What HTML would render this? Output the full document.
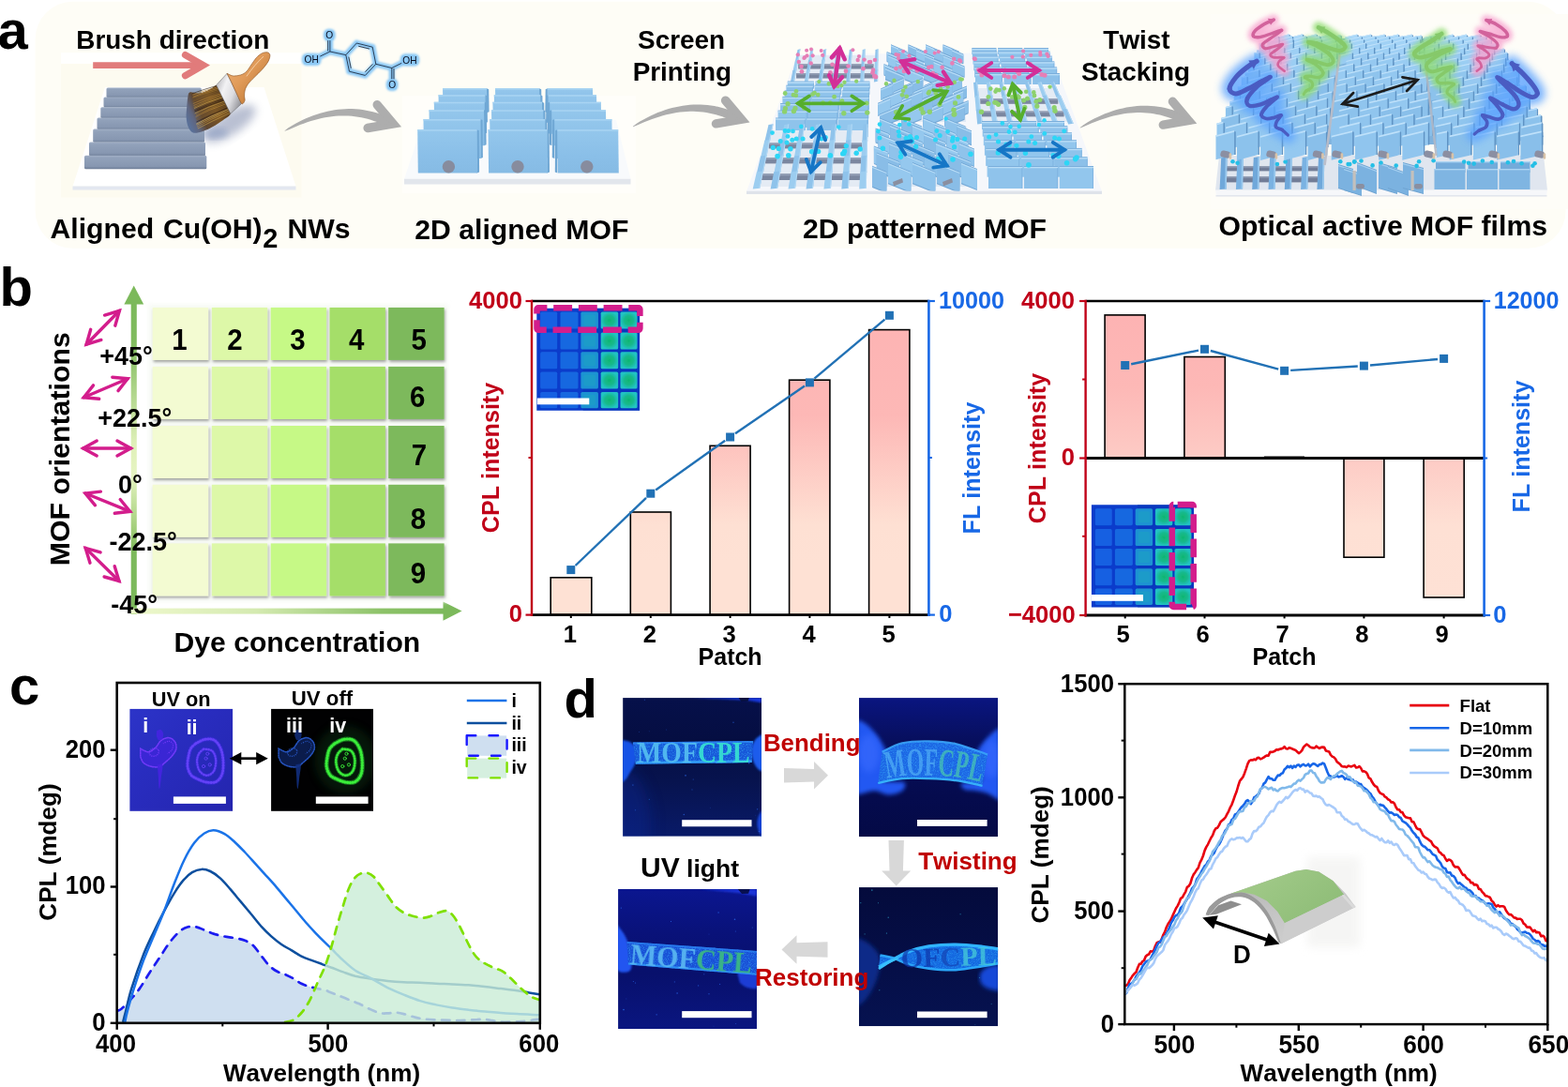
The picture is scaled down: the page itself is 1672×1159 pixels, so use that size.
<!DOCTYPE html>
<html lang="en">
<head>
<meta charset="utf-8">
<title>Figure: aligned MOF films with circularly polarized luminescence</title>
<style>
html,body{margin:0;padding:0;background:#fff;}
body{width:1672px;height:1159px;overflow:hidden;}
svg{display:block;}
text{font-family:"Liberation Sans",Arial,Helvetica,sans-serif;font-weight:bold;font-kerning:none;}
.r{fill:#c00018;}
.bl{fill:#1868e6;}
.w{fill:#fff;}
.serif{font-family:"Liberation Serif","Times New Roman",serif;}
.reg{font-weight:normal;}
</style>
</head>
<body>
<svg width="1672" height="1159" viewBox="0 0 1672 1159">
<!-- defs -->
<defs>
<linearGradient id="barG1" gradientUnits="userSpaceOnUse" x1="0" y1="330" x2="0" y2="600">
<stop offset="0" stop-color="#fdb3b3"/><stop offset="0.42" stop-color="#fdb8b6"/><stop offset="0.85" stop-color="#fee0d3"/><stop offset="1" stop-color="#fee1d4"/>
</linearGradient>
<linearGradient id="barG2" gradientUnits="userSpaceOnUse" x1="0" y1="336" x2="0" y2="640">
<stop offset="0" stop-color="#fdb3b3"/><stop offset="0.25" stop-color="#fdb8b6"/><stop offset="0.5" stop-color="#fdcbc5"/><stop offset="0.74" stop-color="#fee0d4"/><stop offset="1" stop-color="#fee1d5"/>
</linearGradient>
<linearGradient id="gV" gradientUnits="userSpaceOnUse" x1="0" y1="324" x2="0" y2="655">
<stop offset="0" stop-color="#7cb95b"/><stop offset="0.12" stop-color="#80bb5e"/><stop offset="0.45" stop-color="#dff0b8"/><stop offset="0.55" stop-color="#e6f4c2"/><stop offset="0.72" stop-color="#a4cf7c"/><stop offset="0.8" stop-color="#7cb95b"/><stop offset="1" stop-color="#7cb95b"/>
</linearGradient>
<linearGradient id="gH" gradientUnits="userSpaceOnUse" x1="140" y1="0" x2="475" y2="0">
<stop offset="0" stop-color="#eef8cc"/><stop offset="0.4" stop-color="#d4eab0"/><stop offset="0.8" stop-color="#8cc268"/><stop offset="1" stop-color="#7cb95b"/>
</linearGradient>
<filter id="cellSh" x="-10%" y="-10%" width="125%" height="125%">
<feGaussianBlur in="SourceAlpha" stdDeviation="1.6"/><feOffset dx="1" dy="1.5"/><feComponentTransfer><feFuncA type="linear" slope="0.36"/></feComponentTransfer>
<feMerge><feMergeNode/><feMergeNode in="SourceGraphic"/></feMerge>
</filter>
<filter id="blur1"><feGaussianBlur stdDeviation="1"/></filter>
<filter id="blur2"><feGaussianBlur stdDeviation="2"/></filter>
<filter id="blur3"><feGaussianBlur stdDeviation="3.2"/></filter>
<filter id="blur5" x="-30%" y="-30%" width="160%" height="160%"><feGaussianBlur stdDeviation="5"/></filter>
<filter id="blur8" x="-40%" y="-40%" width="180%" height="180%"><feGaussianBlur stdDeviation="8"/></filter>
<filter id="glowA" filterUnits="userSpaceOnUse" x="1280" y="0" width="392" height="240"><feGaussianBlur stdDeviation="2.6"/></filter>
<filter id="glowB" filterUnits="userSpaceOnUse" x="1280" y="0" width="392" height="240"><feGaussianBlur stdDeviation="4.2"/></filter>
<filter id="tsoft" x="-5%" y="-20%" width="110%" height="140%"><feGaussianBlur stdDeviation="0.55"/></filter>
<filter id="soft" x="-5%" y="-5%" width="110%" height="110%"><feGaussianBlur stdDeviation="0.75"/></filter>
</defs>

<!-- panel_a -->
<g id="panel-a">
<rect x="37.6" y="1.8" width="1632" height="263" rx="40" ry="40" fill="#fefdf6"/>
<rect x="65" y="56.2" width="256.5" height="12.5" fill="#ffffff" opacity="0.9"/>
<rect x="65" y="68" width="256.5" height="142.5" fill="#fdfbf0" />
<polygon points="112,93 281.5,93 315.5,198.8 77.5,198.8" fill="#ffffff" />
<polygon points="77.5,198.6 315.5,198.6 315.5,202.6 77.5,202.6" fill="#e3e7f0" />
<ellipse cx="245" cy="132" rx="32" ry="12" fill="#4a5a8a" opacity="0.38" filter="url(#blur5)" transform="rotate(-33 245 132)"/>
<ellipse cx="228" cy="142" rx="15" ry="6" fill="#6f88b8" opacity="0.35" filter="url(#blur3)"/>
<linearGradient id="nwG" x1="0" y1="0" x2="0" y2="1"><stop offset="0" stop-color="#a2b0c6"/><stop offset="0.18" stop-color="#91a1ba"/><stop offset="0.8" stop-color="#8797b1"/><stop offset="0.93" stop-color="#7888a2"/><stop offset="1" stop-color="#66768f"/></linearGradient>
<rect x="113.5" y="93.5" width="101.3" height="10.4" rx="1.5" fill="url(#nwG)"/>
<rect x="110.5" y="103.4" width="105.5" height="11.2" rx="1.5" fill="url(#nwG)"/>
<rect x="107.3" y="114.2" width="109.2" height="11.8" rx="1.5" fill="url(#nwG)"/>
<rect x="103.5" y="125.5" width="113.8" height="12.6" rx="1.5" fill="url(#nwG)"/>
<rect x="99.2" y="137.6" width="118.8" height="14.2" rx="1.5" fill="url(#nwG)"/>
<rect x="95" y="151.4" width="124" height="14.8" rx="1.5" fill="url(#nwG)"/>
<rect x="90" y="165.8" width="130.3" height="14.4" rx="1.5" fill="url(#nwG)"/>
<linearGradient id="brG" x1="0" y1="0.7" x2="1" y2="0.2"><stop offset="0" stop-color="#5a7098"/><stop offset="0.14" stop-color="#5f6680"/><stop offset="0.3" stop-color="#5e4630"/><stop offset="0.6" stop-color="#7a5424"/><stop offset="1" stop-color="#3a2412"/></linearGradient>
<path d="M230.7,90.7C229.2,91.7 224.7,95 221.4,96.4C218.1,97.9 214.3,99.2 211.1,99.5C207.9,99.9 204.1,97.7 202.3,98.5C200.5,99.3 200.7,101.5 200.2,104.2C199.7,106.9 199.4,111.1 199.2,114.6C198.9,118 198.4,121.5 198.6,124.9C198.9,128.4 199.5,132.5 200.7,135.3C201.9,138 203.3,140.7 205.9,141.5C208.5,142.3 212.8,141 216.2,139.9C219.7,138.9 223,137.3 226.6,135.3C230.2,133.3 234.8,130.4 238,128C241.2,125.7 245.1,123.9 245.8,121.3C246.5,118.7 243.8,116 242.1,112.5C240.5,109 237,102.1 235.9,100.1 Z" fill="url(#brG)"/>
<path d="M231.1,91.4 Q216.7,95.5 205.1,99.7" stroke="#3a2a1a" stroke-width="0.8" fill="none" opacity="0.8"/>
<path d="M231.8,92.8 Q217.2,96.9 205.4,101.2" stroke="#b98a3a" stroke-width="0.8" fill="none" opacity="0.8"/>
<path d="M232.5,94.2 Q216.7,98.4 205.7,103.4" stroke="#b98a3a" stroke-width="0.8" fill="none" opacity="0.8"/>
<path d="M233.1,95.6 Q217.1,99.8 205.5,104.4" stroke="#9a7430" stroke-width="0.8" fill="none" opacity="0.8"/>
<path d="M233.8,97 Q218.1,101.3 205.7,107.1" stroke="#7a5a2a" stroke-width="0.8" fill="none" opacity="0.8"/>
<path d="M234.5,98.4 Q218,102.7 205.6,108.5" stroke="#7a5a2a" stroke-width="0.8" fill="none" opacity="0.8"/>
<path d="M235.2,99.8 Q219.1,104.5 205.8,110.5" stroke="#b98a3a" stroke-width="0.8" fill="none" opacity="0.8"/>
<path d="M235.9,101.2 Q219.2,106.8 206.5,112.5" stroke="#b98a3a" stroke-width="0.8" fill="none" opacity="0.8"/>
<path d="M236.5,102.5 Q219.1,108.7 206.6,114.3" stroke="#9a7430" stroke-width="0.8" fill="none" opacity="0.8"/>
<path d="M237.2,103.9 Q219.7,109.1 207,115.5" stroke="#c8a048" stroke-width="0.8" fill="none" opacity="0.8"/>
<path d="M237.9,105.3 Q220.7,111.5 207.3,117.8" stroke="#3a2a1a" stroke-width="0.8" fill="none" opacity="0.8"/>
<path d="M238.6,106.7 Q221.4,112.6 207.6,119" stroke="#2d1d10" stroke-width="0.8" fill="none" opacity="0.8"/>
<path d="M239.3,108.1 Q220.9,114.1 207.7,121" stroke="#c8a048" stroke-width="0.8" fill="none" opacity="0.8"/>
<path d="M240,109.5 Q222.3,116 209,122.7" stroke="#9a7430" stroke-width="0.8" fill="none" opacity="0.8"/>
<path d="M240.6,110.9 Q221.8,117.2 208.5,124.7" stroke="#b98a3a" stroke-width="0.8" fill="none" opacity="0.8"/>
<path d="M241.3,112.3 Q222.5,119.3 209.1,126.9" stroke="#7a5a2a" stroke-width="0.8" fill="none" opacity="0.8"/>
<path d="M242,113.7 Q223.6,120.8 209.8,128.1" stroke="#7a5a2a" stroke-width="0.8" fill="none" opacity="0.8"/>
<path d="M242.7,115 Q224.1,122.5 209.4,130.1" stroke="#2d1d10" stroke-width="0.8" fill="none" opacity="0.8"/>
<path d="M243.4,116.4 Q223.4,124.3 209.1,132.3" stroke="#d6b45e" stroke-width="0.8" fill="none" opacity="0.8"/>
<path d="M244.1,117.8 Q224.3,125.8 209.8,133.3" stroke="#c8a048" stroke-width="0.8" fill="none" opacity="0.8"/>
<path d="M244.7,119.2 Q224.6,126.9 210,135.3" stroke="#b98a3a" stroke-width="0.8" fill="none" opacity="0.8"/>
<path d="M245.4,120.6 Q225.8,129.1 210.9,137" stroke="#c8a048" stroke-width="0.8" fill="none" opacity="0.8"/>
<linearGradient id="feG" x1="0" y1="0.2" x2="1" y2="0.8"><stop offset="0" stop-color="#b9b9be"/><stop offset="0.3" stop-color="#f2f2f4"/><stop offset="0.62" stop-color="#dcdce0"/><stop offset="1" stop-color="#8a8a90"/></linearGradient>
<polygon points="230.7,90.7 242.1,78.3 257.7,110.4 245.8,121.3" fill="url(#feG)" stroke="#5e5e64" stroke-width="0.5"/>
<linearGradient id="hdG" x1="0" y1="0" x2="1" y2="1"><stop offset="0" stop-color="#f0b478"/><stop offset="0.45" stop-color="#e09a58"/><stop offset="0.8" stop-color="#c07a38"/><stop offset="1" stop-color="#9a5a24"/></linearGradient>
<path d="M242.1,78.3C243.2,78.7 245.9,80.6 248.4,80.9C250.8,81.2 254.2,80.6 256.6,79.9C259.1,79.1 261,78.1 262.9,76.2C264.7,74.4 266.3,71.4 268,69C269.8,66.6 271.3,63.8 273.2,61.7C275.1,59.7 277.4,57.8 279.4,56.8C281.4,55.8 283.7,55.5 285.1,55.8C286.5,56.2 287.8,57.2 287.9,58.8C288,60.5 287.3,63.3 285.8,65.9C284.4,68.4 281.9,71.4 279.4,74.2C277,76.9 273.6,79.9 271.1,82.5C268.6,85 266,87.5 264.4,89.7C262.8,92 261.9,93.9 261.3,95.9C260.7,98 260.6,100.2 260.6,102.1C260.5,104 261.5,105.9 261,107.3C260.5,108.7 259.1,111.6 257.7,110.4C256.3,109.2 254.4,104 252.5,100.1C250.6,96.1 247.3,88.8 246.3,86.6 Z" fill="url(#hdG)" stroke="#8a5020" stroke-width="0.6"/>
<path d="M262.9,81.4C263.9,80 267,75.7 269.1,73.1C271.1,70.6 273.3,68 275.3,65.9C277.3,63.7 280,61.1 281,60.2" fill="none" stroke="#fbe0c0" stroke-width="0.9" opacity="0.8"/>
<line x1="99.2" y1="69.6" x2="212" y2="69.6" stroke="#e17b7b" stroke-width="6.6" />
<path d="M197.6,58.6 L216.6,69.6 L197.6,80.6" fill="none" stroke="#e17b7b" stroke-width="7.4" stroke-linecap="round" stroke-linejoin="miter"/>
<g filter="url(#blur1)"><path d="M368.8,58.6 L380.3,46 M380.3,46 L397.2,50.2 M397.2,50.2 L400.8,68.3 M400.8,68.3 L389.4,80.4 M389.4,80.4 L372.5,76.2 M372.5,76.2 L368.8,58.6 M368.8,58.6 L351.9,55 M351.9,55 L351.9,43.2 M351.9,55 L341.3,60.1 M400.8,68.3 L417.8,72.5 M417.8,72.5 L417.8,84.3 M417.8,72.5 L428.3,67.3" stroke="#8cc9f6" stroke-width="6.4" fill="none" stroke-linecap="round" stroke-linejoin="round"/><rect x="344.9" y="30.7" width="12.8" height="13.4" rx="5.5" fill="#8cc9f6"/><rect x="321.9" y="56.7" width="20.6" height="13.4" rx="5.5" fill="#8cc9f6"/><rect x="426.7" y="57.2" width="20.6" height="13.4" rx="5.5" fill="#8cc9f6"/><rect x="411.7" y="83.6" width="12.8" height="13.4" rx="5.5" fill="#8cc9f6"/></g><path d="M368.8,58.6 L380.3,46 M380.3,46 L397.2,50.2 M397.2,50.2 L400.8,68.3 M400.8,68.3 L389.4,80.4 M389.4,80.4 L372.5,76.2 M372.5,76.2 L368.8,58.6 M368.8,58.6 L351.9,55 M351.9,55 L351.9,43.2 M351.9,55 L341.3,60.1 M400.8,68.3 L417.8,72.5 M417.8,72.5 L417.8,84.3 M417.8,72.5 L428.3,67.3 M382.2,49.2 L394,52.1 M397.4,68.3 L389.4,76.7 M374.3,72.8 L371.8,60.6 M349.7,54.4 L349.7,43.2 M420,73.1 L420,84.3" stroke="#0b1020" stroke-width="0.75" fill="none"/><rect x="346.9" y="32.9" width="8.8" height="9.4" fill="#8cc9f6"/><text transform="translate(351.3 41.3) scale(1 1)" font-size="10.2" class="reg" text-anchor="middle" fill="#0b1020">O</text><rect x="324" y="58.9" width="16.4" height="9.4" fill="#8cc9f6"/><text transform="translate(332.2 67.3) scale(1 1)" font-size="10.2" class="reg" text-anchor="middle" fill="#0b1020">OH</text><rect x="428.8" y="59.4" width="16.4" height="9.4" fill="#8cc9f6"/><text transform="translate(437 67.8) scale(1 1)" font-size="10.2" class="reg" text-anchor="middle" fill="#0b1020">OH</text><rect x="413.7" y="85.8" width="8.8" height="9.4" fill="#8cc9f6"/><text transform="translate(418.1 94.2) scale(1 1)" font-size="10.2" class="reg" text-anchor="middle" fill="#0b1020">O</text>
<rect x="429" y="102" width="249" height="104" fill="#fffefa" />
<polygon points="452,128 657,128 672.5,191 431,191" fill="#f8fafc" />
<polygon points="431,190.8 672.5,190.8 672.5,196.6 431,196.6" fill="#e2e6ec" />
<linearGradient id="plG" x1="0" y1="0" x2="0" y2="1"><stop offset="0" stop-color="#94c7ec"/><stop offset="0.6" stop-color="#8abfe8"/><stop offset="1" stop-color="#86bbe4"/></linearGradient>
<polygon points="519,94.2 521.2,95.2 521.6,119.2 519,120.2" fill="#6fa7d4" />
<polygon points="472,94.2 519,94.2 519.6,120.2 472.6,120.2" fill="url(#plG)" />
<rect x="472" y="94.2" width="47" height="1.5" fill="#a9d4f3" />
<polygon points="575,94.2 577.2,95.2 577.6,119.2 575,120.2" fill="#6fa7d4" />
<polygon points="528,94.2 575,94.2 575.6,120.2 528.6,120.2" fill="url(#plG)" />
<rect x="528" y="94.2" width="47" height="1.5" fill="#a9d4f3" />
<polygon points="583.9,94.2 581.7,95.2 581.3,119.2 583.9,120.2" fill="#6fa7d4" />
<polygon points="583.9,94.2 632,94.2 632.6,120.2 584.5,120.2" fill="url(#plG)" />
<rect x="583.9" y="94.2" width="48.1" height="1.5" fill="#a9d4f3" />
<polygon points="517.3,101.2 519.5,102.2 519.9,130.2 517.3,131.2" fill="#6fa7d4" />
<polygon points="467.5,101.2 517.3,101.2 517.9,131.2 468.1,131.2" fill="url(#plG)" />
<rect x="467.5" y="101.2" width="49.8" height="1.5" fill="#a9d4f3" />
<polygon points="576.2,101.2 578.4,102.2 578.8,130.2 576.2,131.2" fill="#6fa7d4" />
<polygon points="526.8,101.2 576.2,101.2 576.8,131.2 527.4,131.2" fill="url(#plG)" />
<rect x="526.8" y="101.2" width="49.4" height="1.5" fill="#a9d4f3" />
<polygon points="584.7,101.2 582.5,102.2 582.1,130.2 584.7,131.2" fill="#6fa7d4" />
<polygon points="584.7,101.2 636,101.2 636.6,131.2 585.3,131.2" fill="url(#plG)" />
<rect x="584.7" y="101.2" width="51.3" height="1.5" fill="#a9d4f3" />
<polygon points="516.5,108.8 518.7,109.8 519.1,141.8 516.5,142.8" fill="#6fa7d4" />
<polygon points="462.8,108.8 516.5,108.8 517.1,142.8 463.4,142.8" fill="url(#plG)" />
<rect x="462.8" y="108.8" width="53.7" height="1.5" fill="#a9d4f3" />
<polygon points="578,108.8 580.2,109.8 580.6,141.8 578,142.8" fill="#6fa7d4" />
<polygon points="525.4,108.8 578,108.8 578.6,142.8 526,142.8" fill="url(#plG)" />
<rect x="525.4" y="108.8" width="52.6" height="1.5" fill="#a9d4f3" />
<polygon points="586.4,108.8 584.2,109.8 583.8,141.8 586.4,142.8" fill="#6fa7d4" />
<polygon points="586.4,108.8 640.8,108.8 641.4,142.8 587,142.8" fill="url(#plG)" />
<rect x="586.4" y="108.8" width="54.4" height="1.5" fill="#a9d4f3" />
<polygon points="516,117.3 518.2,118.3 518.6,154.3 516,155.3" fill="#6fa7d4" />
<polygon points="457.5,117.3 516,117.3 516.6,155.3 458.1,155.3" fill="url(#plG)" />
<rect x="457.5" y="117.3" width="58.5" height="1.5" fill="#a9d4f3" />
<polygon points="579.3,117.3 581.5,118.3 581.9,154.3 579.3,155.3" fill="#6fa7d4" />
<polygon points="524,117.3 579.3,117.3 579.9,155.3 524.6,155.3" fill="url(#plG)" />
<rect x="524" y="117.3" width="55.3" height="1.5" fill="#a9d4f3" />
<polygon points="588.4,117.3 586.2,118.3 585.8,154.3 588.4,155.3" fill="#6fa7d4" />
<polygon points="588.4,117.3 646,117.3 646.6,155.3 589,155.3" fill="url(#plG)" />
<rect x="588.4" y="117.3" width="57.6" height="1.5" fill="#a9d4f3" />
<polygon points="512.3,127.1 514.5,128.1 514.9,168.1 512.3,169.1" fill="#6fa7d4" />
<polygon points="451.5,127.1 512.3,127.1 512.9,169.1 452.1,169.1" fill="url(#plG)" />
<rect x="451.5" y="127.1" width="60.8" height="1.5" fill="#a9d4f3" />
<polygon points="581.2,127.1 583.4,128.1 583.8,168.1 581.2,169.1" fill="#6fa7d4" />
<polygon points="522.2,127.1 581.2,127.1 581.8,169.1 522.8,169.1" fill="url(#plG)" />
<rect x="522.2" y="127.1" width="59" height="1.5" fill="#a9d4f3" />
<polygon points="591.4,127.1 589.2,128.1 588.8,168.1 591.4,169.1" fill="#6fa7d4" />
<polygon points="591.4,127.1 652.4,127.1 653,169.1 592,169.1" fill="url(#plG)" />
<rect x="591.4" y="127.1" width="61" height="1.5" fill="#a9d4f3" />
<polygon points="508.5,138.2 510.7,139.2 511.1,183.6 508.5,184.6" fill="#6fa7d4" />
<polygon points="445.2,138.2 508.5,138.2 509.1,184.6 445.8,184.6" fill="url(#plG)" />
<rect x="445.2" y="138.2" width="63.3" height="1.5" fill="#a9d4f3" />
<polygon points="583.4,138.2 585.6,139.2 586,183.6 583.4,184.6" fill="#6fa7d4" />
<polygon points="520.5,138.2 583.4,138.2 584,184.6 521.1,184.6" fill="url(#plG)" />
<rect x="520.5" y="138.2" width="62.9" height="1.5" fill="#a9d4f3" />
<polygon points="594.4,138.2 592.2,139.2 591.8,183.6 594.4,184.6" fill="#6fa7d4" />
<polygon points="594.4,138.2 659.2,138.2 659.8,184.6 595,184.6" fill="url(#plG)" />
<rect x="594.4" y="138.2" width="64.8" height="1.5" fill="#a9d4f3" />
<circle cx="478.4" cy="177.8" r="6.7" fill="#878c9e"/>
<circle cx="552" cy="177.8" r="6.7" fill="#878c9e"/>
<circle cx="625.8" cy="177.8" r="6.7" fill="#878c9e"/>
<rect x="790" y="40" width="390" height="172" fill="#fefdf8" opacity="0.6"/>
<polygon points="850,58 1121,56 1175,204.2 796,204.2" fill="#f5f7fb" />
<polygon points="796,203.8 1175,203.8 1175,207 796,207" fill="#dfe3ea" />
<polygon points="852,59 935,59 934,85 845,85" fill="#e4ebf4" /><rect x="851.2" y="68.4" width="80.3" height="5.1" fill="#7a869f" /><rect x="851.2" y="68.4" width="80.3" height="1.5" fill="#939eb5" /><rect x="849.1" y="78.1" width="82.1" height="5.4" fill="#7a869f" /><rect x="849.1" y="78.1" width="82.1" height="1.6" fill="#939eb5" /><polygon points="850.5,53 853.5,52.2 851.4,64.7 848,65.5" fill="#8fc3eb" /><polygon points="852.6,52.4 853.5,52.2 851.4,64.7 850.3,64.9" fill="#b5daf5" /><polygon points="848,64 851.4,63.2 849.2,75.7 845.4,76.5" fill="#9ccdf0" /><polygon points="850.5,63.4 851.4,63.2 849.2,75.7 848.1,75.9" fill="#b5daf5" /><polygon points="845.4,75 849.2,74.2 847.1,86.7 842.9,87.5" fill="#8fc3eb" /><polygon points="848.3,74.4 849.2,74.2 847.1,86.7 846,86.9" fill="#b5daf5" /><polygon points="864.3,53 867.3,52.2 865.5,64.7 862.1,65.5" fill="#9ccdf0" /><polygon points="866.4,52.4 867.3,52.2 865.5,64.7 864.4,64.9" fill="#b5daf5" /><polygon points="862.1,64 865.5,63.2 863.7,75.7 859.9,76.5" fill="#8fc3eb" /><polygon points="864.6,63.4 865.5,63.2 863.7,75.7 862.6,75.9" fill="#b5daf5" /><polygon points="859.9,75 863.7,74.2 861.9,86.7 857.7,87.5" fill="#9ccdf0" /><polygon points="862.8,74.4 863.7,74.2 861.9,86.7 860.8,86.9" fill="#b5daf5" /><polygon points="878.2,53 881.2,52.2 879.7,64.7 876.3,65.5" fill="#8fc3eb" /><polygon points="880.3,52.4 881.2,52.2 879.7,64.7 878.6,64.9" fill="#b5daf5" /><polygon points="876.3,64 879.7,63.2 878.2,75.7 874.4,76.5" fill="#9ccdf0" /><polygon points="878.8,63.4 879.7,63.2 878.2,75.7 877.1,75.9" fill="#b5daf5" /><polygon points="874.4,75 878.2,74.2 876.8,86.7 872.6,87.5" fill="#8fc3eb" /><polygon points="877.3,74.4 878.2,74.2 876.8,86.7 875.7,86.9" fill="#b5daf5" /><polygon points="892,53 895,52.2 893.9,64.7 890.5,65.5" fill="#9ccdf0" /><polygon points="894.1,52.4 895,52.2 893.9,64.7 892.8,64.9" fill="#b5daf5" /><polygon points="890.5,64 893.9,63.2 892.7,75.7 888.9,76.5" fill="#8fc3eb" /><polygon points="893,63.4 893.9,63.2 892.7,75.7 891.6,75.9" fill="#b5daf5" /><polygon points="888.9,75 892.7,74.2 891.6,86.7 887.4,87.5" fill="#9ccdf0" /><polygon points="891.8,74.4 892.7,74.2 891.6,86.7 890.5,86.9" fill="#b5daf5" /><polygon points="905.8,53 908.8,52.2 908,64.7 904.6,65.5" fill="#8fc3eb" /><polygon points="907.9,52.4 908.8,52.2 908,64.7 906.9,64.9" fill="#b5daf5" /><polygon points="904.6,64 908,63.2 907.2,75.7 903.4,76.5" fill="#9ccdf0" /><polygon points="907.1,63.4 908,63.2 907.2,75.7 906.1,75.9" fill="#b5daf5" /><polygon points="903.4,75 907.2,74.2 906.4,86.7 902.2,87.5" fill="#8fc3eb" /><polygon points="906.3,74.4 907.2,74.2 906.4,86.7 905.3,86.9" fill="#b5daf5" /><polygon points="919.7,53 922.7,52.2 922.2,64.7 918.8,65.5" fill="#9ccdf0" /><polygon points="921.8,52.4 922.7,52.2 922.2,64.7 921.1,64.9" fill="#b5daf5" /><polygon points="918.8,64 922.2,63.2 921.7,75.7 917.9,76.5" fill="#8fc3eb" /><polygon points="921.3,63.4 922.2,63.2 921.7,75.7 920.6,75.9" fill="#b5daf5" /><polygon points="917.9,75 921.7,74.2 921.3,86.7 917.1,87.5" fill="#9ccdf0" /><polygon points="920.8,74.4 921.7,74.2 921.3,86.7 920.2,86.9" fill="#b5daf5" /><polygon points="933.5,53 936.5,52.2 936.4,64.7 933,65.5" fill="#8fc3eb" /><polygon points="935.6,52.4 936.5,52.2 936.4,64.7 935.3,64.9" fill="#b5daf5" /><polygon points="933,64 936.4,63.2 936.2,75.7 932.4,76.5" fill="#9ccdf0" /><polygon points="935.5,63.4 936.4,63.2 936.2,75.7 935.1,75.9" fill="#b5daf5" /><polygon points="932.4,75 936.2,74.2 936.1,86.7 931.9,87.5" fill="#8fc3eb" /><polygon points="935.3,74.4 936.2,74.2 936.1,86.7 935,86.9" fill="#b5daf5" />
<rect x="839.8" y="86.5" width="28.1" height="1.2" fill="#7aaedb" /><rect x="839.8" y="87.5" width="28.1" height="7" fill="#8fc3eb" /><rect x="839.8" y="87.5" width="28.1" height="1.3" fill="#b9ddf7" /><rect x="867" y="88.7" width="0.9" height="5.8" fill="#7fb4e0" /><rect x="869.5" y="86.5" width="28.1" height="1.2" fill="#7aaedb" /><rect x="869.5" y="87.5" width="28.1" height="7" fill="#8cc0e9" /><rect x="869.5" y="87.5" width="28.1" height="1.3" fill="#b9ddf7" /><rect x="896.8" y="88.7" width="0.9" height="5.8" fill="#7fb4e0" /><rect x="899.3" y="86.5" width="28.1" height="1.2" fill="#7aaedb" /><rect x="899.3" y="87.5" width="28.1" height="7" fill="#92c6ed" /><rect x="899.3" y="87.5" width="28.1" height="1.3" fill="#b9ddf7" /><rect x="926.5" y="88.7" width="0.9" height="5.8" fill="#7fb4e0" /><rect x="838.4" y="90.7" width="28.5" height="1.2" fill="#7aaedb" /><rect x="838.4" y="91.7" width="28.5" height="9.1" fill="#8cc0e9" /><rect x="838.4" y="91.7" width="28.5" height="1.3" fill="#b9ddf7" /><rect x="866.1" y="92.9" width="0.9" height="7.9" fill="#7fb4e0" /><rect x="868.6" y="90.7" width="28.5" height="1.2" fill="#7aaedb" /><rect x="868.6" y="91.7" width="28.5" height="9.1" fill="#92c6ed" /><rect x="868.6" y="91.7" width="28.5" height="1.3" fill="#b9ddf7" /><rect x="896.2" y="92.9" width="0.9" height="7.9" fill="#7fb4e0" /><rect x="898.7" y="90.7" width="28.5" height="1.2" fill="#7aaedb" /><rect x="898.7" y="91.7" width="28.5" height="9.1" fill="#8fc3eb" /><rect x="898.7" y="91.7" width="28.5" height="1.3" fill="#b9ddf7" /><rect x="926.3" y="92.9" width="0.9" height="7.9" fill="#7fb4e0" /><rect x="836.6" y="96.4" width="29" height="1.2" fill="#7aaedb" /><rect x="836.6" y="97.4" width="29" height="11.2" fill="#92c6ed" /><rect x="836.6" y="97.4" width="29" height="1.3" fill="#b9ddf7" /><rect x="864.7" y="98.6" width="0.9" height="10" fill="#7fb4e0" /><rect x="867.2" y="96.4" width="29" height="1.2" fill="#7aaedb" /><rect x="867.2" y="97.4" width="29" height="11.2" fill="#8fc3eb" /><rect x="867.2" y="97.4" width="29" height="1.3" fill="#b9ddf7" /><rect x="895.3" y="98.6" width="0.9" height="10" fill="#7fb4e0" /><rect x="897.8" y="96.4" width="29" height="1.2" fill="#7aaedb" /><rect x="897.8" y="97.4" width="29" height="11.2" fill="#8cc0e9" /><rect x="897.8" y="97.4" width="29" height="1.3" fill="#b9ddf7" /><rect x="926" y="98.6" width="0.9" height="10" fill="#7fb4e0" /><rect x="834.4" y="102.9" width="29.6" height="1.2" fill="#7aaedb" /><rect x="834.4" y="103.9" width="29.6" height="13.2" fill="#8fc3eb" /><rect x="834.4" y="103.9" width="29.6" height="1.3" fill="#b9ddf7" /><rect x="863.2" y="105.1" width="0.9" height="12.1" fill="#7fb4e0" /><rect x="865.7" y="102.9" width="29.6" height="1.2" fill="#7aaedb" /><rect x="865.7" y="103.9" width="29.6" height="13.2" fill="#8cc0e9" /><rect x="865.7" y="103.9" width="29.6" height="1.3" fill="#b9ddf7" /><rect x="894.4" y="105.1" width="0.9" height="12.1" fill="#7fb4e0" /><rect x="896.9" y="102.9" width="29.6" height="1.2" fill="#7aaedb" /><rect x="896.9" y="103.9" width="29.6" height="13.2" fill="#92c6ed" /><rect x="896.9" y="103.9" width="29.6" height="1.3" fill="#b9ddf7" /><rect x="925.7" y="105.1" width="0.9" height="12.1" fill="#7fb4e0" /><rect x="832.1" y="110" width="30.3" height="1.2" fill="#7aaedb" /><rect x="832.1" y="111" width="30.3" height="15.3" fill="#8cc0e9" /><rect x="832.1" y="111" width="30.3" height="1.3" fill="#b9ddf7" /><rect x="861.5" y="112.2" width="0.9" height="14.1" fill="#7fb4e0" /><rect x="864" y="110" width="30.3" height="1.2" fill="#7aaedb" /><rect x="864" y="111" width="30.3" height="15.3" fill="#92c6ed" /><rect x="864" y="111" width="30.3" height="1.3" fill="#b9ddf7" /><rect x="893.4" y="112.2" width="0.9" height="14.1" fill="#7fb4e0" /><rect x="895.9" y="110" width="30.3" height="1.2" fill="#7aaedb" /><rect x="895.9" y="111" width="30.3" height="15.3" fill="#8fc3eb" /><rect x="895.9" y="111" width="30.3" height="1.3" fill="#b9ddf7" /><rect x="925.3" y="112.2" width="0.9" height="14.1" fill="#7fb4e0" /><rect x="829.6" y="117.6" width="31" height="1.2" fill="#7aaedb" /><rect x="829.6" y="118.6" width="31" height="17.4" fill="#92c6ed" /><rect x="829.6" y="118.6" width="31" height="1.3" fill="#b9ddf7" /><rect x="859.7" y="119.8" width="0.9" height="16.2" fill="#7fb4e0" /><rect x="862.2" y="117.6" width="31" height="1.2" fill="#7aaedb" /><rect x="862.2" y="118.6" width="31" height="17.4" fill="#8fc3eb" /><rect x="862.2" y="118.6" width="31" height="1.3" fill="#b9ddf7" /><rect x="892.3" y="119.8" width="0.9" height="16.2" fill="#7fb4e0" /><rect x="894.8" y="117.6" width="31" height="1.2" fill="#7aaedb" /><rect x="894.8" y="118.6" width="31" height="17.4" fill="#8cc0e9" /><rect x="894.8" y="118.6" width="31" height="1.3" fill="#b9ddf7" /><rect x="924.9" y="119.8" width="0.9" height="16.2" fill="#7fb4e0" /><rect x="827" y="125.5" width="31.7" height="1.2" fill="#7aaedb" /><rect x="827" y="126.5" width="31.7" height="19.5" fill="#8fc3eb" /><rect x="827" y="126.5" width="31.7" height="1.3" fill="#b9ddf7" /><rect x="857.8" y="127.7" width="0.9" height="18.3" fill="#7fb4e0" /><rect x="860.3" y="125.5" width="31.7" height="1.2" fill="#7aaedb" /><rect x="860.3" y="126.5" width="31.7" height="19.5" fill="#8cc0e9" /><rect x="860.3" y="126.5" width="31.7" height="1.3" fill="#b9ddf7" /><rect x="891.2" y="127.7" width="0.9" height="18.3" fill="#7fb4e0" /><rect x="893.7" y="125.5" width="31.7" height="1.2" fill="#7aaedb" /><rect x="893.7" y="126.5" width="31.7" height="19.5" fill="#92c6ed" /><rect x="893.7" y="126.5" width="31.7" height="1.3" fill="#b9ddf7" /><rect x="924.5" y="127.7" width="0.9" height="18.3" fill="#7fb4e0" />
<polygon points="822,139 923,139 920,199 806.5,199" fill="#e4ebf4" /><rect x="819.8" y="152.5" width="99.2" height="5.9" fill="#7a869f" /><rect x="819.8" y="152.5" width="99.2" height="1.8" fill="#939eb5" /><rect x="816.1" y="168.1" width="102.1" height="6.3" fill="#7a869f" /><rect x="816.1" y="168.1" width="102.1" height="1.9" fill="#939eb5" /><rect x="812.1" y="185.3" width="105.4" height="6.7" fill="#7a869f" /><rect x="812.1" y="185.3" width="105.4" height="2" fill="#939eb5" /><polygon points="819.5,133 824.5,132.2 821,150.4 815.3,151.2" fill="#8fc3eb" /><polygon points="823.6,132.4 824.5,132.2 821,150.4 819.9,150.7" fill="#b5daf5" /><polygon points="815.3,149.8 821,148.9 817.4,167.2 811.1,168" fill="#9ccdf0" /><polygon points="820.1,149.2 821,148.9 817.4,167.2 816.3,167.4" fill="#b5daf5" /><polygon points="811.1,166.5 817.4,165.7 813.9,183.9 806.9,184.8" fill="#8fc3eb" /><polygon points="816.5,165.9 817.4,165.7 813.9,183.9 812.8,184.2" fill="#b5daf5" /><polygon points="806.9,183.2 813.9,182.4 810.3,200.7 802.7,201.5" fill="#9ccdf0" /><polygon points="813,182.7 813.9,182.4 810.3,200.7 809.2,200.9" fill="#b5daf5" /><polygon points="836.3,133 841.3,132.2 838.3,150.4 832.7,151.2" fill="#9ccdf0" /><polygon points="840.4,132.4 841.3,132.2 838.3,150.4 837.2,150.7" fill="#b5daf5" /><polygon points="832.7,149.8 838.3,148.9 835.3,167.2 829,168" fill="#8fc3eb" /><polygon points="837.4,149.2 838.3,148.9 835.3,167.2 834.2,167.4" fill="#b5daf5" /><polygon points="829,166.5 835.3,165.7 832.2,183.9 825.3,184.8" fill="#9ccdf0" /><polygon points="834.4,165.9 835.3,165.7 832.2,183.9 831.1,184.2" fill="#b5daf5" /><polygon points="825.3,183.2 832.2,182.4 829.2,200.7 821.6,201.5" fill="#8fc3eb" /><polygon points="831.3,182.7 832.2,182.4 829.2,200.7 828.1,200.9" fill="#b5daf5" /><polygon points="853.2,133 858.2,132.2 855.7,150.4 850,151.2" fill="#8fc3eb" /><polygon points="857.3,132.4 858.2,132.2 855.7,150.4 854.6,150.7" fill="#b5daf5" /><polygon points="850,149.8 855.7,148.9 853.1,167.2 846.9,168" fill="#9ccdf0" /><polygon points="854.8,149.2 855.7,148.9 853.1,167.2 852,167.4" fill="#b5daf5" /><polygon points="846.9,166.5 853.1,165.7 850.6,183.9 843.7,184.8" fill="#8fc3eb" /><polygon points="852.2,165.9 853.1,165.7 850.6,183.9 849.5,184.2" fill="#b5daf5" /><polygon points="843.7,183.2 850.6,182.4 848.1,200.7 840.5,201.5" fill="#9ccdf0" /><polygon points="849.7,182.7 850.6,182.4 848.1,200.7 847,200.9" fill="#b5daf5" /><polygon points="870,133 875,132.2 873,150.4 867.4,151.2" fill="#9ccdf0" /><polygon points="874.1,132.4 875,132.2 873,150.4 871.9,150.7" fill="#b5daf5" /><polygon points="867.4,149.8 873,148.9 871,167.2 864.7,168" fill="#8fc3eb" /><polygon points="872.1,149.2 873,148.9 871,167.2 869.9,167.4" fill="#b5daf5" /><polygon points="864.7,166.5 871,165.7 869,183.9 862.1,184.8" fill="#9ccdf0" /><polygon points="870.1,165.9 871,165.7 869,183.9 867.9,184.2" fill="#b5daf5" /><polygon points="862.1,183.2 869,182.4 867,200.7 859.5,201.5" fill="#8fc3eb" /><polygon points="868.1,182.7 869,182.4 867,200.7 865.9,200.9" fill="#b5daf5" /><polygon points="886.8,133 891.8,132.2 890.4,150.4 884.7,151.2" fill="#8fc3eb" /><polygon points="890.9,132.4 891.8,132.2 890.4,150.4 889.3,150.7" fill="#b5daf5" /><polygon points="884.7,149.8 890.4,148.9 888.9,167.2 882.6,168" fill="#9ccdf0" /><polygon points="889.5,149.2 890.4,148.9 888.9,167.2 887.8,167.4" fill="#b5daf5" /><polygon points="882.6,166.5 888.9,165.7 887.4,183.9 880.5,184.8" fill="#8fc3eb" /><polygon points="888,165.9 888.9,165.7 887.4,183.9 886.3,184.2" fill="#b5daf5" /><polygon points="880.5,183.2 887.4,182.4 886,200.7 878.4,201.5" fill="#9ccdf0" /><polygon points="886.5,182.7 887.4,182.4 886,200.7 884.9,200.9" fill="#b5daf5" /><polygon points="903.7,133 908.7,132.2 907.7,150.4 902.1,151.2" fill="#9ccdf0" /><polygon points="907.8,132.4 908.7,132.2 907.7,150.4 906.6,150.7" fill="#b5daf5" /><polygon points="902.1,149.8 907.7,148.9 906.8,167.2 900.5,168" fill="#8fc3eb" /><polygon points="906.8,149.2 907.7,148.9 906.8,167.2 905.7,167.4" fill="#b5daf5" /><polygon points="900.5,166.5 906.8,165.7 905.8,183.9 898.9,184.8" fill="#9ccdf0" /><polygon points="905.9,165.9 906.8,165.7 905.8,183.9 904.7,184.2" fill="#b5daf5" /><polygon points="898.9,183.2 905.8,182.4 904.9,200.7 897.3,201.5" fill="#8fc3eb" /><polygon points="904.9,182.7 905.8,182.4 904.9,200.7 903.8,200.9" fill="#b5daf5" /><polygon points="920.5,133 925.5,132.2 925.1,150.4 919.4,151.2" fill="#8fc3eb" /><polygon points="924.6,132.4 925.5,132.2 925.1,150.4 924,150.7" fill="#b5daf5" /><polygon points="919.4,149.8 925.1,148.9 924.6,167.2 918.4,168" fill="#9ccdf0" /><polygon points="924.2,149.2 925.1,148.9 924.6,167.2 923.5,167.4" fill="#b5daf5" /><polygon points="918.4,166.5 924.6,165.7 924.2,183.9 917.3,184.8" fill="#8fc3eb" /><polygon points="923.8,165.9 924.6,165.7 924.2,183.9 923.1,184.2" fill="#b5daf5" /><polygon points="917.3,183.2 924.2,182.4 923.8,200.7 916.2,201.5" fill="#9ccdf0" /><polygon points="923.3,182.7 924.2,182.4 923.8,200.7 922.7,200.9" fill="#b5daf5" />
<polygon points="950,56 1024,56 1026,87 944,87" fill="#dfe9f4" /><polygon points="950,47.3 967.4,54.7 967.4,64.9 950,57.5" fill="#74a8d6" /><polygon points="950,48.3 967.4,55.7 967.4,63.7 950,56.3" fill="#8fc3eb" /><polygon points="950,48.3 967.4,55.7 967.4,56.9 950,49.5" fill="#b9ddf7" /><polygon points="968.5,47.3 985.9,54.7 985.9,64.9 968.5,57.5" fill="#74a8d6" /><polygon points="968.5,48.3 985.9,55.7 985.9,63.7 968.5,56.3" fill="#89bde7" /><polygon points="968.5,48.3 985.9,55.7 985.9,56.9 968.5,49.5" fill="#b9ddf7" /><polygon points="987,47.3 1004.4,54.7 1004.4,64.9 987,57.5" fill="#74a8d6" /><polygon points="987,48.3 1004.4,55.7 1004.4,63.7 987,56.3" fill="#95c8ee" /><polygon points="987,48.3 1004.4,55.7 1004.4,56.9 987,49.5" fill="#b9ddf7" /><polygon points="1005.5,47.3 1022.9,54.7 1022.9,64.9 1005.5,57.5" fill="#74a8d6" /><polygon points="1005.5,48.3 1022.9,55.7 1022.9,63.7 1005.5,56.3" fill="#8fc3eb" /><polygon points="1005.5,48.3 1022.9,55.7 1022.9,56.9 1005.5,49.5" fill="#b9ddf7" /><polygon points="945.6,55.1 956.9,59.8 956.9,70.8 945.6,66.1" fill="#74a8d6" /><polygon points="945.6,56.1 956.9,60.8 956.9,69.6 945.6,64.9" fill="#8fc3eb" /><polygon points="945.6,56.1 956.9,60.8 956.9,62 945.6,57.3" fill="#b9ddf7" /><polygon points="958,52.3 975.9,59.8 975.9,70.8 958,63.3" fill="#74a8d6" /><polygon points="958,53.3 975.9,60.8 975.9,69.6 958,62.1" fill="#89bde7" /><polygon points="958,53.3 975.9,60.8 975.9,62 958,54.5" fill="#b9ddf7" /><polygon points="977,52.3 994.9,59.8 994.9,70.8 977,63.3" fill="#74a8d6" /><polygon points="977,53.3 994.9,60.8 994.9,69.6 977,62.1" fill="#95c8ee" /><polygon points="977,53.3 994.9,60.8 994.9,62 977,54.5" fill="#b9ddf7" /><polygon points="996,52.3 1013.9,59.8 1013.9,70.8 996,63.3" fill="#74a8d6" /><polygon points="996,53.3 1013.9,60.8 1013.9,69.6 996,62.1" fill="#8fc3eb" /><polygon points="996,53.3 1013.9,60.8 1013.9,62 996,54.5" fill="#b9ddf7" /><polygon points="1015,52.3 1027.3,57.5 1027.3,68.5 1015,63.3" fill="#74a8d6" /><polygon points="1015,53.3 1027.3,58.5 1027.3,67.3 1015,62.1" fill="#89bde7" /><polygon points="1015,53.3 1027.3,58.5 1027.3,59.7 1015,54.5" fill="#b9ddf7" /><polygon points="947,58.4 965.3,66.1 965.3,77.8 947,70.1" fill="#74a8d6" /><polygon points="947,59.4 965.3,67.1 965.3,76.6 947,68.9" fill="#95c8ee" /><polygon points="947,59.4 965.3,67.1 965.3,68.3 947,60.6" fill="#b9ddf7" /><polygon points="966.5,58.4 984.8,66.1 984.8,77.8 966.5,70.1" fill="#74a8d6" /><polygon points="966.5,59.4 984.8,67.1 984.8,76.6 966.5,68.9" fill="#8fc3eb" /><polygon points="966.5,59.4 984.8,67.1 984.8,68.3 966.5,60.6" fill="#b9ddf7" /><polygon points="986,58.4 1004.3,66.1 1004.3,77.8 986,70.1" fill="#74a8d6" /><polygon points="986,59.4 1004.3,67.1 1004.3,76.6 986,68.9" fill="#89bde7" /><polygon points="986,59.4 1004.3,67.1 1004.3,68.3 986,60.6" fill="#b9ddf7" /><polygon points="1005.5,58.4 1023.8,66.1 1023.8,77.8 1005.5,70.1" fill="#74a8d6" /><polygon points="1005.5,59.4 1023.8,67.1 1023.8,76.6 1005.5,68.9" fill="#95c8ee" /><polygon points="1005.5,59.4 1023.8,67.1 1023.8,68.3 1005.5,60.6" fill="#b9ddf7" /><polygon points="942.5,68 954.3,72.9 954.3,85.4 942.5,80.4" fill="#74a8d6" /><polygon points="942.5,69 954.3,73.9 954.3,84.2 942.5,79.2" fill="#95c8ee" /><polygon points="942.5,69 954.3,73.9 954.3,75.1 942.5,70.2" fill="#b9ddf7" /><polygon points="955.5,65 974.3,72.9 974.3,85.4 955.5,77.5" fill="#74a8d6" /><polygon points="955.5,66 974.3,73.9 974.3,84.2 955.5,76.3" fill="#8fc3eb" /><polygon points="955.5,66 974.3,73.9 974.3,75.1 955.5,67.2" fill="#b9ddf7" /><polygon points="975.5,65 994.3,72.9 994.3,85.4 975.5,77.5" fill="#74a8d6" /><polygon points="975.5,66 994.3,73.9 994.3,84.2 975.5,76.3" fill="#89bde7" /><polygon points="975.5,66 994.3,73.9 994.3,75.1 975.5,67.2" fill="#b9ddf7" /><polygon points="995.5,65 1014.3,72.9 1014.3,85.4 995.5,77.5" fill="#74a8d6" /><polygon points="995.5,66 1014.3,73.9 1014.3,84.2 995.5,76.3" fill="#95c8ee" /><polygon points="995.5,66 1014.3,73.9 1014.3,75.1 995.5,67.2" fill="#b9ddf7" /><polygon points="1015.5,65 1028.5,70.5 1028.5,82.9 1015.5,77.5" fill="#74a8d6" /><polygon points="1015.5,66 1028.5,71.5 1028.5,81.7 1015.5,76.3" fill="#8fc3eb" /><polygon points="1015.5,66 1028.5,71.5 1028.5,72.7 1015.5,67.2" fill="#b9ddf7" /><polygon points="944,72 963.3,80 963.3,93.2 944,85.2" fill="#74a8d6" /><polygon points="944,73 963.3,81 963.3,92 944,84" fill="#89bde7" /><polygon points="944,73 963.3,81 963.3,82.2 944,74.2" fill="#b9ddf7" /><polygon points="964.5,72 983.8,80 983.8,93.2 964.5,85.2" fill="#74a8d6" /><polygon points="964.5,73 983.8,81 983.8,92 964.5,84" fill="#95c8ee" /><polygon points="964.5,73 983.8,81 983.8,82.2 964.5,74.2" fill="#b9ddf7" /><polygon points="985,72 1004.3,80 1004.3,93.2 985,85.2" fill="#74a8d6" /><polygon points="985,73 1004.3,81 1004.3,92 985,84" fill="#8fc3eb" /><polygon points="985,73 1004.3,81 1004.3,82.2 985,74.2" fill="#b9ddf7" /><polygon points="1005.5,72 1024.8,80 1024.8,93.2 1005.5,85.2" fill="#74a8d6" /><polygon points="1005.5,73 1024.8,81 1024.8,92 1005.5,84" fill="#89bde7" /><polygon points="1005.5,73 1024.8,81 1024.8,82.2 1005.5,74.2" fill="#b9ddf7" />
<polygon points="944,92 1027,92 1030,130 938,130" fill="#dfe9f4" /><polygon points="944,91.1 963.5,82.9 963.5,95.1 944,103.3" fill="#74a8d6" /><polygon points="944,92.1 963.5,83.9 963.5,93.9 944,102.1" fill="#8fc3eb" /><polygon points="944,92.1 963.5,83.9 963.5,85.1 944,93.3" fill="#b9ddf7" /><polygon points="964.8,91.1 984.3,82.9 984.3,95.1 964.8,103.3" fill="#74a8d6" /><polygon points="964.8,92.1 984.3,83.9 984.3,93.9 964.8,102.1" fill="#89bde7" /><polygon points="964.8,92.1 984.3,83.9 984.3,85.1 964.8,93.3" fill="#b9ddf7" /><polygon points="985.5,91.1 1005,82.9 1005,95.1 985.5,103.3" fill="#74a8d6" /><polygon points="985.5,92.1 1005,83.9 1005,93.9 985.5,102.1" fill="#95c8ee" /><polygon points="985.5,92.1 1005,83.9 1005,85.1 985.5,93.3" fill="#b9ddf7" /><polygon points="1006.2,91.1 1025.8,82.9 1025.8,95.1 1006.2,103.3" fill="#74a8d6" /><polygon points="1006.2,92.1 1025.8,83.9 1025.8,93.9 1006.2,102.1" fill="#8fc3eb" /><polygon points="1006.2,92.1 1025.8,83.9 1025.8,85.1 1006.2,93.3" fill="#b9ddf7" /><polygon points="939.3,94.2 951.9,88.9 951.9,101.8 939.3,107.1" fill="#74a8d6" /><polygon points="939.3,95.2 951.9,89.9 951.9,100.6 939.3,105.9" fill="#8fc3eb" /><polygon points="939.3,95.2 951.9,89.9 951.9,91.1 939.3,96.4" fill="#b9ddf7" /><polygon points="953.2,97.3 973.2,88.9 973.2,101.8 953.2,110.2" fill="#74a8d6" /><polygon points="953.2,98.3 973.2,89.9 973.2,100.6 953.2,109" fill="#89bde7" /><polygon points="953.2,98.3 973.2,89.9 973.2,91.1 953.2,99.5" fill="#b9ddf7" /><polygon points="974.5,97.3 994.5,88.9 994.5,101.8 974.5,110.2" fill="#74a8d6" /><polygon points="974.5,98.3 994.5,89.9 994.5,100.6 974.5,109" fill="#95c8ee" /><polygon points="974.5,98.3 994.5,89.9 994.5,91.1 974.5,99.5" fill="#b9ddf7" /><polygon points="995.8,97.3 1015.8,88.9 1015.8,101.8 995.8,110.2" fill="#74a8d6" /><polygon points="995.8,98.3 1015.8,89.9 1015.8,100.6 995.8,109" fill="#8fc3eb" /><polygon points="995.8,98.3 1015.8,89.9 1015.8,91.1 995.8,99.5" fill="#b9ddf7" /><polygon points="1017.1,97.3 1030.9,91.5 1030.9,104.4 1017.1,110.2" fill="#74a8d6" /><polygon points="1017.1,98.3 1030.9,92.5 1030.9,103.2 1017.1,109" fill="#89bde7" /><polygon points="1017.1,98.3 1030.9,92.5 1030.9,93.7 1017.1,99.5" fill="#b9ddf7" /><polygon points="941,104.8 961.6,96.2 961.6,109.9 941,118.5" fill="#74a8d6" /><polygon points="941,105.8 961.6,97.2 961.6,108.7 941,117.3" fill="#95c8ee" /><polygon points="941,105.8 961.6,97.2 961.6,98.4 941,107" fill="#b9ddf7" /><polygon points="962.9,104.8 983.4,96.2 983.4,109.9 962.9,118.5" fill="#74a8d6" /><polygon points="962.9,105.8 983.4,97.2 983.4,108.7 962.9,117.3" fill="#8fc3eb" /><polygon points="962.9,105.8 983.4,97.2 983.4,98.4 962.9,107" fill="#b9ddf7" /><polygon points="984.8,104.8 1005.3,96.2 1005.3,109.9 984.8,118.5" fill="#74a8d6" /><polygon points="984.8,105.8 1005.3,97.2 1005.3,108.7 984.8,117.3" fill="#89bde7" /><polygon points="984.8,105.8 1005.3,97.2 1005.3,98.4 984.8,107" fill="#b9ddf7" /><polygon points="1006.6,104.8 1027.2,96.2 1027.2,109.9 1006.6,118.5" fill="#74a8d6" /><polygon points="1006.6,105.8 1027.2,97.2 1027.2,108.7 1006.6,117.3" fill="#95c8ee" /><polygon points="1006.6,105.8 1027.2,97.2 1027.2,98.4 1006.6,107" fill="#b9ddf7" /><polygon points="936.1,109.7 949.4,104.1 949.4,118.6 936.1,124.1" fill="#74a8d6" /><polygon points="936.1,110.7 949.4,105.1 949.4,117.4 936.1,122.9" fill="#95c8ee" /><polygon points="936.1,110.7 949.4,105.1 949.4,106.3 936.1,111.9" fill="#b9ddf7" /><polygon points="950.7,113 971.8,104.1 971.8,118.6 950.7,127.4" fill="#74a8d6" /><polygon points="950.7,114 971.8,105.1 971.8,117.4 950.7,126.2" fill="#8fc3eb" /><polygon points="950.7,114 971.8,105.1 971.8,106.3 950.7,115.2" fill="#b9ddf7" /><polygon points="973.2,113 994.2,104.1 994.2,118.6 973.2,127.4" fill="#74a8d6" /><polygon points="973.2,114 994.2,105.1 994.2,117.4 973.2,126.2" fill="#89bde7" /><polygon points="973.2,114 994.2,105.1 994.2,106.3 973.2,115.2" fill="#b9ddf7" /><polygon points="995.6,113 1016.7,104.1 1016.7,118.6 995.6,127.4" fill="#74a8d6" /><polygon points="995.6,114 1016.7,105.1 1016.7,117.4 995.6,126.2" fill="#95c8ee" /><polygon points="995.6,114 1016.7,105.1 1016.7,106.3 995.6,115.2" fill="#b9ddf7" /><polygon points="1018,113 1032.6,106.9 1032.6,121.3 1018,127.4" fill="#74a8d6" /><polygon points="1018,114 1032.6,107.9 1032.6,120.1 1018,126.2" fill="#8fc3eb" /><polygon points="1018,114 1032.6,107.9 1032.6,109.1 1018,115.2" fill="#b9ddf7" /><polygon points="938,121.5 959.6,112.5 959.6,127.7 938,136.7" fill="#74a8d6" /><polygon points="938,122.5 959.6,113.5 959.6,126.5 938,135.5" fill="#89bde7" /><polygon points="938,122.5 959.6,113.5 959.6,114.7 938,123.7" fill="#b9ddf7" /><polygon points="961,121.5 982.6,112.5 982.6,127.7 961,136.7" fill="#74a8d6" /><polygon points="961,122.5 982.6,113.5 982.6,126.5 961,135.5" fill="#95c8ee" /><polygon points="961,122.5 982.6,113.5 982.6,114.7 961,123.7" fill="#b9ddf7" /><polygon points="984,121.5 1005.6,112.5 1005.6,127.7 984,136.7" fill="#74a8d6" /><polygon points="984,122.5 1005.6,113.5 1005.6,126.5 984,135.5" fill="#8fc3eb" /><polygon points="984,122.5 1005.6,113.5 1005.6,114.7 984,123.7" fill="#b9ddf7" /><polygon points="1007,121.5 1028.6,112.5 1028.6,127.7 1007,136.7" fill="#74a8d6" /><polygon points="1007,122.5 1028.6,113.5 1028.6,126.5 1007,135.5" fill="#89bde7" /><polygon points="1007,122.5 1028.6,113.5 1028.6,114.7 1007,123.7" fill="#b9ddf7" />
<clipPath id="clipI3"><rect x="780" y="30" width="410" height="173.6"/></clipPath><g clip-path="url(#clipI3)">
<polygon points="938,135 1031,135 1038,199 934,199" fill="#dfe9f4" /><polygon points="938,125.6 959.9,134.4 959.9,148.6 938,139.8" fill="#74a8d6" /><polygon points="938,126.6 959.9,135.4 959.9,147.4 938,138.6" fill="#8fc3eb" /><polygon points="938,126.6 959.9,135.4 959.9,136.6 938,127.8" fill="#b9ddf7" /><polygon points="961.2,125.6 983.1,134.4 983.1,148.6 961.2,139.8" fill="#74a8d6" /><polygon points="961.2,126.6 983.1,135.4 983.1,147.4 961.2,138.6" fill="#89bde7" /><polygon points="961.2,126.6 983.1,135.4 983.1,136.6 961.2,127.8" fill="#b9ddf7" /><polygon points="984.5,125.6 1006.4,134.4 1006.4,148.6 984.5,139.8" fill="#74a8d6" /><polygon points="984.5,126.6 1006.4,135.4 1006.4,147.4 984.5,138.6" fill="#95c8ee" /><polygon points="984.5,126.6 1006.4,135.4 1006.4,136.6 984.5,127.8" fill="#b9ddf7" /><polygon points="1007.8,125.6 1029.6,134.4 1029.6,148.6 1007.8,139.8" fill="#74a8d6" /><polygon points="1007.8,126.6 1029.6,135.4 1029.6,147.4 1007.8,138.6" fill="#8fc3eb" /><polygon points="1007.8,126.6 1029.6,135.4 1029.6,136.6 1007.8,127.8" fill="#b9ddf7" /><polygon points="933.6,136.4 947.7,142 947.7,158 933.6,152.4" fill="#74a8d6" /><polygon points="933.6,137.4 947.7,143 947.7,156.8 933.6,151.2" fill="#8fc3eb" /><polygon points="933.6,137.4 947.7,143 947.7,144.2 933.6,138.6" fill="#b9ddf7" /><polygon points="949.1,133.1 971.5,142 971.5,158 949.1,149.1" fill="#74a8d6" /><polygon points="949.1,134.1 971.5,143 971.5,156.8 949.1,147.9" fill="#89bde7" /><polygon points="949.1,134.1 971.5,143 971.5,144.2 949.1,135.3" fill="#b9ddf7" /><polygon points="972.9,133.1 995.3,142 995.3,158 972.9,149.1" fill="#74a8d6" /><polygon points="972.9,134.1 995.3,143 995.3,156.8 972.9,147.9" fill="#95c8ee" /><polygon points="972.9,134.1 995.3,143 995.3,144.2 972.9,135.3" fill="#b9ddf7" /><polygon points="996.7,133.1 1019.1,142 1019.1,158 996.7,149.1" fill="#74a8d6" /><polygon points="996.7,134.1 1019.1,143 1019.1,156.8 996.7,147.9" fill="#8fc3eb" /><polygon points="996.7,134.1 1019.1,143 1019.1,144.2 996.7,135.3" fill="#b9ddf7" /><polygon points="1020.5,133.1 1036,139.3 1036,155.3 1020.5,149.1" fill="#74a8d6" /><polygon points="1020.5,134.1 1036,140.3 1036,154.1 1020.5,147.9" fill="#89bde7" /><polygon points="1020.5,134.1 1036,140.3 1036,141.5 1020.5,135.3" fill="#b9ddf7" /><polygon points="936.4,142.2 959.3,151.3 959.3,169.1 936.4,160" fill="#74a8d6" /><polygon points="936.4,143.2 959.3,152.3 959.3,167.9 936.4,158.8" fill="#95c8ee" /><polygon points="936.4,143.2 959.3,152.3 959.3,153.5 936.4,144.4" fill="#b9ddf7" /><polygon points="960.8,142.2 983.6,151.3 983.6,169.1 960.8,160" fill="#74a8d6" /><polygon points="960.8,143.2 983.6,152.3 983.6,167.9 960.8,158.8" fill="#8fc3eb" /><polygon points="960.8,143.2 983.6,152.3 983.6,153.5 960.8,144.4" fill="#b9ddf7" /><polygon points="985.1,142.2 1008,151.3 1008,169.1 985.1,160" fill="#74a8d6" /><polygon points="985.1,143.2 1008,152.3 1008,167.9 985.1,158.8" fill="#89bde7" /><polygon points="985.1,143.2 1008,152.3 1008,153.5 985.1,144.4" fill="#b9ddf7" /><polygon points="1009.4,142.2 1032.3,151.3 1032.3,169.1 1009.4,160" fill="#74a8d6" /><polygon points="1009.4,143.2 1032.3,152.3 1032.3,167.9 1009.4,158.8" fill="#95c8ee" /><polygon points="1009.4,143.2 1032.3,152.3 1032.3,153.5 1009.4,144.4" fill="#b9ddf7" /><polygon points="931.9,155.5 946.6,161.4 946.6,181 931.9,175.1" fill="#74a8d6" /><polygon points="931.9,156.5 946.6,162.4 946.6,179.8 931.9,173.9" fill="#95c8ee" /><polygon points="931.9,156.5 946.6,162.4 946.6,163.6 931.9,157.7" fill="#b9ddf7" /><polygon points="948.1,152 971.5,161.4 971.5,181 948.1,171.6" fill="#74a8d6" /><polygon points="948.1,153 971.5,162.4 971.5,179.8 948.1,170.4" fill="#8fc3eb" /><polygon points="948.1,153 971.5,162.4 971.5,163.6 948.1,154.2" fill="#b9ddf7" /><polygon points="973,152 996.4,161.4 996.4,181 973,171.6" fill="#74a8d6" /><polygon points="973,153 996.4,162.4 996.4,179.8 973,170.4" fill="#89bde7" /><polygon points="973,153 996.4,162.4 996.4,163.6 973,154.2" fill="#b9ddf7" /><polygon points="997.9,152 1021.3,161.4 1021.3,181 997.9,171.6" fill="#74a8d6" /><polygon points="997.9,153 1021.3,162.4 1021.3,179.8 997.9,170.4" fill="#95c8ee" /><polygon points="997.9,153 1021.3,162.4 1021.3,163.6 997.9,154.2" fill="#b9ddf7" /><polygon points="1022.8,152 1038.9,158.5 1038.9,178.1 1022.8,171.6" fill="#74a8d6" /><polygon points="1022.8,153 1038.9,159.5 1038.9,176.9 1022.8,170.4" fill="#8fc3eb" /><polygon points="1022.8,153 1038.9,159.5 1038.9,160.7 1022.8,154.2" fill="#b9ddf7" /><polygon points="934.8,162.4 958.7,171.9 958.7,193.3 934.8,183.8" fill="#74a8d6" /><polygon points="934.8,163.4 958.7,172.9 958.7,192.1 934.8,182.6" fill="#89bde7" /><polygon points="934.8,163.4 958.7,172.9 958.7,174.1 934.8,164.6" fill="#b9ddf7" /><polygon points="960.2,162.4 984.2,171.9 984.2,193.3 960.2,183.8" fill="#74a8d6" /><polygon points="960.2,163.4 984.2,172.9 984.2,192.1 960.2,182.6" fill="#95c8ee" /><polygon points="960.2,163.4 984.2,172.9 984.2,174.1 960.2,164.6" fill="#b9ddf7" /><polygon points="985.7,162.4 1009.6,171.9 1009.6,193.3 985.7,183.8" fill="#74a8d6" /><polygon points="985.7,163.4 1009.6,172.9 1009.6,192.1 985.7,182.6" fill="#8fc3eb" /><polygon points="985.7,163.4 1009.6,172.9 1009.6,174.1 985.7,164.6" fill="#b9ddf7" /><polygon points="1011.1,162.4 1035.1,171.9 1035.1,193.3 1011.1,183.8" fill="#74a8d6" /><polygon points="1011.1,163.4 1035.1,172.9 1035.1,192.1 1011.1,182.6" fill="#89bde7" /><polygon points="1011.1,163.4 1035.1,172.9 1035.1,174.1 1011.1,164.6" fill="#b9ddf7" /><polygon points="930.1,176.8 945.4,182.9 945.4,206.1 930.1,200" fill="#74a8d6" /><polygon points="930.1,177.8 945.4,183.9 945.4,204.9 930.1,198.8" fill="#89bde7" /><polygon points="930.1,177.8 945.4,183.9 945.4,185.1 930.1,179" fill="#b9ddf7" /><polygon points="947,173.1 971.4,182.9 971.4,206.1 947,196.3" fill="#74a8d6" /><polygon points="947,174.1 971.4,183.9 971.4,204.9 947,195.1" fill="#95c8ee" /><polygon points="947,174.1 971.4,183.9 971.4,185.1 947,175.3" fill="#b9ddf7" /><polygon points="973,173.1 997.4,182.9 997.4,206.1 973,196.3" fill="#74a8d6" /><polygon points="973,174.1 997.4,183.9 997.4,204.9 973,195.1" fill="#8fc3eb" /><polygon points="973,174.1 997.4,183.9 997.4,185.1 973,175.3" fill="#b9ddf7" /><polygon points="999,173.1 1023.4,182.9 1023.4,206.1 999,196.3" fill="#74a8d6" /><polygon points="999,174.1 1023.4,183.9 1023.4,204.9 999,195.1" fill="#89bde7" /><polygon points="999,174.1 1023.4,183.9 1023.4,185.1 999,175.3" fill="#b9ddf7" /><polygon points="1025,173.1 1041.9,179.9 1041.9,203.1 1025,196.3" fill="#74a8d6" /><polygon points="1025,174.1 1041.9,180.9 1041.9,201.9 1025,195.1" fill="#95c8ee" /><polygon points="1025,174.1 1041.9,180.9 1041.9,182.1 1025,175.3" fill="#b9ddf7" />
</g>
<polygon points="952,194 962,190 963,194.5 953,198.5" fill="#8a8fa0" />
<polygon points="1005,194 1015,190 1016,194.5 1006,198.5" fill="#8a8fa0" />
<rect x="1036.3" y="51" width="26.2" height="1.2" fill="#7aaedb" /><rect x="1036.3" y="52" width="26.2" height="6" fill="#8fc3eb" /><rect x="1036.3" y="52" width="26.2" height="1.3" fill="#b9ddf7" /><rect x="1061.6" y="53.2" width="0.9" height="4.8" fill="#7fb4e0" /><rect x="1064.1" y="51" width="26.2" height="1.2" fill="#7aaedb" /><rect x="1064.1" y="52" width="26.2" height="6" fill="#8cc0e9" /><rect x="1064.1" y="52" width="26.2" height="1.3" fill="#b9ddf7" /><rect x="1089.3" y="53.2" width="0.9" height="4.8" fill="#7fb4e0" /><rect x="1091.8" y="51" width="26.2" height="1.2" fill="#7aaedb" /><rect x="1091.8" y="52" width="26.2" height="6" fill="#92c6ed" /><rect x="1091.8" y="52" width="26.2" height="1.3" fill="#b9ddf7" /><rect x="1117.1" y="53.2" width="0.9" height="4.8" fill="#7fb4e0" /><rect x="1036.8" y="54.6" width="26.5" height="1.2" fill="#7aaedb" /><rect x="1036.8" y="55.6" width="26.5" height="7" fill="#8cc0e9" /><rect x="1036.8" y="55.6" width="26.5" height="1.3" fill="#b9ddf7" /><rect x="1062.4" y="56.8" width="0.9" height="5.8" fill="#7fb4e0" /><rect x="1064.9" y="54.6" width="26.5" height="1.2" fill="#7aaedb" /><rect x="1064.9" y="55.6" width="26.5" height="7" fill="#92c6ed" /><rect x="1064.9" y="55.6" width="26.5" height="1.3" fill="#b9ddf7" /><rect x="1090.6" y="56.8" width="0.9" height="5.8" fill="#7fb4e0" /><rect x="1093.1" y="54.6" width="26.5" height="1.2" fill="#7aaedb" /><rect x="1093.1" y="55.6" width="26.5" height="7" fill="#8fc3eb" /><rect x="1093.1" y="55.6" width="26.5" height="1.3" fill="#b9ddf7" /><rect x="1118.7" y="56.8" width="0.9" height="5.8" fill="#7fb4e0" /><rect x="1037.5" y="59.6" width="27" height="1.2" fill="#7aaedb" /><rect x="1037.5" y="60.6" width="27" height="8" fill="#92c6ed" /><rect x="1037.5" y="60.6" width="27" height="1.3" fill="#b9ddf7" /><rect x="1063.6" y="61.8" width="0.9" height="6.8" fill="#7fb4e0" /><rect x="1066.1" y="59.6" width="27" height="1.2" fill="#7aaedb" /><rect x="1066.1" y="60.6" width="27" height="8" fill="#8fc3eb" /><rect x="1066.1" y="60.6" width="27" height="1.3" fill="#b9ddf7" /><rect x="1092.3" y="61.8" width="0.9" height="6.8" fill="#7fb4e0" /><rect x="1094.8" y="59.6" width="27" height="1.2" fill="#7aaedb" /><rect x="1094.8" y="60.6" width="27" height="8" fill="#8cc0e9" /><rect x="1094.8" y="60.6" width="27" height="1.3" fill="#b9ddf7" /><rect x="1120.9" y="61.8" width="0.9" height="6.8" fill="#7fb4e0" /><rect x="1038.3" y="65.3" width="27.6" height="1.2" fill="#7aaedb" /><rect x="1038.3" y="66.3" width="27.6" height="9" fill="#8fc3eb" /><rect x="1038.3" y="66.3" width="27.6" height="1.3" fill="#b9ddf7" /><rect x="1065" y="67.5" width="0.9" height="7.8" fill="#7fb4e0" /><rect x="1067.5" y="65.3" width="27.6" height="1.2" fill="#7aaedb" /><rect x="1067.5" y="66.3" width="27.6" height="9" fill="#8cc0e9" /><rect x="1067.5" y="66.3" width="27.6" height="1.3" fill="#b9ddf7" /><rect x="1094.2" y="67.5" width="0.9" height="7.8" fill="#7fb4e0" /><rect x="1096.7" y="65.3" width="27.6" height="1.2" fill="#7aaedb" /><rect x="1096.7" y="66.3" width="27.6" height="9" fill="#92c6ed" /><rect x="1096.7" y="66.3" width="27.6" height="1.3" fill="#b9ddf7" /><rect x="1123.4" y="67.5" width="0.9" height="7.8" fill="#7fb4e0" /><rect x="1039.1" y="71.4" width="28.3" height="1.2" fill="#7aaedb" /><rect x="1039.1" y="72.4" width="28.3" height="10" fill="#8cc0e9" /><rect x="1039.1" y="72.4" width="28.3" height="1.3" fill="#b9ddf7" /><rect x="1066.5" y="73.6" width="0.9" height="8.8" fill="#7fb4e0" /><rect x="1069" y="71.4" width="28.3" height="1.2" fill="#7aaedb" /><rect x="1069" y="72.4" width="28.3" height="10" fill="#92c6ed" /><rect x="1069" y="72.4" width="28.3" height="1.3" fill="#b9ddf7" /><rect x="1096.3" y="73.6" width="0.9" height="8.8" fill="#7fb4e0" /><rect x="1098.8" y="71.4" width="28.3" height="1.2" fill="#7aaedb" /><rect x="1098.8" y="72.4" width="28.3" height="10" fill="#8fc3eb" /><rect x="1098.8" y="72.4" width="28.3" height="1.3" fill="#b9ddf7" /><rect x="1126.2" y="73.6" width="0.9" height="8.8" fill="#7fb4e0" /><rect x="1040" y="78" width="28.9" height="1.2" fill="#7aaedb" /><rect x="1040" y="79" width="28.9" height="11" fill="#92c6ed" /><rect x="1040" y="79" width="28.9" height="1.3" fill="#b9ddf7" /><rect x="1068" y="80.2" width="0.9" height="9.8" fill="#7fb4e0" /><rect x="1070.5" y="78" width="28.9" height="1.2" fill="#7aaedb" /><rect x="1070.5" y="79" width="28.9" height="11" fill="#8fc3eb" /><rect x="1070.5" y="79" width="28.9" height="1.3" fill="#b9ddf7" /><rect x="1098.6" y="80.2" width="0.9" height="9.8" fill="#7fb4e0" /><rect x="1101.1" y="78" width="28.9" height="1.2" fill="#7aaedb" /><rect x="1101.1" y="79" width="28.9" height="11" fill="#8cc0e9" /><rect x="1101.1" y="79" width="28.9" height="1.3" fill="#b9ddf7" /><rect x="1129.1" y="80.2" width="0.9" height="9.8" fill="#7fb4e0" />
<polygon points="1040,94 1122,94 1142,130 1045,130" fill="#e4ebf4" /><rect x="1045.3" y="105.3" width="83" height="5.5" fill="#7a869f" /><rect x="1045.3" y="105.3" width="83" height="1.6" fill="#939eb5" /><rect x="1046.9" y="118.6" width="87.7" height="5.8" fill="#7a869f" /><rect x="1046.9" y="118.6" width="87.7" height="1.7" fill="#939eb5" /><polygon points="1038,88 1042,87.2 1043.9,103 1039.4,103.8" fill="#8fc3eb" /><polygon points="1041.1,87.4 1042,87.2 1043.9,103 1042.8,103.2" fill="#b5daf5" /><polygon points="1039.4,102.3 1043.9,101.5 1045.9,117.4 1040.8,118.2" fill="#9ccdf0" /><polygon points="1043,101.7 1043.9,101.5 1045.9,117.4 1044.8,117.6" fill="#b5daf5" /><polygon points="1040.8,116.7 1045.9,115.9 1047.8,131.7 1042.2,132.5" fill="#8fc3eb" /><polygon points="1045,116.1 1045.9,115.9 1047.8,131.7 1046.7,131.9" fill="#b5daf5" /><polygon points="1051.7,88 1055.7,87.2 1058.4,103 1053.9,103.8" fill="#9ccdf0" /><polygon points="1054.8,87.4 1055.7,87.2 1058.4,103 1057.3,103.2" fill="#b5daf5" /><polygon points="1053.9,102.3 1058.4,101.5 1061.2,117.4 1056.1,118.2" fill="#8fc3eb" /><polygon points="1057.5,101.7 1058.4,101.5 1061.2,117.4 1060.1,117.6" fill="#b5daf5" /><polygon points="1056.1,116.7 1061.2,115.9 1064,131.7 1058.4,132.5" fill="#9ccdf0" /><polygon points="1060.3,116.1 1061.2,115.9 1064,131.7 1062.9,131.9" fill="#b5daf5" /><polygon points="1065.3,88 1069.3,87.2 1072.9,103 1068.4,103.8" fill="#8fc3eb" /><polygon points="1068.4,87.4 1069.3,87.2 1072.9,103 1071.8,103.2" fill="#b5daf5" /><polygon points="1068.4,102.3 1072.9,101.5 1076.5,117.4 1071.5,118.2" fill="#9ccdf0" /><polygon points="1072,101.7 1072.9,101.5 1076.5,117.4 1075.4,117.6" fill="#b5daf5" /><polygon points="1071.5,116.7 1076.5,115.9 1080.1,131.7 1074.5,132.5" fill="#8fc3eb" /><polygon points="1075.6,116.1 1076.5,115.9 1080.1,131.7 1079,131.9" fill="#b5daf5" /><polygon points="1079,88 1083,87.2 1087.4,103 1082.9,103.8" fill="#9ccdf0" /><polygon points="1082.1,87.4 1083,87.2 1087.4,103 1086.3,103.2" fill="#b5daf5" /><polygon points="1082.9,102.3 1087.4,101.5 1091.9,117.4 1086.8,118.2" fill="#8fc3eb" /><polygon points="1086.5,101.7 1087.4,101.5 1091.9,117.4 1090.8,117.6" fill="#b5daf5" /><polygon points="1086.8,116.7 1091.9,115.9 1096.3,131.7 1090.7,132.5" fill="#9ccdf0" /><polygon points="1091,116.1 1091.9,115.9 1096.3,131.7 1095.2,131.9" fill="#b5daf5" /><polygon points="1092.7,88 1096.7,87.2 1101.9,103 1097.4,103.8" fill="#8fc3eb" /><polygon points="1095.8,87.4 1096.7,87.2 1101.9,103 1100.8,103.2" fill="#b5daf5" /><polygon points="1097.4,102.3 1101.9,101.5 1107.2,117.4 1102.1,118.2" fill="#9ccdf0" /><polygon points="1101,101.7 1101.9,101.5 1107.2,117.4 1106.1,117.6" fill="#b5daf5" /><polygon points="1102.1,116.7 1107.2,115.9 1112.5,131.7 1106.9,132.5" fill="#8fc3eb" /><polygon points="1106.3,116.1 1107.2,115.9 1112.5,131.7 1111.4,131.9" fill="#b5daf5" /><polygon points="1106.3,88 1110.3,87.2 1116.4,103 1111.9,103.8" fill="#9ccdf0" /><polygon points="1109.4,87.4 1110.3,87.2 1116.4,103 1115.3,103.2" fill="#b5daf5" /><polygon points="1111.9,102.3 1116.4,101.5 1122.5,117.4 1117.5,118.2" fill="#8fc3eb" /><polygon points="1115.5,101.7 1116.4,101.5 1122.5,117.4 1121.4,117.6" fill="#b5daf5" /><polygon points="1117.5,116.7 1122.5,115.9 1128.6,131.7 1123,132.5" fill="#9ccdf0" /><polygon points="1121.6,116.1 1122.5,115.9 1128.6,131.7 1127.5,131.9" fill="#b5daf5" /><polygon points="1120,88 1124,87.2 1130.9,103 1126.4,103.8" fill="#8fc3eb" /><polygon points="1123.1,87.4 1124,87.2 1130.9,103 1129.8,103.2" fill="#b5daf5" /><polygon points="1126.4,102.3 1130.9,101.5 1137.9,117.4 1132.8,118.2" fill="#9ccdf0" /><polygon points="1130,101.7 1130.9,101.5 1137.9,117.4 1136.8,117.6" fill="#b5daf5" /><polygon points="1132.8,116.7 1137.9,115.9 1144.8,131.7 1139.2,132.5" fill="#8fc3eb" /><polygon points="1137,116.1 1137.9,115.9 1144.8,131.7 1143.7,131.9" fill="#b5daf5" />
<rect x="1047" y="129" width="28.3" height="1.2" fill="#7aaedb" /><rect x="1047" y="130" width="28.3" height="8" fill="#8fc3eb" /><rect x="1047" y="130" width="28.3" height="1.3" fill="#b9ddf7" /><rect x="1074.4" y="131.2" width="0.9" height="6.8" fill="#7fb4e0" /><rect x="1076.9" y="129" width="28.3" height="1.2" fill="#7aaedb" /><rect x="1076.9" y="130" width="28.3" height="8" fill="#8cc0e9" /><rect x="1076.9" y="130" width="28.3" height="1.3" fill="#b9ddf7" /><rect x="1104.2" y="131.2" width="0.9" height="6.8" fill="#7fb4e0" /><rect x="1106.7" y="129" width="28.3" height="1.2" fill="#7aaedb" /><rect x="1106.7" y="130" width="28.3" height="8" fill="#92c6ed" /><rect x="1106.7" y="130" width="28.3" height="1.3" fill="#b9ddf7" /><rect x="1134.1" y="131.2" width="0.9" height="6.8" fill="#7fb4e0" /><rect x="1047.7" y="134.1" width="29.1" height="1.2" fill="#7aaedb" /><rect x="1047.7" y="135.1" width="29.1" height="10.5" fill="#8cc0e9" /><rect x="1047.7" y="135.1" width="29.1" height="1.3" fill="#b9ddf7" /><rect x="1076" y="136.3" width="0.9" height="9.3" fill="#7fb4e0" /><rect x="1078.5" y="134.1" width="29.1" height="1.2" fill="#7aaedb" /><rect x="1078.5" y="135.1" width="29.1" height="10.5" fill="#92c6ed" /><rect x="1078.5" y="135.1" width="29.1" height="1.3" fill="#b9ddf7" /><rect x="1106.7" y="136.3" width="0.9" height="9.3" fill="#7fb4e0" /><rect x="1109.2" y="134.1" width="29.1" height="1.2" fill="#7aaedb" /><rect x="1109.2" y="135.1" width="29.1" height="10.5" fill="#8fc3eb" /><rect x="1109.2" y="135.1" width="29.1" height="1.3" fill="#b9ddf7" /><rect x="1137.4" y="136.3" width="0.9" height="9.3" fill="#7fb4e0" /><rect x="1048.8" y="141.2" width="30.3" height="1.2" fill="#7aaedb" /><rect x="1048.8" y="142.2" width="30.3" height="13" fill="#92c6ed" /><rect x="1048.8" y="142.2" width="30.3" height="1.3" fill="#b9ddf7" /><rect x="1078.2" y="143.4" width="0.9" height="11.8" fill="#7fb4e0" /><rect x="1080.7" y="141.2" width="30.3" height="1.2" fill="#7aaedb" /><rect x="1080.7" y="142.2" width="30.3" height="13" fill="#8fc3eb" /><rect x="1080.7" y="142.2" width="30.3" height="1.3" fill="#b9ddf7" /><rect x="1110.1" y="143.4" width="0.9" height="11.8" fill="#7fb4e0" /><rect x="1112.6" y="141.2" width="30.3" height="1.2" fill="#7aaedb" /><rect x="1112.6" y="142.2" width="30.3" height="13" fill="#8cc0e9" /><rect x="1112.6" y="142.2" width="30.3" height="1.3" fill="#b9ddf7" /><rect x="1142" y="143.4" width="0.9" height="11.8" fill="#7fb4e0" /><rect x="1049.9" y="149.2" width="31.6" height="1.2" fill="#7aaedb" /><rect x="1049.9" y="150.2" width="31.6" height="15.5" fill="#8fc3eb" /><rect x="1049.9" y="150.2" width="31.6" height="1.3" fill="#b9ddf7" /><rect x="1080.7" y="151.4" width="0.9" height="14.3" fill="#7fb4e0" /><rect x="1083.2" y="149.2" width="31.6" height="1.2" fill="#7aaedb" /><rect x="1083.2" y="150.2" width="31.6" height="15.5" fill="#8cc0e9" /><rect x="1083.2" y="150.2" width="31.6" height="1.3" fill="#b9ddf7" /><rect x="1113.9" y="151.4" width="0.9" height="14.3" fill="#7fb4e0" /><rect x="1116.4" y="149.2" width="31.6" height="1.2" fill="#7aaedb" /><rect x="1116.4" y="150.2" width="31.6" height="15.5" fill="#92c6ed" /><rect x="1116.4" y="150.2" width="31.6" height="1.3" fill="#b9ddf7" /><rect x="1147.1" y="151.4" width="0.9" height="14.3" fill="#7fb4e0" /><rect x="1051.2" y="157.9" width="33.1" height="1.2" fill="#7aaedb" /><rect x="1051.2" y="158.9" width="33.1" height="18" fill="#8cc0e9" /><rect x="1051.2" y="158.9" width="33.1" height="1.3" fill="#b9ddf7" /><rect x="1083.4" y="160.1" width="0.9" height="16.8" fill="#7fb4e0" /><rect x="1085.9" y="157.9" width="33.1" height="1.2" fill="#7aaedb" /><rect x="1085.9" y="158.9" width="33.1" height="18" fill="#92c6ed" /><rect x="1085.9" y="158.9" width="33.1" height="1.3" fill="#b9ddf7" /><rect x="1118.1" y="160.1" width="0.9" height="16.8" fill="#7fb4e0" /><rect x="1120.6" y="157.9" width="33.1" height="1.2" fill="#7aaedb" /><rect x="1120.6" y="158.9" width="33.1" height="18" fill="#8fc3eb" /><rect x="1120.6" y="158.9" width="33.1" height="1.3" fill="#b9ddf7" /><rect x="1152.8" y="160.1" width="0.9" height="16.8" fill="#7fb4e0" /><rect x="1052.6" y="167.2" width="34.6" height="1.2" fill="#7aaedb" /><rect x="1052.6" y="168.2" width="34.6" height="20.5" fill="#92c6ed" /><rect x="1052.6" y="168.2" width="34.6" height="1.3" fill="#b9ddf7" /><rect x="1086.3" y="169.4" width="0.9" height="19.3" fill="#7fb4e0" /><rect x="1088.8" y="167.2" width="34.6" height="1.2" fill="#7aaedb" /><rect x="1088.8" y="168.2" width="34.6" height="20.5" fill="#8fc3eb" /><rect x="1088.8" y="168.2" width="34.6" height="1.3" fill="#b9ddf7" /><rect x="1122.5" y="169.4" width="0.9" height="19.3" fill="#7fb4e0" /><rect x="1125" y="167.2" width="34.6" height="1.2" fill="#7aaedb" /><rect x="1125" y="168.2" width="34.6" height="20.5" fill="#8cc0e9" /><rect x="1125" y="168.2" width="34.6" height="1.3" fill="#b9ddf7" /><rect x="1158.8" y="169.4" width="0.9" height="19.3" fill="#7fb4e0" /><rect x="1054" y="177" width="36.3" height="1.2" fill="#7aaedb" /><rect x="1054" y="178" width="36.3" height="23" fill="#8fc3eb" /><rect x="1054" y="178" width="36.3" height="1.3" fill="#b9ddf7" /><rect x="1089.4" y="179.2" width="0.9" height="21.8" fill="#7fb4e0" /><rect x="1091.9" y="177" width="36.3" height="1.2" fill="#7aaedb" /><rect x="1091.9" y="178" width="36.3" height="23" fill="#8cc0e9" /><rect x="1091.9" y="178" width="36.3" height="1.3" fill="#b9ddf7" /><rect x="1127.2" y="179.2" width="0.9" height="21.8" fill="#7fb4e0" /><rect x="1129.7" y="177" width="36.3" height="1.2" fill="#7aaedb" /><rect x="1129.7" y="178" width="36.3" height="23" fill="#92c6ed" /><rect x="1129.7" y="178" width="36.3" height="1.3" fill="#b9ddf7" /><rect x="1165.1" y="179.2" width="0.9" height="21.8" fill="#7fb4e0" />
<circle cx="887.5" cy="68.8" r="2.3" fill="#e67fb6"/><circle cx="928.1" cy="66" r="2.2" fill="#e67fb6"/><circle cx="892.1" cy="69.6" r="2.3" fill="#e67fb6"/><circle cx="864.7" cy="67.4" r="2.2" fill="#e67fb6"/><circle cx="902" cy="75.8" r="2.4" fill="#e67fb6"/><circle cx="858.1" cy="61.1" r="2.1" fill="#e67fb6"/><circle cx="855" cy="76.3" r="2.4" fill="#e67fb6"/><circle cx="909.4" cy="53.3" r="2" fill="#e67fb6"/><circle cx="932.5" cy="80.9" r="2.5" fill="#e67fb6"/><circle cx="904.6" cy="70.5" r="2.3" fill="#e67fb6"/><circle cx="865" cy="52.5" r="2" fill="#e67fb6"/><circle cx="895.7" cy="53.8" r="2" fill="#e67fb6"/><circle cx="866.6" cy="59.3" r="2.1" fill="#e67fb6"/><circle cx="851.8" cy="65.9" r="2.2" fill="#e67fb6"/><circle cx="885.4" cy="77.3" r="2.4" fill="#e67fb6"/><circle cx="892.9" cy="71.2" r="2.3" fill="#e67fb6"/><circle cx="891.2" cy="71.9" r="2.3" fill="#e67fb6"/><circle cx="888.9" cy="60.3" r="2.1" fill="#e67fb6"/><circle cx="933.8" cy="81.9" r="2.5" fill="#e67fb6"/><circle cx="920.5" cy="73.2" r="2.4" fill="#e67fb6"/><circle cx="877.2" cy="58.9" r="2.1" fill="#e67fb6"/><circle cx="875.7" cy="54.1" r="2" fill="#e67fb6"/><circle cx="914.7" cy="64" r="2.2" fill="#e67fb6"/><circle cx="921.6" cy="63.6" r="2.2" fill="#e67fb6"/><circle cx="930.5" cy="77.4" r="2.4" fill="#e67fb6"/><circle cx="850.8" cy="58.3" r="2.1" fill="#e67fb6"/><circle cx="926.9" cy="66.1" r="2.2" fill="#e67fb6"/><circle cx="932.9" cy="63.9" r="2.2" fill="#e67fb6"/><circle cx="854.5" cy="70.9" r="2.3" fill="#e67fb6"/><circle cx="916" cy="60.1" r="2.1" fill="#e67fb6"/><circle cx="857.4" cy="62" r="2.1" fill="#e67fb6"/><circle cx="931.1" cy="74.7" r="2.4" fill="#e67fb6"/><circle cx="860.5" cy="59.4" r="2.1" fill="#e67fb6"/><circle cx="860.1" cy="53.8" r="2" fill="#e67fb6"/>
<circle cx="877.5" cy="109.7" r="2.5" fill="#8dd16d"/><circle cx="897.4" cy="91.1" r="2.2" fill="#8dd16d"/><circle cx="837.2" cy="99.5" r="2.4" fill="#8dd16d"/><circle cx="857.7" cy="115.2" r="2.6" fill="#8dd16d"/><circle cx="897.8" cy="107.7" r="2.5" fill="#8dd16d"/><circle cx="885.3" cy="109.8" r="2.5" fill="#8dd16d"/><circle cx="848.8" cy="101.8" r="2.4" fill="#8dd16d"/><circle cx="846.4" cy="118.6" r="2.7" fill="#8dd16d"/><circle cx="837.4" cy="115.5" r="2.6" fill="#8dd16d"/><circle cx="840.1" cy="110.7" r="2.6" fill="#8dd16d"/><circle cx="866.5" cy="100.6" r="2.4" fill="#8dd16d"/><circle cx="913.2" cy="86.7" r="2.1" fill="#8dd16d"/><circle cx="836.6" cy="118.9" r="2.7" fill="#8dd16d"/><circle cx="883.8" cy="89.3" r="2.2" fill="#8dd16d"/><circle cx="924.8" cy="120.1" r="2.7" fill="#8dd16d"/><circle cx="846" cy="101.2" r="2.4" fill="#8dd16d"/><circle cx="849" cy="97.3" r="2.3" fill="#8dd16d"/><circle cx="893.3" cy="91.9" r="2.2" fill="#8dd16d"/><circle cx="900.4" cy="87.8" r="2.2" fill="#8dd16d"/><circle cx="848" cy="115.4" r="2.6" fill="#8dd16d"/><circle cx="872.2" cy="101.1" r="2.4" fill="#8dd16d"/><circle cx="889.6" cy="103.2" r="2.4" fill="#8dd16d"/><circle cx="873.3" cy="87.1" r="2.1" fill="#8dd16d"/><circle cx="899.8" cy="120.8" r="2.7" fill="#8dd16d"/><circle cx="924.1" cy="109.9" r="2.5" fill="#8dd16d"/><circle cx="868.5" cy="99.1" r="2.4" fill="#8dd16d"/>
<circle cx="842.9" cy="158.8" r="2.7" fill="#2dd6f6"/><circle cx="885.4" cy="165.7" r="2.8" fill="#2dd6f6"/><circle cx="840.7" cy="139.7" r="2.4" fill="#2dd6f6"/><circle cx="837.1" cy="139.5" r="2.4" fill="#2dd6f6"/><circle cx="894.3" cy="135.5" r="2.3" fill="#2dd6f6"/><circle cx="874.3" cy="139" r="2.3" fill="#2dd6f6"/><circle cx="849.2" cy="148.1" r="2.5" fill="#2dd6f6"/><circle cx="902.3" cy="155.6" r="2.6" fill="#2dd6f6"/><circle cx="823.5" cy="141.6" r="2.4" fill="#2dd6f6"/><circle cx="829.1" cy="166.6" r="2.8" fill="#2dd6f6"/><circle cx="898.7" cy="163.9" r="2.7" fill="#2dd6f6"/><circle cx="900.6" cy="161.3" r="2.7" fill="#2dd6f6"/><circle cx="913.2" cy="163.3" r="2.7" fill="#2dd6f6"/><circle cx="840.8" cy="165.7" r="2.8" fill="#2dd6f6"/><circle cx="865.6" cy="161.7" r="2.7" fill="#2dd6f6"/><circle cx="875.9" cy="148" r="2.5" fill="#2dd6f6"/><circle cx="856.1" cy="148.1" r="2.5" fill="#2dd6f6"/><circle cx="854.3" cy="134.9" r="2.3" fill="#2dd6f6"/><circle cx="899.7" cy="163.5" r="2.7" fill="#2dd6f6"/><circle cx="917.2" cy="159" r="2.7" fill="#2dd6f6"/><circle cx="872.6" cy="161.4" r="2.7" fill="#2dd6f6"/><circle cx="830.3" cy="158.4" r="2.6" fill="#2dd6f6"/><circle cx="866.1" cy="137.4" r="2.3" fill="#2dd6f6"/><circle cx="839" cy="152" r="2.5" fill="#2dd6f6"/><circle cx="844.8" cy="149.3" r="2.5" fill="#2dd6f6"/><circle cx="880.3" cy="146.6" r="2.5" fill="#2dd6f6"/><circle cx="832.2" cy="150.6" r="2.5" fill="#2dd6f6"/><circle cx="845.5" cy="139.9" r="2.4" fill="#2dd6f6"/><circle cx="840" cy="145.4" r="2.4" fill="#2dd6f6"/><circle cx="824.3" cy="157.4" r="2.6" fill="#2dd6f6"/>
<circle cx="955.5" cy="73.1" r="2.4" fill="#e67fb6"/><circle cx="998.2" cy="80.2" r="2.5" fill="#e67fb6"/><circle cx="969.5" cy="59.7" r="2.1" fill="#e67fb6"/><circle cx="1004.6" cy="71.8" r="2.3" fill="#e67fb6"/><circle cx="970.9" cy="72.5" r="2.3" fill="#e67fb6"/><circle cx="978.1" cy="75.3" r="2.4" fill="#e67fb6"/><circle cx="958" cy="58.7" r="2.1" fill="#e67fb6"/><circle cx="1017.2" cy="62.7" r="2.2" fill="#e67fb6"/><circle cx="967.3" cy="76.1" r="2.4" fill="#e67fb6"/><circle cx="996.7" cy="56.5" r="2" fill="#e67fb6"/><circle cx="990.3" cy="71.9" r="2.3" fill="#e67fb6"/><circle cx="960.2" cy="71.6" r="2.3" fill="#e67fb6"/><circle cx="958" cy="62.1" r="2.1" fill="#e67fb6"/><circle cx="955.4" cy="58.1" r="2.1" fill="#e67fb6"/><circle cx="1023.1" cy="64.1" r="2.2" fill="#e67fb6"/><circle cx="1024.1" cy="65.2" r="2.2" fill="#e67fb6"/><circle cx="994.6" cy="78.2" r="2.5" fill="#e67fb6"/><circle cx="1000.8" cy="55.3" r="2" fill="#e67fb6"/><circle cx="993.3" cy="71" r="2.3" fill="#e67fb6"/><circle cx="963.1" cy="54.8" r="2" fill="#e67fb6"/><circle cx="1015.4" cy="67.4" r="2.3" fill="#e67fb6"/><circle cx="963.1" cy="65.6" r="2.2" fill="#e67fb6"/><circle cx="964" cy="75.9" r="2.4" fill="#e67fb6"/><circle cx="986.9" cy="55.1" r="2" fill="#e67fb6"/>
<circle cx="1024.1" cy="84.4" r="2.1" fill="#8dd16d"/><circle cx="1005.3" cy="90" r="2.2" fill="#8dd16d"/><circle cx="1025.9" cy="84.6" r="2.1" fill="#8dd16d"/><circle cx="1018.5" cy="109.9" r="2.6" fill="#8dd16d"/><circle cx="1017.2" cy="122" r="2.7" fill="#8dd16d"/><circle cx="963.1" cy="96.8" r="2.3" fill="#8dd16d"/><circle cx="1003" cy="94.7" r="2.3" fill="#8dd16d"/><circle cx="965.4" cy="92.7" r="2.3" fill="#8dd16d"/><circle cx="1017" cy="117.2" r="2.7" fill="#8dd16d"/><circle cx="1010.6" cy="92.5" r="2.3" fill="#8dd16d"/><circle cx="1022" cy="103.4" r="2.4" fill="#8dd16d"/><circle cx="962.1" cy="101.3" r="2.4" fill="#8dd16d"/><circle cx="978.8" cy="87" r="2.2" fill="#8dd16d"/><circle cx="990.9" cy="97.7" r="2.3" fill="#8dd16d"/><circle cx="991.3" cy="119.3" r="2.7" fill="#8dd16d"/><circle cx="997.8" cy="99.4" r="2.4" fill="#8dd16d"/><circle cx="1017.7" cy="121.8" r="2.7" fill="#8dd16d"/><circle cx="984.2" cy="119.9" r="2.7" fill="#8dd16d"/><circle cx="945" cy="89.3" r="2.2" fill="#8dd16d"/><circle cx="955.7" cy="119.6" r="2.7" fill="#8dd16d"/><circle cx="1001.9" cy="111.3" r="2.6" fill="#8dd16d"/><circle cx="966.8" cy="102.8" r="2.4" fill="#8dd16d"/><circle cx="1017.8" cy="87.8" r="2.2" fill="#8dd16d"/><circle cx="953.5" cy="85.8" r="2.2" fill="#8dd16d"/><circle cx="982.3" cy="115.9" r="2.7" fill="#8dd16d"/><circle cx="990" cy="99.3" r="2.4" fill="#8dd16d"/>
<circle cx="971.9" cy="148.1" r="2.5" fill="#2dd6f6"/><circle cx="977.5" cy="146.6" r="2.5" fill="#2dd6f6"/><circle cx="976.7" cy="156.3" r="2.6" fill="#2dd6f6"/><circle cx="961.3" cy="155.2" r="2.6" fill="#2dd6f6"/><circle cx="936.4" cy="139.9" r="2.4" fill="#2dd6f6"/><circle cx="969.4" cy="132.5" r="2.3" fill="#2dd6f6"/><circle cx="1010.6" cy="140.3" r="2.4" fill="#2dd6f6"/><circle cx="1016" cy="170" r="2.8" fill="#2dd6f6"/><circle cx="960.5" cy="167.1" r="2.8" fill="#2dd6f6"/><circle cx="1017.6" cy="156.7" r="2.6" fill="#2dd6f6"/><circle cx="937.9" cy="147" r="2.5" fill="#2dd6f6"/><circle cx="998.8" cy="139.6" r="2.4" fill="#2dd6f6"/><circle cx="958.1" cy="140.3" r="2.4" fill="#2dd6f6"/><circle cx="961.1" cy="162.2" r="2.7" fill="#2dd6f6"/><circle cx="970.5" cy="145.5" r="2.5" fill="#2dd6f6"/><circle cx="1000.8" cy="169.6" r="2.8" fill="#2dd6f6"/><circle cx="965.3" cy="128" r="2.2" fill="#2dd6f6"/><circle cx="1035" cy="164.3" r="2.8" fill="#2dd6f6"/><circle cx="1015.6" cy="150.1" r="2.6" fill="#2dd6f6"/><circle cx="959.3" cy="133.1" r="2.3" fill="#2dd6f6"/><circle cx="966.1" cy="147.2" r="2.5" fill="#2dd6f6"/><circle cx="941.4" cy="158.2" r="2.7" fill="#2dd6f6"/><circle cx="1008.8" cy="126.6" r="2.2" fill="#2dd6f6"/><circle cx="1020.9" cy="148.6" r="2.5" fill="#2dd6f6"/><circle cx="1028.7" cy="147.9" r="2.5" fill="#2dd6f6"/><circle cx="1016.1" cy="146.9" r="2.5" fill="#2dd6f6"/><circle cx="997.5" cy="149" r="2.5" fill="#2dd6f6"/><circle cx="938" cy="132.6" r="2.3" fill="#2dd6f6"/><circle cx="958.8" cy="144.7" r="2.5" fill="#2dd6f6"/><circle cx="972.6" cy="150.8" r="2.6" fill="#2dd6f6"/><circle cx="1002.2" cy="144.4" r="2.5" fill="#2dd6f6"/><circle cx="967.6" cy="149.5" r="2.5" fill="#2dd6f6"/>
<circle cx="1084.6" cy="76" r="2.4" fill="#e67fb6"/><circle cx="1117.6" cy="60" r="2.1" fill="#e67fb6"/><circle cx="1104.9" cy="72.8" r="2.4" fill="#e67fb6"/><circle cx="1091.1" cy="54.4" r="2" fill="#e67fb6"/><circle cx="1039.8" cy="62.9" r="2.2" fill="#e67fb6"/><circle cx="1099.3" cy="58.8" r="2.1" fill="#e67fb6"/><circle cx="1079.4" cy="60.8" r="2.1" fill="#e67fb6"/><circle cx="1114" cy="80.3" r="2.5" fill="#e67fb6"/><circle cx="1075.3" cy="82" r="2.5" fill="#e67fb6"/><circle cx="1044.7" cy="76.2" r="2.4" fill="#e67fb6"/><circle cx="1109.2" cy="55.7" r="2" fill="#e67fb6"/><circle cx="1098.5" cy="68.3" r="2.3" fill="#e67fb6"/><circle cx="1116.4" cy="57.5" r="2.1" fill="#e67fb6"/><circle cx="1086.7" cy="78.4" r="2.5" fill="#e67fb6"/><circle cx="1090.8" cy="60.6" r="2.1" fill="#e67fb6"/><circle cx="1046.9" cy="80.1" r="2.5" fill="#e67fb6"/><circle cx="1081.7" cy="81.9" r="2.5" fill="#e67fb6"/><circle cx="1051.6" cy="76.2" r="2.4" fill="#e67fb6"/><circle cx="1110.9" cy="79.5" r="2.5" fill="#e67fb6"/><circle cx="1039" cy="62.5" r="2.2" fill="#e67fb6"/><circle cx="1043.5" cy="74.3" r="2.4" fill="#e67fb6"/><circle cx="1071" cy="80.7" r="2.5" fill="#e67fb6"/><circle cx="1071.6" cy="75" r="2.4" fill="#e67fb6"/><circle cx="1109.4" cy="58.4" r="2.1" fill="#e67fb6"/>
<circle cx="1060.7" cy="109.2" r="2.5" fill="#8dd16d"/><circle cx="1070.9" cy="94.3" r="2.2" fill="#8dd16d"/><circle cx="1086.5" cy="103.8" r="2.4" fill="#8dd16d"/><circle cx="1085.4" cy="102.7" r="2.4" fill="#8dd16d"/><circle cx="1065.4" cy="96.1" r="2.3" fill="#8dd16d"/><circle cx="1102.3" cy="98.4" r="2.3" fill="#8dd16d"/><circle cx="1105.8" cy="113.2" r="2.6" fill="#8dd16d"/><circle cx="1125" cy="118.2" r="2.7" fill="#8dd16d"/><circle cx="1062.7" cy="95.6" r="2.3" fill="#8dd16d"/><circle cx="1108.8" cy="106.4" r="2.5" fill="#8dd16d"/><circle cx="1062.6" cy="109.7" r="2.5" fill="#8dd16d"/><circle cx="1124.2" cy="114.7" r="2.6" fill="#8dd16d"/><circle cx="1061.6" cy="97.6" r="2.3" fill="#8dd16d"/><circle cx="1046.5" cy="119.2" r="2.7" fill="#8dd16d"/><circle cx="1064.6" cy="111.3" r="2.6" fill="#8dd16d"/><circle cx="1091.7" cy="107" r="2.5" fill="#8dd16d"/><circle cx="1092.8" cy="114.4" r="2.6" fill="#8dd16d"/><circle cx="1094.2" cy="97.7" r="2.3" fill="#8dd16d"/><circle cx="1053.9" cy="103.3" r="2.4" fill="#8dd16d"/><circle cx="1119.6" cy="92.6" r="2.2" fill="#8dd16d"/><circle cx="1104.9" cy="108.2" r="2.5" fill="#8dd16d"/><circle cx="1056.3" cy="94.6" r="2.3" fill="#8dd16d"/><circle cx="1103" cy="102" r="2.4" fill="#8dd16d"/><circle cx="1079.3" cy="103.4" r="2.4" fill="#8dd16d"/><circle cx="1053.8" cy="110.5" r="2.6" fill="#8dd16d"/><circle cx="1095.5" cy="105.1" r="2.5" fill="#8dd16d"/>
<circle cx="1123.1" cy="165.7" r="2.7" fill="#2dd6f6"/><circle cx="1103.6" cy="152.6" r="2.5" fill="#2dd6f6"/><circle cx="1096.9" cy="175.8" r="2.9" fill="#2dd6f6"/><circle cx="1077.5" cy="135.1" r="2.3" fill="#2dd6f6"/><circle cx="1076" cy="140.5" r="2.4" fill="#2dd6f6"/><circle cx="1082.3" cy="140.9" r="2.4" fill="#2dd6f6"/><circle cx="1062.1" cy="143.6" r="2.4" fill="#2dd6f6"/><circle cx="1083.9" cy="155.3" r="2.6" fill="#2dd6f6"/><circle cx="1068.8" cy="131.4" r="2.3" fill="#2dd6f6"/><circle cx="1073" cy="154" r="2.6" fill="#2dd6f6"/><circle cx="1093.4" cy="163.2" r="2.7" fill="#2dd6f6"/><circle cx="1129.4" cy="147.9" r="2.5" fill="#2dd6f6"/><circle cx="1064.3" cy="162.9" r="2.7" fill="#2dd6f6"/><circle cx="1124.6" cy="147" r="2.5" fill="#2dd6f6"/><circle cx="1113.8" cy="142.4" r="2.4" fill="#2dd6f6"/><circle cx="1148" cy="168" r="2.8" fill="#2dd6f6"/><circle cx="1137.6" cy="173.8" r="2.8" fill="#2dd6f6"/><circle cx="1076" cy="154.2" r="2.6" fill="#2dd6f6"/><circle cx="1128.8" cy="166.5" r="2.7" fill="#2dd6f6"/><circle cx="1086.7" cy="134.7" r="2.3" fill="#2dd6f6"/><circle cx="1107.9" cy="133" r="2.3" fill="#2dd6f6"/><circle cx="1113.6" cy="128.3" r="2.2" fill="#2dd6f6"/><circle cx="1096.8" cy="151" r="2.5" fill="#2dd6f6"/><circle cx="1064.5" cy="151" r="2.5" fill="#2dd6f6"/><circle cx="1099.8" cy="145.7" r="2.4" fill="#2dd6f6"/><circle cx="1146.7" cy="169.6" r="2.8" fill="#2dd6f6"/><circle cx="1134.7" cy="139.8" r="2.4" fill="#2dd6f6"/><circle cx="1054.7" cy="146.1" r="2.5" fill="#2dd6f6"/>
<g stroke="#d22f98" stroke-width="4.4" fill="none" stroke-linecap="round" stroke-linejoin="miter" ><path d="M895.4,51.5 L889.5,92"/><path d="M884.1,80.2 L889.5,92 L898.1,82.2"/><path d="M900.8,63.3 L895.4,51.5 L886.8,61.3"/></g>
<g stroke="#56ae2c" stroke-width="3.7" fill="none" stroke-linecap="round" stroke-linejoin="miter" ><path d="M850.8,110.3 L920.5,110.3"/><path d="M908.3,118.2 L920.5,110.3 L908.3,102.4"/><path d="M863,102.4 L850.8,110.3 L863,118.2"/></g>
<g stroke="#1676c6" stroke-width="3.9" fill="none" stroke-linecap="round" stroke-linejoin="miter" ><path d="M875.2,136.2 L864.8,183"/><path d="M859.9,169.9 L864.8,183 L874.8,173.2"/><path d="M880.1,149.3 L875.2,136.2 L865.2,146"/></g>
<g stroke="#d22f98" stroke-width="4.2" fill="none" stroke-linecap="round" stroke-linejoin="miter" ><path d="M961,65.5 L1013.8,88.6"/><path d="M999.5,91 L1013.8,88.6 L1005.8,76.5"/><path d="M975.3,63.1 L961,65.5 L969,77.6"/></g>
<g stroke="#56ae2c" stroke-width="3.7" fill="none" stroke-linecap="round" stroke-linejoin="miter" ><path d="M955,125.5 L1009.5,97.5"/><path d="M1002.3,110.1 L1009.5,97.5 L995.1,96"/><path d="M962.2,112.9 L955,125.5 L969.4,127"/></g>
<g stroke="#1676c6" stroke-width="3.9" fill="none" stroke-linecap="round" stroke-linejoin="miter" ><path d="M957.5,152.6 L1009.6,176.5"/><path d="M995.3,178.6 L1009.6,176.5 L1001.8,164.3"/><path d="M971.8,150.5 L957.5,152.6 L965.3,164.8"/></g>
<g stroke="#d22f98" stroke-width="3.9" fill="none" stroke-linecap="round" stroke-linejoin="miter" ><path d="M1045,75 L1108,75"/><path d="M1095.8,82.9 L1108,75 L1095.8,67.1"/><path d="M1057.2,67.1 L1045,75 L1057.2,82.9"/></g>
<g stroke="#56ae2c" stroke-width="3.9" fill="none" stroke-linecap="round" stroke-linejoin="miter" ><path d="M1079.8,89.8 L1088,127.6"/><path d="M1079.1,118.8 L1088,127.6 L1092.4,115.9"/><path d="M1088.7,98.6 L1079.8,89.8 L1075.4,101.5"/></g>
<g stroke="#1676c6" stroke-width="3.9" fill="none" stroke-linecap="round" stroke-linejoin="miter" ><path d="M1065.3,159.7 L1135,159.7"/><path d="M1122.8,167.6 L1135,159.7 L1122.8,151.8"/><path d="M1077.5,151.8 L1065.3,159.7 L1077.5,167.6"/></g>
<rect x="1291.2" y="15" width="381" height="208" fill="#fefdf8" />
<clipPath id="clipI4"><rect x="1291.2" y="15" width="381" height="208"/></clipPath>
<g clip-path="url(#clipI4)">
<polygon points="1300,166 1646,166 1650,203 1296,203" fill="#e0e6ef" />
<polygon points="1296,202.5 1650,202.5 1649,209 1297,209" fill="#f6f7fa" />
<rect x="1296.5" y="208.2" width="353" height="1.3" fill="#dde1ea" />
<rect x="1306.5" y="177.4" width="99" height="5" fill="#727d97" />
<rect x="1306.5" y="177.4" width="99" height="1.4" fill="#8e98ae" />
<rect x="1306.5" y="188.4" width="99" height="6" fill="#727d97" />
<rect x="1306.5" y="188.4" width="99" height="1.4" fill="#8e98ae" />
<polygon points="1302.2,168 1308.6,167 1307.8,201.5 1300.6,202" fill="#70a8da" />
<polygon points="1306.8,167.3 1308.6,167 1307.8,201.5 1306.2,201.7" fill="#9ccaee" />
<polygon points="1319.5,168 1325.9,167 1325.1,201.5 1317.9,202" fill="#7ab2e2" />
<polygon points="1324.1,167.3 1325.9,167 1325.1,201.5 1323.5,201.7" fill="#9ccaee" />
<polygon points="1336.8,168 1343.2,167 1342.4,201.5 1335.2,202" fill="#70a8da" />
<polygon points="1341.4,167.3 1343.2,167 1342.4,201.5 1340.8,201.7" fill="#9ccaee" />
<polygon points="1354.1,168 1360.5,167 1359.7,201.5 1352.5,202" fill="#7ab2e2" />
<polygon points="1358.7,167.3 1360.5,167 1359.7,201.5 1358.1,201.7" fill="#9ccaee" />
<polygon points="1371.4,168 1377.8,167 1377,201.5 1369.8,202" fill="#70a8da" />
<polygon points="1376,167.3 1377.8,167 1377,201.5 1375.4,201.7" fill="#9ccaee" />
<polygon points="1388.7,168 1395.1,167 1394.3,201.5 1387.1,202" fill="#7ab2e2" />
<polygon points="1393.3,167.3 1395.1,167 1394.3,201.5 1392.7,201.7" fill="#9ccaee" />
<polygon points="1406,168 1412.4,167 1411.6,201.5 1404.4,202" fill="#70a8da" />
<polygon points="1410.6,167.3 1412.4,167 1411.6,201.5 1410,201.7" fill="#9ccaee" />
<polygon points="1427,175 1443,180 1443,206 1427,201" fill="#6fa4d2" />
<polygon points="1427,176 1443,181 1443,205 1427,200" fill="#7bb2e0" /><polygon points="1427,176 1443,181 1443,182.2 1427,177.2" fill="#a4cff0" />
<polygon points="1433,179 1452,185 1452,209 1433,203" fill="#6fa4d2" />
<polygon points="1433,180 1452,186 1452,208 1433,202" fill="#7bb2e0" /><polygon points="1433,180 1452,186 1452,187.2 1433,181.2" fill="#a4cff0" />
<polygon points="1447,173 1468,181 1468,207 1447,199" fill="#6fa4d2" />
<polygon points="1447,174 1468,182 1468,206 1447,198" fill="#7bb2e0" /><polygon points="1447,174 1468,182 1468,183.2 1447,175.2" fill="#a4cff0" />
<polygon points="1470,173 1490,179 1490,207 1470,201" fill="#6fa4d2" />
<polygon points="1470,174 1490,180 1490,206 1470,200" fill="#7bb2e0" /><polygon points="1470,174 1490,180 1490,181.2 1470,175.2" fill="#a4cff0" />
<polygon points="1480,177 1502,185 1502,209 1480,201" fill="#6fa4d2" />
<polygon points="1480,178 1502,186 1502,208 1480,200" fill="#7bb2e0" /><polygon points="1480,178 1502,186 1502,187.2 1480,179.2" fill="#a4cff0" />
<polygon points="1496,173 1518,179 1518,207 1496,201" fill="#6fa4d2" />
<polygon points="1496,174 1518,180 1518,206 1496,200" fill="#7bb2e0" /><polygon points="1496,174 1518,180 1518,181.2 1496,175.2" fill="#a4cff0" />
<rect x="1446" y="196" width="9" height="5.5" fill="#8a8fa0" rx="2.4"/>
<rect x="1442.5" y="182" width="3.2" height="21" fill="#c4c0bc" />
<rect x="1508" y="196" width="9" height="5.5" fill="#8a8fa0" rx="2.4"/>
<rect x="1504.5" y="182" width="3.2" height="21" fill="#c4c0bc" />
<rect x="1531" y="172" width="31.5" height="12" fill="#74abda" />
<rect x="1531" y="172" width="31.5" height="1.4" fill="#acd4f2" />
<rect x="1565.5" y="172" width="31.5" height="12" fill="#74abda" />
<rect x="1565.5" y="172" width="31.5" height="1.4" fill="#acd4f2" />
<rect x="1600" y="172" width="31.5" height="12" fill="#74abda" />
<rect x="1600" y="172" width="31.5" height="1.4" fill="#acd4f2" />
<rect x="1529.5" y="180" width="33" height="22" fill="#7fb5e2" />
<rect x="1529.5" y="180" width="33" height="1.4" fill="#acd4f2" />
<rect x="1564" y="180" width="33" height="22" fill="#7fb5e2" />
<rect x="1564" y="180" width="33" height="1.4" fill="#acd4f2" />
<rect x="1598.5" y="180" width="33" height="22" fill="#7fb5e2" />
<rect x="1598.5" y="180" width="33" height="1.4" fill="#acd4f2" />
<circle cx="1444.5" cy="172.2" r="2.3" fill="#25bfe6"/>
<circle cx="1370.6" cy="172.5" r="2.3" fill="#25bfe6"/>
<circle cx="1561.2" cy="172.5" r="2.3" fill="#25bfe6"/>
<circle cx="1437.6" cy="175.1" r="2.3" fill="#25bfe6"/>
<circle cx="1488.7" cy="176.6" r="2.3" fill="#25bfe6"/>
<circle cx="1472.5" cy="173.5" r="2.3" fill="#25bfe6"/>
<circle cx="1513.1" cy="172.3" r="2.3" fill="#25bfe6"/>
<circle cx="1607.9" cy="173.2" r="2.3" fill="#25bfe6"/>
<circle cx="1439.3" cy="175.1" r="2.3" fill="#25bfe6"/>
<circle cx="1361.9" cy="175" r="2.3" fill="#25bfe6"/>
<circle cx="1590.8" cy="173" r="2.3" fill="#25bfe6"/>
<circle cx="1622.6" cy="174.2" r="2.3" fill="#25bfe6"/>
<circle cx="1566" cy="173.8" r="2.3" fill="#25bfe6"/>
<circle cx="1444.1" cy="172.6" r="2.3" fill="#25bfe6"/>
<circle cx="1314.5" cy="172.2" r="2.3" fill="#25bfe6"/>
<circle cx="1636.6" cy="174.2" r="2.3" fill="#25bfe6"/>
<circle cx="1463.6" cy="176.4" r="2.3" fill="#25bfe6"/>
<circle cx="1510.6" cy="176.9" r="2.3" fill="#25bfe6"/>
<circle cx="1429.3" cy="172.3" r="2.3" fill="#25bfe6"/>
<circle cx="1614" cy="172" r="2.3" fill="#25bfe6"/>
<circle cx="1571.7" cy="174.6" r="2.3" fill="#25bfe6"/>
<circle cx="1634.4" cy="176.7" r="2.3" fill="#25bfe6"/>
<circle cx="1528.6" cy="171.2" r="2.3" fill="#25bfe6"/>
<circle cx="1319.6" cy="173.8" r="2.3" fill="#25bfe6"/>
<circle cx="1580.9" cy="171.5" r="2.3" fill="#25bfe6"/>
<circle cx="1451.5" cy="171.5" r="2.3" fill="#25bfe6"/>
<polygon points="1372,41 1579,41 1608,62 1646,146 1600,154 1340,154 1300,146 1345,54" fill="#7fb2dd" />
<polygon points="1374.3,36.8 1376,37.6 1376,43.2 1374.3,43.2" fill="#5f93c4" />
<polygon points="1362.7,39.4 1374.5,36.2 1374.5,43.2 1362.7,46.4" fill="#a6d6f8" /><polygon points="1362.7,39.4 1374.5,36.2 1374.5,37.2 1362.7,40.4" fill="#bfe1fa" />
<polygon points="1388.9,36.8 1390.6,37.6 1390.6,43.2 1388.9,43.2" fill="#5f93c4" />
<polygon points="1376.1,39.8 1389.1,36.2 1389.1,43.2 1376.1,46.8" fill="#a6d6f8" /><polygon points="1376.1,39.8 1389.1,36.2 1389.1,37.2 1376.1,40.8" fill="#bfe1fa" />
<polygon points="1403.5,36.8 1405.2,37.6 1405.2,43.2 1403.5,43.2" fill="#5f93c4" />
<polygon points="1390.7,39.8 1403.7,36.2 1403.7,43.2 1390.7,46.8" fill="#a6d6f8" /><polygon points="1390.7,39.8 1403.7,36.2 1403.7,37.2 1390.7,40.8" fill="#bfe1fa" />
<polygon points="1418,36.8 1419.7,37.6 1419.7,43.2 1418,43.2" fill="#5f93c4" />
<polygon points="1405.2,39.8 1418.2,36.2 1418.2,43.2 1405.2,46.8" fill="#a6d6f8" /><polygon points="1405.2,39.8 1418.2,36.2 1418.2,37.2 1405.2,40.8" fill="#bfe1fa" />
<polygon points="1429.2,37.7 1430.9,38.5 1430.9,44.1 1429.2,44.1" fill="#5f93c4" />
<polygon points="1419.8,39.8 1429.4,37.1 1429.4,44.1 1419.8,46.8" fill="#a6d6f8" /><polygon points="1419.8,39.8 1429.4,37.1 1429.4,38.1 1419.8,40.8" fill="#bfe1fa" />
<polygon points="1447.1,37 1448.8,37.8 1448.8,43.4 1447.1,43.4" fill="#5f93c4" />
<polygon points="1434.3,39.6 1447.3,36.4 1447.3,43.4 1434.3,46.6" fill="#a6d6f8" /><polygon points="1434.3,39.6 1447.3,36.4 1447.3,37.4 1434.3,40.6" fill="#bfe1fa" />
<polygon points="1461.7,37 1463.4,37.8 1463.4,43.4 1461.7,43.4" fill="#5f93c4" />
<polygon points="1448.9,39.6 1461.9,36.4 1461.9,43.4 1448.9,46.6" fill="#a6d6f8" /><polygon points="1448.9,39.6 1461.9,36.4 1461.9,37.4 1448.9,40.6" fill="#bfe1fa" />
<polygon points="1476.3,37 1478,37.8 1478,43.4 1476.3,43.4" fill="#5f93c4" />
<polygon points="1463.5,39.6 1476.5,36.4 1476.5,43.4 1463.5,46.6" fill="#a6d6f8" /><polygon points="1463.5,39.6 1476.5,36.4 1476.5,37.4 1463.5,40.6" fill="#bfe1fa" />
<polygon points="1490.8,37 1492.5,37.8 1492.5,43.4 1490.8,43.4" fill="#5f93c4" />
<polygon points="1478,39.6 1491,36.4 1491,43.4 1478,46.6" fill="#a6d6f8" /><polygon points="1478,39.6 1491,36.4 1491,37.4 1478,40.6" fill="#bfe1fa" />
<polygon points="1505.4,37 1507.1,37.8 1507.1,43.4 1505.4,43.4" fill="#5f93c4" />
<polygon points="1492.6,39.6 1505.6,36.4 1505.6,43.4 1492.6,46.6" fill="#a6d6f8" /><polygon points="1492.6,39.6 1505.6,36.4 1505.6,37.4 1492.6,40.6" fill="#bfe1fa" />
<polygon points="1515.4,38.1 1517.1,38.9 1517.1,44.5 1515.4,44.5" fill="#5f93c4" />
<polygon points="1507.1,39.6 1515.6,37.5 1515.6,44.5 1507.1,46.6" fill="#a6d6f8" /><polygon points="1507.1,39.6 1515.6,37.5 1515.6,38.5 1507.1,40.6" fill="#bfe1fa" />
<polygon points="1534.5,37.2 1536.2,38 1536.2,43.6 1534.5,43.6" fill="#5f93c4" />
<polygon points="1521.7,39.4 1534.7,36.6 1534.7,43.6 1521.7,46.4" fill="#a6d6f8" /><polygon points="1521.7,39.4 1534.7,36.6 1534.7,37.6 1521.7,40.4" fill="#bfe1fa" />
<polygon points="1549.1,37.2 1550.8,38 1550.8,43.6 1549.1,43.6" fill="#5f93c4" />
<polygon points="1536.3,39.4 1549.3,36.6 1549.3,43.6 1536.3,46.4" fill="#a6d6f8" /><polygon points="1536.3,39.4 1549.3,36.6 1549.3,37.6 1536.3,40.4" fill="#bfe1fa" />
<polygon points="1563.6,37.2 1565.3,38 1565.3,43.6 1563.6,43.6" fill="#5f93c4" />
<polygon points="1550.8,39.4 1563.8,36.6 1563.8,43.6 1550.8,46.4" fill="#a6d6f8" /><polygon points="1550.8,39.4 1563.8,36.6 1563.8,37.6 1550.8,40.4" fill="#bfe1fa" />
<polygon points="1578.2,37.2 1579.9,38 1579.9,43.6 1578.2,43.6" fill="#5f93c4" />
<polygon points="1565.4,39.4 1578.4,36.6 1578.4,43.6 1565.4,46.4" fill="#a6d6f8" /><polygon points="1565.4,39.4 1578.4,36.6 1578.4,37.6 1565.4,40.4" fill="#bfe1fa" />
<polygon points="1584.2,39 1585.9,39.8 1585.9,45.4 1584.2,45.4" fill="#5f93c4" />
<polygon points="1579.9,39.4 1584.4,38.4 1584.4,45.4 1579.9,46.4" fill="#a6d6f8" /><polygon points="1579.9,39.4 1584.4,38.4 1584.4,39.4 1579.9,40.4" fill="#bfe1fa" />
<polygon points="1362.9,38.7 1364.6,39.5 1364.6,45.4 1362.9,45.4" fill="#5f93c4" />
<polygon points="1358.5,39.3 1363.1,38.1 1363.1,45.4 1358.5,46.7" fill="#a3d4f7" /><polygon points="1358.5,39.3 1363.1,38.1 1363.1,39.1 1358.5,40.3" fill="#bfe1fa" />
<polygon points="1377.6,38.7 1379.3,39.5 1379.3,45.4 1377.6,45.4" fill="#5f93c4" />
<polygon points="1364.7,41.6 1377.8,38.1 1377.8,45.4 1364.7,49" fill="#a4d4f7" /><polygon points="1364.7,41.6 1377.8,38.1 1377.8,39.1 1364.7,42.7" fill="#bfe1fa" />
<polygon points="1392.4,38.7 1394.1,39.5 1394.1,45.4 1392.4,45.4" fill="#5f93c4" />
<polygon points="1379.4,41.6 1392.6,38.1 1392.6,45.4 1379.4,49" fill="#a4d4f7" /><polygon points="1379.4,41.6 1392.6,38.1 1392.6,39.1 1379.4,42.7" fill="#bfe1fa" />
<polygon points="1407.1,38.7 1408.8,39.5 1408.8,45.4 1407.1,45.4" fill="#5f93c4" />
<polygon points="1394.2,41.6 1407.3,38.1 1407.3,45.4 1394.2,49" fill="#a3d4f7" /><polygon points="1394.2,41.6 1407.3,38.1 1407.3,39.1 1394.2,42.7" fill="#bfe1fa" />
<polygon points="1421.9,38.7 1423.6,39.5 1423.6,45.4 1421.9,45.4" fill="#5f93c4" />
<polygon points="1408.9,41.6 1422.1,38.1 1422.1,45.4 1408.9,49" fill="#a4d4f7" /><polygon points="1408.9,41.6 1422.1,38.1 1422.1,39.1 1408.9,42.7" fill="#bfe1fa" />
<polygon points="1429,40.8 1430.7,41.6 1430.7,47.5 1429,47.5" fill="#5f93c4" />
<polygon points="1423.7,41.6 1429.2,40.2 1429.2,47.5 1423.7,49" fill="#a4d5f7" /><polygon points="1423.7,41.6 1429.2,40.2 1429.2,41.2 1423.7,42.7" fill="#bfe1fa" />
<polygon points="1451.4,38.9 1453.1,39.7 1453.1,45.6 1451.4,45.6" fill="#5f93c4" />
<polygon points="1438.4,41.4 1451.6,38.3 1451.6,45.6 1438.4,48.8" fill="#a4d4f7" /><polygon points="1438.4,41.4 1451.6,38.3 1451.6,39.3 1438.4,42.5" fill="#bfe1fa" />
<polygon points="1466.1,38.9 1467.8,39.7 1467.8,45.6 1466.1,45.6" fill="#5f93c4" />
<polygon points="1453.2,41.4 1466.3,38.3 1466.3,45.6 1453.2,48.8" fill="#a4d5f7" /><polygon points="1453.2,41.4 1466.3,38.3 1466.3,39.3 1453.2,42.5" fill="#bfe1fa" />
<polygon points="1480.9,38.9 1482.6,39.7 1482.6,45.6 1480.9,45.6" fill="#5f93c4" />
<polygon points="1467.9,41.4 1481.1,38.3 1481.1,45.6 1467.9,48.8" fill="#a3d4f7" /><polygon points="1467.9,41.4 1481.1,38.3 1481.1,39.3 1467.9,42.5" fill="#bfe1fa" />
<polygon points="1495.6,38.9 1497.3,39.7 1497.3,45.6 1495.6,45.6" fill="#5f93c4" />
<polygon points="1482.7,41.4 1495.8,38.3 1495.8,45.6 1482.7,48.8" fill="#a3d4f7" /><polygon points="1482.7,41.4 1495.8,38.3 1495.8,39.3 1482.7,42.5" fill="#bfe1fa" />
<polygon points="1510.4,38.9 1512.1,39.7 1512.1,45.6 1510.4,45.6" fill="#5f93c4" />
<polygon points="1497.4,41.4 1510.6,38.3 1510.6,45.6 1497.4,48.8" fill="#a3d4f7" /><polygon points="1497.4,41.4 1510.6,38.3 1510.6,39.3 1497.4,42.5" fill="#bfe1fa" />
<polygon points="1525.1,39 1526.8,39.8 1526.8,45.8 1525.1,45.8" fill="#5f93c4" />
<polygon points="1518.3,40 1525.3,38.4 1525.3,45.8 1518.3,47.3" fill="#a3d4f7" /><polygon points="1518.3,40 1525.3,38.4 1525.3,39.4 1518.3,41" fill="#bfe1fa" />
<polygon points="1539.9,39 1541.6,39.8 1541.6,45.8 1539.9,45.8" fill="#5f93c4" />
<polygon points="1526.9,41.3 1540.1,38.4 1540.1,45.8 1526.9,48.7" fill="#a3d4f7" /><polygon points="1526.9,41.3 1540.1,38.4 1540.1,39.4 1526.9,42.3" fill="#bfe1fa" />
<polygon points="1554.6,39 1556.3,39.8 1556.3,45.8 1554.6,45.8" fill="#5f93c4" />
<polygon points="1541.7,41.3 1554.8,38.4 1554.8,45.8 1541.7,48.7" fill="#a3d4f7" /><polygon points="1541.7,41.3 1554.8,38.4 1554.8,39.4 1541.7,42.3" fill="#bfe1fa" />
<polygon points="1569.4,39 1571.1,39.8 1571.1,45.8 1569.4,45.8" fill="#5f93c4" />
<polygon points="1556.4,41.3 1569.6,38.4 1569.6,45.8 1556.4,48.7" fill="#a4d5f7" /><polygon points="1556.4,41.3 1569.6,38.4 1569.6,39.4 1556.4,42.3" fill="#bfe1fa" />
<polygon points="1584.1,39 1585.8,39.8 1585.8,45.8 1584.1,45.8" fill="#5f93c4" />
<polygon points="1571.2,41.3 1584.3,38.4 1584.3,45.8 1571.2,48.7" fill="#a4d4f7" /><polygon points="1571.2,41.3 1584.3,38.4 1584.3,39.4 1571.2,42.3" fill="#bfe1fa" />
<polygon points="1363.2,41.9 1364.9,42.7 1364.9,49.2 1363.2,49.2" fill="#5f93c4" />
<polygon points="1351.2,44.6 1363.4,41.3 1363.4,49.2 1351.2,52.5" fill="#a2d3f6" /><polygon points="1351.2,44.6 1363.4,41.3 1363.4,42.3 1351.2,45.6" fill="#bfe1fa" />
<polygon points="1378.3,41.9 1380,42.7 1380,49.2 1378.3,49.2" fill="#5f93c4" />
<polygon points="1365,44.9 1378.5,41.3 1378.5,49.2 1365,52.8" fill="#a1d2f6" /><polygon points="1365,44.9 1378.5,41.3 1378.5,42.3 1365,46" fill="#bfe1fa" />
<polygon points="1393.3,41.9 1395,42.7 1395,49.2 1393.3,49.2" fill="#5f93c4" />
<polygon points="1380.1,44.9 1393.5,41.3 1393.5,49.2 1380.1,52.8" fill="#a0d1f5" /><polygon points="1380.1,44.9 1393.5,41.3 1393.5,42.3 1380.1,46" fill="#bfe1fa" />
<polygon points="1408.4,41.9 1410.1,42.7 1410.1,49.2 1408.4,49.2" fill="#5f93c4" />
<polygon points="1395.2,44.9 1408.6,41.3 1408.6,49.2 1395.2,52.8" fill="#a1d2f6" /><polygon points="1395.2,44.9 1408.6,41.3 1408.6,42.3 1395.2,46" fill="#bfe1fa" />
<polygon points="1423.5,41.9 1425.2,42.7 1425.2,49.2 1423.5,49.2" fill="#5f93c4" />
<polygon points="1410.2,44.9 1423.7,41.3 1423.7,49.2 1410.2,52.8" fill="#a2d3f6" /><polygon points="1410.2,44.9 1423.7,41.3 1423.7,42.3 1410.2,46" fill="#bfe1fa" />
<polygon points="1438.6,42.1 1440.3,42.9 1440.3,49.4 1438.6,49.4" fill="#5f93c4" />
<polygon points="1431.1,43.3 1438.8,41.5 1438.8,49.4 1431.1,51.3" fill="#a0d1f5" /><polygon points="1431.1,43.3 1438.8,41.5 1438.8,42.5 1431.1,44.4" fill="#bfe1fa" />
<polygon points="1453.7,42.1 1455.4,42.9 1455.4,49.4 1453.7,49.4" fill="#5f93c4" />
<polygon points="1440.4,44.7 1453.9,41.5 1453.9,49.4 1440.4,52.6" fill="#a2d3f6" /><polygon points="1440.4,44.7 1453.9,41.5 1453.9,42.5 1440.4,45.8" fill="#bfe1fa" />
<polygon points="1468.7,42.1 1470.4,42.9 1470.4,49.4 1468.7,49.4" fill="#5f93c4" />
<polygon points="1455.5,44.7 1468.9,41.5 1468.9,49.4 1455.5,52.6" fill="#a0d1f5" /><polygon points="1455.5,44.7 1468.9,41.5 1468.9,42.5 1455.5,45.8" fill="#bfe1fa" />
<polygon points="1483.8,42.1 1485.5,42.9 1485.5,49.4 1483.8,49.4" fill="#5f93c4" />
<polygon points="1470.6,44.7 1484,41.5 1484,49.4 1470.6,52.6" fill="#a0d1f5" /><polygon points="1470.6,44.7 1484,41.5 1484,42.5 1470.6,45.8" fill="#bfe1fa" />
<polygon points="1498.9,42.1 1500.6,42.9 1500.6,49.4 1498.9,49.4" fill="#5f93c4" />
<polygon points="1485.6,44.7 1499.1,41.5 1499.1,49.4 1485.6,52.6" fill="#a2d3f6" /><polygon points="1485.6,44.7 1499.1,41.5 1499.1,42.5 1485.6,45.8" fill="#bfe1fa" />
<polygon points="1514,42.1 1515.7,42.9 1515.7,49.4 1514,49.4" fill="#5f93c4" />
<polygon points="1500.7,44.7 1514.2,41.5 1514.2,49.4 1500.7,52.6" fill="#a0d1f5" /><polygon points="1500.7,44.7 1514.2,41.5 1514.2,42.5 1500.7,45.8" fill="#bfe1fa" />
<polygon points="1529.1,42.2 1530.8,43 1530.8,49.6 1529.1,49.6" fill="#5f93c4" />
<polygon points="1518.7,43.9 1529.3,41.6 1529.3,49.6 1518.7,51.9" fill="#a1d2f6" /><polygon points="1518.7,43.9 1529.3,41.6 1529.3,42.7 1518.7,45" fill="#bfe1fa" />
<polygon points="1544.2,42.2 1545.9,43 1545.9,49.6 1544.2,49.6" fill="#5f93c4" />
<polygon points="1530.9,44.6 1544.4,41.6 1544.4,49.6 1530.9,52.5" fill="#a2d3f6" /><polygon points="1530.9,44.6 1544.4,41.6 1544.4,42.7 1530.9,45.6" fill="#bfe1fa" />
<polygon points="1559.2,42.2 1560.9,43 1560.9,49.6 1559.2,49.6" fill="#5f93c4" />
<polygon points="1546,44.6 1559.4,41.6 1559.4,49.6 1546,52.5" fill="#a2d3f6" /><polygon points="1546,44.6 1559.4,41.6 1559.4,42.7 1546,45.6" fill="#bfe1fa" />
<polygon points="1574.3,42.2 1576,43 1576,49.6 1574.3,49.6" fill="#5f93c4" />
<polygon points="1561.1,44.6 1574.5,41.6 1574.5,49.6 1561.1,52.5" fill="#a2d3f6" /><polygon points="1561.1,44.6 1574.5,41.6 1574.5,42.7 1561.1,45.6" fill="#bfe1fa" />
<polygon points="1589.4,42.2 1591.1,43 1591.1,49.6 1589.4,49.6" fill="#5f93c4" />
<polygon points="1576.1,44.6 1589.6,41.6 1589.6,49.6 1576.1,52.5" fill="#a1d2f6" /><polygon points="1576.1,44.6 1589.6,41.6 1589.6,42.7 1576.1,45.6" fill="#bfe1fa" />
<polygon points="1347.3,45.9 1349,46.7 1349,54 1347.3,54" fill="#5f93c4" />
<polygon points="1342.7,46.6 1347.5,45.3 1347.5,54 1342.7,55.3" fill="#a1d2f6" /><polygon points="1342.7,46.6 1347.5,45.3 1347.5,46.4 1342.7,47.7" fill="#bfe1fa" />
<polygon points="1362.8,45.9 1364.5,46.7 1364.5,54 1362.8,54" fill="#5f93c4" />
<polygon points="1349.2,49 1363,45.3 1363,54 1349.2,57.7" fill="#9fd1f5" /><polygon points="1349.2,49 1363,45.3 1363,46.4 1349.2,50.1" fill="#bfe1fa" />
<polygon points="1378.3,45.9 1380,46.7 1380,54 1378.3,54" fill="#5f93c4" />
<polygon points="1364.7,49 1378.5,45.3 1378.5,54 1364.7,57.7" fill="#9ed0f4" /><polygon points="1364.7,49 1378.5,45.3 1378.5,46.4 1364.7,50.1" fill="#bfe1fa" />
<polygon points="1393.8,45.9 1395.5,46.7 1395.5,54 1393.8,54" fill="#5f93c4" />
<polygon points="1380.2,49 1394,45.3 1394,54 1380.2,57.7" fill="#a1d2f6" /><polygon points="1380.2,49 1394,45.3 1394,46.4 1380.2,50.1" fill="#bfe1fa" />
<polygon points="1409.3,45.9 1411,46.7 1411,54 1409.3,54" fill="#5f93c4" />
<polygon points="1395.7,49 1409.5,45.3 1409.5,54 1395.7,57.7" fill="#a1d2f6" /><polygon points="1395.7,49 1409.5,45.3 1409.5,46.4 1395.7,50.1" fill="#bfe1fa" />
<polygon points="1424.8,45.9 1426.5,46.7 1426.5,54 1424.8,54" fill="#5f93c4" />
<polygon points="1411.2,49 1425,45.3 1425,54 1411.2,57.7" fill="#9fd1f5" /><polygon points="1411.2,49 1425,45.3 1425,46.4 1411.2,50.1" fill="#bfe1fa" />
<polygon points="1440.3,46.1 1442,46.9 1442,54.2 1440.3,54.2" fill="#5f93c4" />
<polygon points="1430.5,47.9 1440.5,45.5 1440.5,54.2 1430.5,56.6" fill="#9fd1f5" /><polygon points="1430.5,47.9 1440.5,45.5 1440.5,46.6 1430.5,49" fill="#bfe1fa" />
<polygon points="1455.8,46.1 1457.5,46.9 1457.5,54.2 1455.8,54.2" fill="#5f93c4" />
<polygon points="1442.2,48.8 1456,45.5 1456,54.2 1442.2,57.5" fill="#9dcff4" /><polygon points="1442.2,48.8 1456,45.5 1456,46.6 1442.2,49.9" fill="#bfe1fa" />
<polygon points="1471.3,46.1 1473,46.9 1473,54.2 1471.3,54.2" fill="#5f93c4" />
<polygon points="1457.7,48.8 1471.5,45.5 1471.5,54.2 1457.7,57.5" fill="#9dcff4" /><polygon points="1457.7,48.8 1471.5,45.5 1471.5,46.6 1457.7,49.9" fill="#bfe1fa" />
<polygon points="1486.8,46.1 1488.5,46.9 1488.5,54.2 1486.8,54.2" fill="#5f93c4" />
<polygon points="1473.2,48.8 1487,45.5 1487,54.2 1473.2,57.5" fill="#9fd1f5" /><polygon points="1473.2,48.8 1487,45.5 1487,46.6 1473.2,49.9" fill="#bfe1fa" />
<polygon points="1502.3,46.1 1504,46.9 1504,54.2 1502.3,54.2" fill="#5f93c4" />
<polygon points="1488.7,48.8 1502.5,45.5 1502.5,54.2 1488.7,57.5" fill="#a1d2f6" /><polygon points="1488.7,48.8 1502.5,45.5 1502.5,46.6 1488.7,49.9" fill="#bfe1fa" />
<polygon points="1517.8,46.1 1519.5,46.9 1519.5,54.2 1517.8,54.2" fill="#5f93c4" />
<polygon points="1504.2,48.8 1518,45.5 1518,54.2 1504.2,57.5" fill="#9fd1f5" /><polygon points="1504.2,48.8 1518,45.5 1518,46.6 1504.2,49.9" fill="#bfe1fa" />
<polygon points="1533.3,46.3 1535,47.1 1535,54.3 1533.3,54.3" fill="#5f93c4" />
<polygon points="1519.7,48.7 1533.5,45.7 1533.5,54.3 1519.7,57.4" fill="#9dcff4" /><polygon points="1519.7,48.7 1533.5,45.7 1533.5,46.7 1519.7,49.8" fill="#bfe1fa" />
<polygon points="1548.8,46.3 1550.5,47.1 1550.5,54.3 1548.8,54.3" fill="#5f93c4" />
<polygon points="1535.2,48.7 1549,45.7 1549,54.3 1535.2,57.4" fill="#9ed0f4" /><polygon points="1535.2,48.7 1549,45.7 1549,46.7 1535.2,49.8" fill="#bfe1fa" />
<polygon points="1564.3,46.3 1566,47.1 1566,54.3 1564.3,54.3" fill="#5f93c4" />
<polygon points="1550.7,48.7 1564.5,45.7 1564.5,54.3 1550.7,57.4" fill="#9fd1f5" /><polygon points="1550.7,48.7 1564.5,45.7 1564.5,46.7 1550.7,49.8" fill="#bfe1fa" />
<polygon points="1579.8,46.3 1581.5,47.1 1581.5,54.3 1579.8,54.3" fill="#5f93c4" />
<polygon points="1566.2,48.7 1580,45.7 1580,54.3 1566.2,57.4" fill="#a1d2f6" /><polygon points="1566.2,48.7 1580,45.7 1580,46.7 1566.2,49.8" fill="#bfe1fa" />
<polygon points="1595.3,46.3 1597,47.1 1597,54.3 1595.3,54.3" fill="#5f93c4" />
<polygon points="1581.7,48.7 1595.5,45.7 1595.5,54.3 1581.7,57.4" fill="#9dcff4" /><polygon points="1581.7,48.7 1595.5,45.7 1595.5,46.7 1581.7,49.8" fill="#bfe1fa" />
<polygon points="1352.9,50.6 1354.6,51.4 1354.6,59.6 1352.9,59.6" fill="#5f93c4" />
<polygon points="1340.2,53.5 1353.1,50 1353.1,59.6 1340.2,63" fill="#9acdf2" /><polygon points="1340.2,53.5 1353.1,50 1353.1,51.1 1340.2,54.6" fill="#bfe1fa" />
<polygon points="1368.9,50.6 1370.6,51.4 1370.6,59.6 1368.9,59.6" fill="#5f93c4" />
<polygon points="1354.8,53.9 1369.1,50 1369.1,59.6 1354.8,63.4" fill="#9dcff4" /><polygon points="1354.8,53.9 1369.1,50 1369.1,51.1 1354.8,55" fill="#bfe1fa" />
<polygon points="1384.9,50.6 1386.6,51.4 1386.6,59.6 1384.9,59.6" fill="#5f93c4" />
<polygon points="1370.8,53.9 1385.1,50 1385.1,59.6 1370.8,63.4" fill="#9dcff4" /><polygon points="1370.8,53.9 1385.1,50 1385.1,51.1 1370.8,55" fill="#bfe1fa" />
<polygon points="1400.9,50.6 1402.6,51.4 1402.6,59.6 1400.9,59.6" fill="#5f93c4" />
<polygon points="1386.8,53.9 1401.1,50 1401.1,59.6 1386.8,63.4" fill="#9dcff4" /><polygon points="1386.8,53.9 1401.1,50 1401.1,51.1 1386.8,55" fill="#bfe1fa" />
<polygon points="1416.9,50.6 1418.6,51.4 1418.6,59.6 1416.9,59.6" fill="#5f93c4" />
<polygon points="1402.8,53.9 1417.1,50 1417.1,59.6 1402.8,63.4" fill="#9acdf2" /><polygon points="1402.8,53.9 1417.1,50 1417.1,51.1 1402.8,55" fill="#bfe1fa" />
<polygon points="1427.1,52.1 1428.8,52.9 1428.8,61.1 1427.1,61.1" fill="#5f93c4" />
<polygon points="1418.8,53.9 1427.3,51.5 1427.3,61.1 1418.8,63.4" fill="#9fd0f5" /><polygon points="1418.8,53.9 1427.3,51.5 1427.3,52.6 1418.8,55" fill="#bfe1fa" />
<polygon points="1448.8,50.8 1450.5,51.6 1450.5,59.8 1448.8,59.8" fill="#5f93c4" />
<polygon points="1434.8,53.6 1449,50.2 1449,59.8 1434.8,63.2" fill="#9fd0f5" /><polygon points="1434.8,53.6 1449,50.2 1449,51.3 1434.8,54.7" fill="#bfe1fa" />
<polygon points="1464.8,50.8 1466.5,51.6 1466.5,59.8 1464.8,59.8" fill="#5f93c4" />
<polygon points="1450.7,53.6 1465,50.2 1465,59.8 1450.7,63.2" fill="#9ccef3" /><polygon points="1450.7,53.6 1465,50.2 1465,51.3 1450.7,54.7" fill="#bfe1fa" />
<polygon points="1480.8,50.8 1482.5,51.6 1482.5,59.8 1480.8,59.8" fill="#5f93c4" />
<polygon points="1466.7,53.6 1481,50.2 1481,59.8 1466.7,63.2" fill="#9dcff4" /><polygon points="1466.7,53.6 1481,50.2 1481,51.3 1466.7,54.7" fill="#bfe1fa" />
<polygon points="1496.8,50.8 1498.5,51.6 1498.5,59.8 1496.8,59.8" fill="#5f93c4" />
<polygon points="1482.7,53.6 1497,50.2 1497,59.8 1482.7,63.2" fill="#9fd0f5" /><polygon points="1482.7,53.6 1497,50.2 1497,51.3 1482.7,54.7" fill="#bfe1fa" />
<polygon points="1512.8,50.8 1514.5,51.6 1514.5,59.8 1512.8,59.8" fill="#5f93c4" />
<polygon points="1498.7,53.6 1513,50.2 1513,59.8 1498.7,63.2" fill="#9dcff4" /><polygon points="1498.7,53.6 1513,50.2 1513,51.3 1498.7,54.7" fill="#bfe1fa" />
<polygon points="1528.8,51 1530.5,51.8 1530.5,59.9 1528.8,59.9" fill="#5f93c4" />
<polygon points="1519.9,52.4 1529,50.4 1529,59.9 1519.9,61.9" fill="#9dcff4" /><polygon points="1519.9,52.4 1529,50.4 1529,51.5 1519.9,53.4" fill="#bfe1fa" />
<polygon points="1544.7,51 1546.4,51.8 1546.4,59.9 1544.7,59.9" fill="#5f93c4" />
<polygon points="1530.7,53.5 1544.9,50.4 1544.9,59.9 1530.7,63" fill="#9dcff4" /><polygon points="1530.7,53.5 1544.9,50.4 1544.9,51.5 1530.7,54.6" fill="#bfe1fa" />
<polygon points="1560.7,51 1562.4,51.8 1562.4,59.9 1560.7,59.9" fill="#5f93c4" />
<polygon points="1546.6,53.5 1560.9,50.4 1560.9,59.9 1546.6,63" fill="#9dcff4" /><polygon points="1546.6,53.5 1560.9,50.4 1560.9,51.5 1546.6,54.6" fill="#bfe1fa" />
<polygon points="1576.7,51 1578.4,51.8 1578.4,59.9 1576.7,59.9" fill="#5f93c4" />
<polygon points="1562.6,53.5 1576.9,50.4 1576.9,59.9 1562.6,63" fill="#9ccef3" /><polygon points="1562.6,53.5 1576.9,50.4 1576.9,51.5 1562.6,54.6" fill="#bfe1fa" />
<polygon points="1592.7,51 1594.4,51.8 1594.4,59.9 1592.7,59.9" fill="#5f93c4" />
<polygon points="1578.6,53.5 1592.9,50.4 1592.9,59.9 1578.6,63" fill="#9acdf2" /><polygon points="1578.6,53.5 1592.9,50.4 1592.9,51.5 1578.6,54.6" fill="#bfe1fa" />
<polygon points="1603.4,52.1 1605.1,52.9 1605.1,61.1 1603.4,61.1" fill="#5f93c4" />
<polygon points="1594.6,53.5 1603.6,51.5 1603.6,61.1 1594.6,63" fill="#9fd0f5" /><polygon points="1594.6,53.5 1603.6,51.5 1603.6,52.6 1594.6,54.6" fill="#bfe1fa" />
<polygon points="1342.2,55.9 1343.9,56.7 1343.9,65.8 1342.2,65.8" fill="#5f93c4" />
<polygon points="1337.4,56.6 1342.4,55.3 1342.4,65.8 1337.4,67.1" fill="#9dcff4" /><polygon points="1337.4,56.6 1342.4,55.3 1342.4,56.4 1337.4,57.7" fill="#bfe1fa" />
<polygon points="1358.8,55.9 1360.5,56.7 1360.5,65.8 1358.8,65.8" fill="#5f93c4" />
<polygon points="1344.2,59.2 1359,55.3 1359,65.8 1344.2,69.8" fill="#99ccf2" /><polygon points="1344.2,59.2 1359,55.3 1359,56.4 1344.2,60.4" fill="#bfe1fa" />
<polygon points="1375.3,55.9 1377,56.7 1377,65.8 1375.3,65.8" fill="#5f93c4" />
<polygon points="1360.7,59.2 1375.5,55.3 1375.5,65.8 1360.7,69.8" fill="#9bcef3" /><polygon points="1360.7,59.2 1375.5,55.3 1375.5,56.4 1360.7,60.4" fill="#bfe1fa" />
<polygon points="1391.8,55.9 1393.5,56.7 1393.5,65.8 1391.8,65.8" fill="#5f93c4" />
<polygon points="1377.3,59.2 1392,55.3 1392,65.8 1377.3,69.8" fill="#9dcff4" /><polygon points="1377.3,59.2 1392,55.3 1392,56.4 1377.3,60.4" fill="#bfe1fa" />
<polygon points="1408.4,55.9 1410.1,56.7 1410.1,65.8 1408.4,65.8" fill="#5f93c4" />
<polygon points="1393.8,59.2 1408.6,55.3 1408.6,65.8 1393.8,69.8" fill="#9dcff4" /><polygon points="1393.8,59.2 1408.6,55.3 1408.6,56.4 1393.8,60.4" fill="#bfe1fa" />
<polygon points="1424.9,55.9 1426.6,56.7 1426.6,65.8 1424.9,65.8" fill="#5f93c4" />
<polygon points="1410.3,59.2 1425.1,55.3 1425.1,65.8 1410.3,69.8" fill="#9dcff4" /><polygon points="1410.3,59.2 1425.1,55.3 1425.1,56.4 1410.3,60.4" fill="#bfe1fa" />
<polygon points="1441.4,56.1 1443.1,56.9 1443.1,66 1441.4,66" fill="#5f93c4" />
<polygon points="1428.9,58.5 1441.6,55.5 1441.6,66 1428.9,69" fill="#99ccf2" /><polygon points="1428.9,58.5 1441.6,55.5 1441.6,56.6 1428.9,59.7" fill="#bfe1fa" />
<polygon points="1457.9,56.1 1459.6,56.9 1459.6,66 1457.9,66" fill="#5f93c4" />
<polygon points="1443.4,59 1458.1,55.5 1458.1,66 1443.4,69.5" fill="#98caf1" /><polygon points="1443.4,59 1458.1,55.5 1458.1,56.6 1443.4,60.2" fill="#bfe1fa" />
<polygon points="1474.5,56.1 1476.2,56.9 1476.2,66 1474.5,66" fill="#5f93c4" />
<polygon points="1459.9,59 1474.7,55.5 1474.7,66 1459.9,69.5" fill="#98caf1" /><polygon points="1459.9,59 1474.7,55.5 1474.7,56.6 1459.9,60.2" fill="#bfe1fa" />
<polygon points="1491,56.1 1492.7,56.9 1492.7,66 1491,66" fill="#5f93c4" />
<polygon points="1476.4,59 1491.2,55.5 1491.2,66 1476.4,69.5" fill="#98caf1" /><polygon points="1476.4,59 1491.2,55.5 1491.2,56.6 1476.4,60.2" fill="#bfe1fa" />
<polygon points="1507.5,56.1 1509.2,56.9 1509.2,66 1507.5,66" fill="#5f93c4" />
<polygon points="1493,59 1507.7,55.5 1507.7,66 1493,69.5" fill="#98caf1" /><polygon points="1493,59 1507.7,55.5 1507.7,56.6 1493,60.2" fill="#bfe1fa" />
<polygon points="1518,57.5 1519.7,58.3 1519.7,67.5 1518,67.5" fill="#5f93c4" />
<polygon points="1509.5,59 1518.2,56.9 1518.2,67.5 1509.5,69.5" fill="#9bcef3" /><polygon points="1509.5,59 1518.2,56.9 1518.2,58.1 1509.5,60.2" fill="#bfe1fa" />
<polygon points="1540.6,56.2 1542.3,57 1542.3,66.2 1540.6,66.2" fill="#5f93c4" />
<polygon points="1526,58.9 1540.8,55.6 1540.8,66.2 1526,69.4" fill="#9dcff4" /><polygon points="1526,58.9 1540.8,55.6 1540.8,56.8 1526,60" fill="#bfe1fa" />
<polygon points="1557.1,56.2 1558.8,57 1558.8,66.2 1557.1,66.2" fill="#5f93c4" />
<polygon points="1542.6,58.9 1557.3,55.6 1557.3,66.2 1542.6,69.4" fill="#98caf1" /><polygon points="1542.6,58.9 1557.3,55.6 1557.3,56.8 1542.6,60" fill="#bfe1fa" />
<polygon points="1573.7,56.2 1575.4,57 1575.4,66.2 1573.7,66.2" fill="#5f93c4" />
<polygon points="1559.1,58.9 1573.9,55.6 1573.9,66.2 1559.1,69.4" fill="#99ccf2" /><polygon points="1559.1,58.9 1573.9,55.6 1573.9,56.8 1559.1,60" fill="#bfe1fa" />
<polygon points="1590.2,56.2 1591.9,57 1591.9,66.2 1590.2,66.2" fill="#5f93c4" />
<polygon points="1575.6,58.9 1590.4,55.6 1590.4,66.2 1575.6,69.4" fill="#9dcff4" /><polygon points="1575.6,58.9 1590.4,55.6 1590.4,56.8 1575.6,60" fill="#bfe1fa" />
<polygon points="1606.7,56.2 1608.4,57 1608.4,66.2 1606.7,66.2" fill="#5f93c4" />
<polygon points="1592.2,58.9 1606.9,55.6 1606.9,66.2 1592.2,69.4" fill="#98caf1" /><polygon points="1592.2,58.9 1606.9,55.6 1606.9,56.8 1592.2,60" fill="#bfe1fa" />
<polygon points="1347.9,61.6 1349.6,62.4 1349.6,72.6 1347.9,72.6" fill="#5f93c4" />
<polygon points="1334.3,64.7 1348.1,61 1348.1,72.6 1334.3,76.3" fill="#9bcef3" /><polygon points="1334.3,64.7 1348.1,61 1348.1,62.2 1334.3,65.9" fill="#bfe1fa" />
<polygon points="1365,61.6 1366.7,62.4 1366.7,72.6 1365,72.6" fill="#5f93c4" />
<polygon points="1349.9,65.1 1365.2,61 1365.2,72.6 1349.9,76.7" fill="#9bcef3" /><polygon points="1349.9,65.1 1365.2,61 1365.2,62.2 1349.9,66.3" fill="#bfe1fa" />
<polygon points="1382.1,61.6 1383.8,62.4 1383.8,72.6 1382.1,72.6" fill="#5f93c4" />
<polygon points="1367,65.1 1382.3,61 1382.3,72.6 1367,76.7" fill="#9bcef3" /><polygon points="1367,65.1 1382.3,61 1382.3,62.2 1367,66.3" fill="#bfe1fa" />
<polygon points="1399.2,61.6 1400.9,62.4 1400.9,72.6 1399.2,72.6" fill="#5f93c4" />
<polygon points="1384.2,65.1 1399.4,61 1399.4,72.6 1384.2,76.7" fill="#99ccf2" /><polygon points="1384.2,65.1 1399.4,61 1399.4,62.2 1384.2,66.3" fill="#bfe1fa" />
<polygon points="1416.4,61.6 1418.1,62.4 1418.1,72.6 1416.4,72.6" fill="#5f93c4" />
<polygon points="1401.3,65.1 1416.6,61 1416.6,72.6 1401.3,76.7" fill="#95c8f0" /><polygon points="1401.3,65.1 1416.6,61 1416.6,62.2 1401.3,66.3" fill="#bfe1fa" />
<polygon points="1425.5,63.8 1427.2,64.6 1427.2,74.8 1425.5,74.8" fill="#5f93c4" />
<polygon points="1418.4,65.1 1425.7,63.2 1425.7,74.8 1418.4,76.7" fill="#9bcef3" /><polygon points="1418.4,65.1 1425.7,63.2 1425.7,64.4 1418.4,66.3" fill="#bfe1fa" />
<polygon points="1450.6,61.8 1452.3,62.6 1452.3,72.8 1450.6,72.8" fill="#5f93c4" />
<polygon points="1435.5,64.9 1450.8,61.2 1450.8,72.8 1435.5,76.5" fill="#99ccf2" /><polygon points="1435.5,64.9 1450.8,61.2 1450.8,62.4 1435.5,66.1" fill="#bfe1fa" />
<polygon points="1467.7,61.8 1469.4,62.6 1469.4,72.8 1467.7,72.8" fill="#5f93c4" />
<polygon points="1452.7,64.9 1467.9,61.2 1467.9,72.8 1452.7,76.5" fill="#95c8f0" /><polygon points="1452.7,64.9 1467.9,61.2 1467.9,62.4 1452.7,66.1" fill="#bfe1fa" />
<polygon points="1484.9,61.8 1486.6,62.6 1486.6,72.8 1484.9,72.8" fill="#5f93c4" />
<polygon points="1469.8,64.9 1485.1,61.2 1485.1,72.8 1469.8,76.5" fill="#96caf1" /><polygon points="1469.8,64.9 1485.1,61.2 1485.1,62.4 1469.8,66.1" fill="#bfe1fa" />
<polygon points="1502,61.8 1503.7,62.6 1503.7,72.8 1502,72.8" fill="#5f93c4" />
<polygon points="1486.9,64.9 1502.2,61.2 1502.2,72.8 1486.9,76.5" fill="#99ccf2" /><polygon points="1486.9,64.9 1502.2,61.2 1502.2,62.4 1486.9,66.1" fill="#bfe1fa" />
<polygon points="1519.1,61.8 1520.8,62.6 1520.8,72.8 1519.1,72.8" fill="#5f93c4" />
<polygon points="1504,64.9 1519.3,61.2 1519.3,72.8 1504,76.5" fill="#9bcef3" /><polygon points="1504,64.9 1519.3,61.2 1519.3,62.4 1504,66.1" fill="#bfe1fa" />
<polygon points="1536.3,62 1538,62.8 1538,73 1536.3,73" fill="#5f93c4" />
<polygon points="1521.2,64.8 1536.5,61.4 1536.5,73 1521.2,76.3" fill="#95c8f0" /><polygon points="1521.2,64.8 1536.5,61.4 1536.5,62.6 1521.2,65.9" fill="#bfe1fa" />
<polygon points="1553.4,62 1555.1,62.8 1555.1,73 1553.4,73" fill="#5f93c4" />
<polygon points="1538.3,64.8 1553.6,61.4 1553.6,73 1538.3,76.3" fill="#9bcef3" /><polygon points="1538.3,64.8 1553.6,61.4 1553.6,62.6 1538.3,65.9" fill="#bfe1fa" />
<polygon points="1570.5,62 1572.2,62.8 1572.2,73 1570.5,73" fill="#5f93c4" />
<polygon points="1555.4,64.8 1570.7,61.4 1570.7,73 1555.4,76.3" fill="#9bcef3" /><polygon points="1555.4,64.8 1570.7,61.4 1570.7,62.6 1555.4,65.9" fill="#bfe1fa" />
<polygon points="1587.6,62 1589.3,62.8 1589.3,73 1587.6,73" fill="#5f93c4" />
<polygon points="1572.5,64.8 1587.8,61.4 1587.8,73 1572.5,76.3" fill="#9bcef3" /><polygon points="1572.5,64.8 1587.8,61.4 1587.8,62.6 1572.5,65.9" fill="#bfe1fa" />
<polygon points="1604.8,62 1606.5,62.8 1606.5,73 1604.8,73" fill="#5f93c4" />
<polygon points="1589.7,64.8 1605,61.4 1605,73 1589.7,76.3" fill="#95c8f0" /><polygon points="1589.7,64.8 1605,61.4 1605,62.6 1589.7,65.9" fill="#bfe1fa" />
<polygon points="1612.4,64.1 1614.1,64.9 1614.1,75.1 1612.4,75.1" fill="#5f93c4" />
<polygon points="1606.8,64.8 1612.6,63.5 1612.6,75.1 1606.8,76.3" fill="#99ccf2" /><polygon points="1606.8,64.8 1612.6,63.5 1612.6,64.7 1606.8,65.9" fill="#bfe1fa" />
<polygon points="1336.1,67.8 1337.8,68.6 1337.8,80 1336.1,80" fill="#5f93c4" />
<polygon points="1331,68.7 1336.3,67.2 1336.3,80 1331,81.4" fill="#97caf1" /><polygon points="1331,68.7 1336.3,67.2 1336.3,68.4 1331,69.9" fill="#bfe1fa" />
<polygon points="1353.9,67.8 1355.6,68.6 1355.6,80 1353.9,80" fill="#5f93c4" />
<polygon points="1338.2,71.5 1354.1,67.2 1354.1,80 1338.2,84.2" fill="#97caf1" /><polygon points="1338.2,71.5 1354.1,67.2 1354.1,68.4 1338.2,72.7" fill="#bfe1fa" />
<polygon points="1371.7,67.8 1373.4,68.6 1373.4,80 1371.7,80" fill="#5f93c4" />
<polygon points="1356,71.5 1371.9,67.2 1371.9,80 1356,84.2" fill="#99ccf2" /><polygon points="1356,71.5 1371.9,67.2 1371.9,68.4 1356,72.7" fill="#bfe1fa" />
<polygon points="1389.4,67.8 1391.1,68.6 1391.1,80 1389.4,80" fill="#5f93c4" />
<polygon points="1373.8,71.5 1389.6,67.2 1389.6,80 1373.8,84.2" fill="#99ccf2" /><polygon points="1373.8,71.5 1389.6,67.2 1389.6,68.4 1373.8,72.7" fill="#bfe1fa" />
<polygon points="1407.2,67.8 1408.9,68.6 1408.9,80 1407.2,80" fill="#5f93c4" />
<polygon points="1391.5,71.5 1407.4,67.2 1407.4,80 1391.5,84.2" fill="#92c6ee" /><polygon points="1391.5,71.5 1407.4,67.2 1407.4,68.4 1391.5,72.7" fill="#bfe1fa" />
<polygon points="1425,67.8 1426.7,68.6 1426.7,80 1425,80" fill="#5f93c4" />
<polygon points="1409.3,71.5 1425.2,67.2 1425.2,80 1409.3,84.2" fill="#99ccf2" /><polygon points="1409.3,71.5 1425.2,67.2 1425.2,68.4 1409.3,72.7" fill="#bfe1fa" />
<polygon points="1442.8,68.1 1444.5,68.9 1444.5,80.2 1442.8,80.2" fill="#5f93c4" />
<polygon points="1427.1,71.3 1443,67.5 1443,80.2 1427.1,84" fill="#99ccf2" /><polygon points="1427.1,71.3 1443,67.5 1443,68.7 1427.1,72.5" fill="#bfe1fa" />
<polygon points="1460.5,68.1 1462.2,68.9 1462.2,80.2 1460.5,80.2" fill="#5f93c4" />
<polygon points="1444.9,71.3 1460.7,67.5 1460.7,80.2 1444.9,84" fill="#94c8f0" /><polygon points="1444.9,71.3 1460.7,67.5 1460.7,68.7 1444.9,72.5" fill="#bfe1fa" />
<polygon points="1478.3,68.1 1480,68.9 1480,80.2 1478.3,80.2" fill="#5f93c4" />
<polygon points="1462.6,71.3 1478.5,67.5 1478.5,80.2 1462.6,84" fill="#99ccf2" /><polygon points="1462.6,71.3 1478.5,67.5 1478.5,68.7 1462.6,72.5" fill="#bfe1fa" />
<polygon points="1496.1,68.1 1497.8,68.9 1497.8,80.2 1496.1,80.2" fill="#5f93c4" />
<polygon points="1480.4,71.3 1496.3,67.5 1496.3,80.2 1480.4,84" fill="#94c8f0" /><polygon points="1480.4,71.3 1496.3,67.5 1496.3,68.7 1480.4,72.5" fill="#bfe1fa" />
<polygon points="1513.8,68.1 1515.5,68.9 1515.5,80.2 1513.8,80.2" fill="#5f93c4" />
<polygon points="1498.2,71.3 1514,67.5 1514,80.2 1498.2,84" fill="#99ccf2" /><polygon points="1498.2,71.3 1514,67.5 1514,68.7 1498.2,72.5" fill="#bfe1fa" />
<polygon points="1531.6,68.2 1533.3,69 1533.3,80.4 1531.6,80.4" fill="#5f93c4" />
<polygon points="1522.2,69.7 1531.8,67.6 1531.8,80.4 1522.2,82.5" fill="#99ccf2" /><polygon points="1522.2,69.7 1531.8,67.6 1531.8,68.8 1522.2,70.9" fill="#bfe1fa" />
<polygon points="1549.4,68.2 1551.1,69 1551.1,80.4 1549.4,80.4" fill="#5f93c4" />
<polygon points="1533.7,71.1 1549.6,67.6 1549.6,80.4 1533.7,83.8" fill="#99ccf2" /><polygon points="1533.7,71.1 1549.6,67.6 1549.6,68.8 1533.7,72.3" fill="#bfe1fa" />
<polygon points="1567.1,68.2 1568.8,69 1568.8,80.4 1567.1,80.4" fill="#5f93c4" />
<polygon points="1551.5,71.1 1567.3,67.6 1567.3,80.4 1551.5,83.8" fill="#99ccf2" /><polygon points="1551.5,71.1 1567.3,67.6 1567.3,68.8 1551.5,72.3" fill="#bfe1fa" />
<polygon points="1584.9,68.2 1586.6,69 1586.6,80.4 1584.9,80.4" fill="#5f93c4" />
<polygon points="1569.2,71.1 1585.1,67.6 1585.1,80.4 1569.2,83.8" fill="#92c6ee" /><polygon points="1569.2,71.1 1585.1,67.6 1585.1,68.8 1569.2,72.3" fill="#bfe1fa" />
<polygon points="1602.7,68.2 1604.4,69 1604.4,80.4 1602.7,80.4" fill="#5f93c4" />
<polygon points="1587,71.1 1602.9,67.6 1602.9,80.4 1587,83.8" fill="#97caf1" /><polygon points="1587,71.1 1602.9,67.6 1602.9,68.8 1587,72.3" fill="#bfe1fa" />
<polygon points="1615.6,69.3 1617.3,70.1 1617.3,81.4 1615.6,81.4" fill="#5f93c4" />
<polygon points="1604.8,71.1 1615.8,68.7 1615.8,81.4 1604.8,83.8" fill="#97caf1" /><polygon points="1604.8,71.1 1615.8,68.7 1615.8,69.9 1604.8,72.3" fill="#bfe1fa" />
<polygon points="1342,74.4 1343.7,75.2 1343.7,87.8 1342,87.8" fill="#5f93c4" />
<polygon points="1327.5,77.8 1342.2,73.8 1342.2,87.8 1327.5,91.8" fill="#91c6ee" /><polygon points="1327.5,77.8 1342.2,73.8 1342.2,75.1 1327.5,79.1" fill="#bfe1fa" />
<polygon points="1360.4,74.4 1362.1,75.2 1362.1,87.8 1360.4,87.8" fill="#5f93c4" />
<polygon points="1344.2,78.3 1360.6,73.8 1360.6,87.8 1344.2,92.2" fill="#98cbf2" /><polygon points="1344.2,78.3 1360.6,73.8 1360.6,75.1 1344.2,79.5" fill="#bfe1fa" />
<polygon points="1378.9,74.4 1380.6,75.2 1380.6,87.8 1378.9,87.8" fill="#5f93c4" />
<polygon points="1362.6,78.3 1379.1,73.8 1379.1,87.8 1362.6,92.2" fill="#91c6ee" /><polygon points="1362.6,78.3 1379.1,73.8 1379.1,75.1 1362.6,79.5" fill="#bfe1fa" />
<polygon points="1397.4,74.4 1399.1,75.2 1399.1,87.8 1397.4,87.8" fill="#5f93c4" />
<polygon points="1381.1,78.3 1397.6,73.8 1397.6,87.8 1381.1,92.2" fill="#98cbf2" /><polygon points="1381.1,78.3 1397.6,73.8 1397.6,75.1 1381.1,79.5" fill="#bfe1fa" />
<polygon points="1415.8,74.4 1417.5,75.2 1417.5,87.8 1415.8,87.8" fill="#5f93c4" />
<polygon points="1399.5,78.3 1416,73.8 1416,87.8 1399.5,92.2" fill="#91c6ee" /><polygon points="1399.5,78.3 1416,73.8 1416,75.1 1399.5,79.5" fill="#bfe1fa" />
<polygon points="1434.3,74.7 1436,75.5 1436,88 1434.3,88" fill="#5f93c4" />
<polygon points="1426.1,76.1 1434.5,74.1 1434.5,88 1426.1,90" fill="#98cbf2" /><polygon points="1426.1,76.1 1434.5,74.1 1434.5,75.3 1426.1,77.3" fill="#bfe1fa" />
<polygon points="1452.7,74.7 1454.4,75.5 1454.4,88 1452.7,88" fill="#5f93c4" />
<polygon points="1436.4,78 1452.9,74.1 1452.9,88 1436.4,92" fill="#91c6ee" /><polygon points="1436.4,78 1452.9,74.1 1452.9,75.3 1436.4,79.3" fill="#bfe1fa" />
<polygon points="1471.2,74.7 1472.9,75.5 1472.9,88 1471.2,88" fill="#5f93c4" />
<polygon points="1454.9,78 1471.4,74.1 1471.4,88 1454.9,92" fill="#8fc4ed" /><polygon points="1454.9,78 1471.4,74.1 1471.4,75.3 1454.9,79.3" fill="#bfe1fa" />
<polygon points="1489.6,74.7 1491.3,75.5 1491.3,88 1489.6,88" fill="#5f93c4" />
<polygon points="1473.3,78 1489.8,74.1 1489.8,88 1473.3,92" fill="#94c8f0" /><polygon points="1473.3,78 1489.8,74.1 1489.8,75.3 1473.3,79.3" fill="#bfe1fa" />
<polygon points="1508.1,74.7 1509.8,75.5 1509.8,88 1508.1,88" fill="#5f93c4" />
<polygon points="1491.8,78 1508.3,74.1 1508.3,88 1491.8,92" fill="#94c8f0" /><polygon points="1491.8,78 1508.3,74.1 1508.3,75.3 1491.8,79.3" fill="#bfe1fa" />
<polygon points="1520.5,76.1 1522.2,76.9 1522.2,89.5 1520.5,89.5" fill="#5f93c4" />
<polygon points="1510.3,78 1520.7,75.5 1520.7,89.5 1510.3,92" fill="#98cbf2" /><polygon points="1510.3,78 1520.7,75.5 1520.7,76.8 1510.3,79.3" fill="#bfe1fa" />
<polygon points="1545,74.9 1546.7,75.7 1546.7,88.2 1545,88.2" fill="#5f93c4" />
<polygon points="1528.7,77.9 1545.2,74.3 1545.2,88.2 1528.7,91.8" fill="#98cbf2" /><polygon points="1528.7,77.9 1545.2,74.3 1545.2,75.5 1528.7,79.1" fill="#bfe1fa" />
<polygon points="1563.4,74.9 1565.1,75.7 1565.1,88.2 1563.4,88.2" fill="#5f93c4" />
<polygon points="1547.2,77.9 1563.6,74.3 1563.6,88.2 1547.2,91.8" fill="#91c6ee" /><polygon points="1547.2,77.9 1563.6,74.3 1563.6,75.5 1547.2,79.1" fill="#bfe1fa" />
<polygon points="1581.9,74.9 1583.6,75.7 1583.6,88.2 1581.9,88.2" fill="#5f93c4" />
<polygon points="1565.6,77.9 1582.1,74.3 1582.1,88.2 1565.6,91.8" fill="#8fc4ed" /><polygon points="1565.6,77.9 1582.1,74.3 1582.1,75.5 1565.6,79.1" fill="#bfe1fa" />
<polygon points="1600.4,74.9 1602.1,75.7 1602.1,88.2 1600.4,88.2" fill="#5f93c4" />
<polygon points="1584.1,77.9 1600.6,74.3 1600.6,88.2 1584.1,91.8" fill="#91c6ee" /><polygon points="1584.1,77.9 1600.6,74.3 1600.6,75.5 1584.1,79.1" fill="#bfe1fa" />
<polygon points="1618.8,74.9 1620.5,75.7 1620.5,88.2 1618.8,88.2" fill="#5f93c4" />
<polygon points="1602.5,77.9 1619,74.3 1619,88.2 1602.5,91.8" fill="#94c8f0" /><polygon points="1602.5,77.9 1619,74.3 1619,75.5 1602.5,79.1" fill="#bfe1fa" />
<polygon points="1329.2,81.4 1330.9,82.2 1330.9,96.1 1329.2,96.1" fill="#5f93c4" />
<polygon points="1323.7,82.4 1329.4,80.8 1329.4,96.1 1323.7,97.6" fill="#96c9f1" /><polygon points="1323.7,82.4 1329.4,80.8 1329.4,82.1 1323.7,83.7" fill="#bfe1fa" />
<polygon points="1348.4,81.4 1350.1,82.2 1350.1,96.1 1348.4,96.1" fill="#5f93c4" />
<polygon points="1331.4,85.5 1348.6,80.8 1348.6,96.1 1331.4,100.7" fill="#8fc4ed" /><polygon points="1331.4,85.5 1348.6,80.8 1348.6,82.1 1331.4,86.8" fill="#bfe1fa" />
<polygon points="1367.5,81.4 1369.2,82.2 1369.2,96.1 1367.5,96.1" fill="#5f93c4" />
<polygon points="1350.6,85.5 1367.7,80.8 1367.7,96.1 1350.6,100.7" fill="#8cc1eb" /><polygon points="1350.6,85.5 1367.7,80.8 1367.7,82.1 1350.6,86.8" fill="#bfe1fa" />
<polygon points="1386.7,81.4 1388.4,82.2 1388.4,96.1 1386.7,96.1" fill="#5f93c4" />
<polygon points="1369.8,85.5 1386.9,80.8 1386.9,96.1 1369.8,100.7" fill="#96c9f1" /><polygon points="1369.8,85.5 1386.9,80.8 1386.9,82.1 1369.8,86.8" fill="#bfe1fa" />
<polygon points="1405.9,81.4 1407.6,82.2 1407.6,96.1 1405.9,96.1" fill="#5f93c4" />
<polygon points="1389,85.5 1406.1,80.8 1406.1,96.1 1389,100.7" fill="#8fc4ed" /><polygon points="1389,85.5 1406.1,80.8 1406.1,82.1 1389,86.8" fill="#bfe1fa" />
<polygon points="1422.4,82.2 1424.1,83 1424.1,96.8 1422.4,96.8" fill="#5f93c4" />
<polygon points="1408.2,85.5 1422.6,81.6 1422.6,96.8 1408.2,100.7" fill="#92c7ef" /><polygon points="1408.2,85.5 1422.6,81.6 1422.6,82.9 1408.2,86.8" fill="#bfe1fa" />
<polygon points="1444.3,81.7 1446,82.5 1446,96.4 1444.3,96.4" fill="#5f93c4" />
<polygon points="1427.3,85.2 1444.5,81.1 1444.5,96.4 1427.3,100.5" fill="#92c7ef" /><polygon points="1427.3,85.2 1444.5,81.1 1444.5,82.4 1427.3,86.5" fill="#bfe1fa" />
<polygon points="1463.4,81.7 1465.1,82.5 1465.1,96.4 1463.4,96.4" fill="#5f93c4" />
<polygon points="1446.5,85.2 1463.6,81.1 1463.6,96.4 1446.5,100.5" fill="#8fc4ed" /><polygon points="1446.5,85.2 1463.6,81.1 1463.6,82.4 1446.5,86.5" fill="#bfe1fa" />
<polygon points="1482.6,81.7 1484.3,82.5 1484.3,96.4 1482.6,96.4" fill="#5f93c4" />
<polygon points="1465.7,85.2 1482.8,81.1 1482.8,96.4 1465.7,100.5" fill="#96c9f1" /><polygon points="1465.7,85.2 1482.8,81.1 1482.8,82.4 1465.7,86.5" fill="#bfe1fa" />
<polygon points="1501.8,81.7 1503.5,82.5 1503.5,96.4 1501.8,96.4" fill="#5f93c4" />
<polygon points="1484.9,85.2 1502,81.1 1502,96.4 1484.9,100.5" fill="#8fc4ed" /><polygon points="1484.9,85.2 1502,81.1 1502,82.4 1484.9,86.5" fill="#bfe1fa" />
<polygon points="1521,81.7 1522.7,82.5 1522.7,96.4 1521,96.4" fill="#5f93c4" />
<polygon points="1504.1,85.2 1521.2,81.1 1521.2,96.4 1504.1,100.5" fill="#96c9f1" /><polygon points="1504.1,85.2 1521.2,81.1 1521.2,82.4 1504.1,86.5" fill="#bfe1fa" />
<polygon points="1540.2,81.9 1541.9,82.7 1541.9,96.5 1540.2,96.5" fill="#5f93c4" />
<polygon points="1523.2,85 1540.4,81.3 1540.4,96.5 1523.2,100.3" fill="#96c9f1" /><polygon points="1523.2,85 1540.4,81.3 1540.4,82.6 1523.2,86.3" fill="#bfe1fa" />
<polygon points="1559.3,81.9 1561,82.7 1561,96.5 1559.3,96.5" fill="#5f93c4" />
<polygon points="1542.4,85 1559.5,81.3 1559.5,96.5 1542.4,100.3" fill="#92c7ef" /><polygon points="1542.4,85 1559.5,81.3 1559.5,82.6 1542.4,86.3" fill="#bfe1fa" />
<polygon points="1578.5,81.9 1580.2,82.7 1580.2,96.5 1578.5,96.5" fill="#5f93c4" />
<polygon points="1561.6,85 1578.7,81.3 1578.7,96.5 1561.6,100.3" fill="#96c9f1" /><polygon points="1561.6,85 1578.7,81.3 1578.7,82.6 1561.6,86.3" fill="#bfe1fa" />
<polygon points="1597.7,81.9 1599.4,82.7 1599.4,96.5 1597.7,96.5" fill="#5f93c4" />
<polygon points="1580.8,85 1597.9,81.3 1597.9,96.5 1580.8,100.3" fill="#8fc4ed" /><polygon points="1580.8,85 1597.9,81.3 1597.9,82.6 1580.8,86.3" fill="#bfe1fa" />
<polygon points="1616.9,81.9 1618.6,82.7 1618.6,96.5 1616.9,96.5" fill="#5f93c4" />
<polygon points="1600,85 1617.1,81.3 1617.1,96.5 1600,100.3" fill="#8cc1eb" /><polygon points="1600,85 1617.1,81.3 1617.1,82.6 1600,86.3" fill="#bfe1fa" />
<polygon points="1335.4,88.8 1337.1,89.6 1337.1,104.8 1335.4,104.8" fill="#5f93c4" />
<polygon points="1319.8,92.5 1335.6,88.2 1335.6,104.8 1319.8,109.1" fill="#94c8f0" /><polygon points="1319.8,92.5 1335.6,88.2 1335.6,89.6 1319.8,93.8" fill="#bfe1fa" />
<polygon points="1355.3,88.8 1357,89.6 1357,104.8 1355.3,104.8" fill="#5f93c4" />
<polygon points="1337.7,93 1355.5,88.2 1355.5,104.8 1337.7,109.6" fill="#94c8f0" /><polygon points="1337.7,93 1355.5,88.2 1355.5,89.6 1337.7,94.4" fill="#bfe1fa" />
<polygon points="1375.3,88.8 1377,89.6 1377,104.8 1375.3,104.8" fill="#5f93c4" />
<polygon points="1357.7,93 1375.5,88.2 1375.5,104.8 1357.7,109.6" fill="#89bfea" /><polygon points="1357.7,93 1375.5,88.2 1375.5,89.6 1357.7,94.4" fill="#bfe1fa" />
<polygon points="1395.2,88.8 1396.9,89.6 1396.9,104.8 1395.2,104.8" fill="#5f93c4" />
<polygon points="1377.6,93 1395.4,88.2 1395.4,104.8 1377.6,109.6" fill="#94c8f0" /><polygon points="1377.6,93 1395.4,88.2 1395.4,89.6 1377.6,94.4" fill="#bfe1fa" />
<polygon points="1415.2,88.8 1416.9,89.6 1416.9,104.8 1415.2,104.8" fill="#5f93c4" />
<polygon points="1397.6,93 1415.4,88.2 1415.4,104.8 1397.6,109.6" fill="#89bfea" /><polygon points="1397.6,93 1415.4,88.2 1415.4,89.6 1397.6,94.4" fill="#bfe1fa" />
<polygon points="1435.1,89.1 1436.8,89.9 1436.8,105.1 1435.1,105.1" fill="#5f93c4" />
<polygon points="1423.9,91.2 1435.3,88.5 1435.3,105.1 1423.9,107.8" fill="#94c8f0" /><polygon points="1423.9,91.2 1435.3,88.5 1435.3,89.8 1423.9,92.6" fill="#bfe1fa" />
<polygon points="1455.1,89.1 1456.8,89.9 1456.8,105.1 1455.1,105.1" fill="#5f93c4" />
<polygon points="1437.5,92.7 1455.3,88.5 1455.3,105.1 1437.5,109.4" fill="#89bfea" /><polygon points="1437.5,92.7 1455.3,88.5 1455.3,89.8 1437.5,94.1" fill="#bfe1fa" />
<polygon points="1475,89.1 1476.7,89.9 1476.7,105.1 1475,105.1" fill="#5f93c4" />
<polygon points="1457.4,92.7 1475.2,88.5 1475.2,105.1 1457.4,109.4" fill="#89bfea" /><polygon points="1457.4,92.7 1475.2,88.5 1475.2,89.8 1457.4,94.1" fill="#bfe1fa" />
<polygon points="1494.9,89.1 1496.6,89.9 1496.6,105.1 1494.9,105.1" fill="#5f93c4" />
<polygon points="1477.3,92.7 1495.1,88.5 1495.1,105.1 1477.3,109.4" fill="#90c5ee" /><polygon points="1477.3,92.7 1495.1,88.5 1495.1,89.8 1477.3,94.1" fill="#bfe1fa" />
<polygon points="1514.9,89.1 1516.6,89.9 1516.6,105.1 1514.9,105.1" fill="#5f93c4" />
<polygon points="1497.3,92.7 1515.1,88.5 1515.1,105.1 1497.3,109.4" fill="#89bfea" /><polygon points="1497.3,92.7 1515.1,88.5 1515.1,89.8 1497.3,94.1" fill="#bfe1fa" />
<polygon points="1534.8,89.3 1536.5,90.1 1536.5,105.3 1534.8,105.3" fill="#5f93c4" />
<polygon points="1525.1,90.8 1535,88.7 1535,105.3 1525.1,107.4" fill="#8cc2ec" /><polygon points="1525.1,90.8 1535,88.7 1535,90 1525.1,92.2" fill="#bfe1fa" />
<polygon points="1554.8,89.3 1556.5,90.1 1556.5,105.3 1554.8,105.3" fill="#5f93c4" />
<polygon points="1537.2,92.6 1555,88.7 1555,105.3 1537.2,109.2" fill="#8cc2ec" /><polygon points="1537.2,92.6 1555,88.7 1555,90 1537.2,93.9" fill="#bfe1fa" />
<polygon points="1574.7,89.3 1576.4,90.1 1576.4,105.3 1574.7,105.3" fill="#5f93c4" />
<polygon points="1557.1,92.6 1574.9,88.7 1574.9,105.3 1557.1,109.2" fill="#90c5ee" /><polygon points="1557.1,92.6 1574.9,88.7 1574.9,90 1557.1,93.9" fill="#bfe1fa" />
<polygon points="1594.7,89.3 1596.4,90.1 1596.4,105.3 1594.7,105.3" fill="#5f93c4" />
<polygon points="1577,92.6 1594.9,88.7 1594.9,105.3 1577,109.2" fill="#89bfea" /><polygon points="1577,92.6 1594.9,88.7 1594.9,90 1577,93.9" fill="#bfe1fa" />
<polygon points="1614.6,89.3 1616.3,90.1 1616.3,105.3 1614.6,105.3" fill="#5f93c4" />
<polygon points="1597,92.6 1614.8,88.7 1614.8,105.3 1597,109.2" fill="#89bfea" /><polygon points="1597,92.6 1614.8,88.7 1614.8,90 1597,93.9" fill="#bfe1fa" />
<polygon points="1626.2,91.1 1627.9,91.9 1627.9,107.1 1626.2,107.1" fill="#5f93c4" />
<polygon points="1616.9,92.6 1626.4,90.5 1626.4,107.1 1616.9,109.2" fill="#8cc2ec" /><polygon points="1616.9,92.6 1626.4,90.5 1626.4,91.8 1616.9,93.9" fill="#bfe1fa" />
<polygon points="1321.5,96.5 1323.2,97.3 1323.2,113.9 1321.5,113.9" fill="#5f93c4" />
<polygon points="1315.7,97.5 1321.7,95.9 1321.7,113.9 1315.7,115.6" fill="#90c5ee" /><polygon points="1315.7,97.5 1321.7,95.9 1321.7,97.3 1315.7,98.9" fill="#bfe1fa" />
<polygon points="1342.2,96.5 1343.9,97.3 1343.9,113.9 1342.2,113.9" fill="#5f93c4" />
<polygon points="1323.9,100.9 1342.4,95.9 1342.4,113.9 1323.9,118.9" fill="#89bfea" /><polygon points="1323.9,100.9 1342.4,95.9 1342.4,97.3 1323.9,102.3" fill="#bfe1fa" />
<polygon points="1363,96.5 1364.7,97.3 1364.7,113.9 1363,113.9" fill="#5f93c4" />
<polygon points="1344.7,100.9 1363.2,95.9 1363.2,113.9 1344.7,118.9" fill="#94c8f0" /><polygon points="1344.7,100.9 1363.2,95.9 1363.2,97.3 1344.7,102.3" fill="#bfe1fa" />
<polygon points="1383.7,96.5 1385.4,97.3 1385.4,113.9 1383.7,113.9" fill="#5f93c4" />
<polygon points="1365.4,100.9 1383.9,95.9 1383.9,113.9 1365.4,118.9" fill="#94c8f0" /><polygon points="1365.4,100.9 1383.9,95.9 1383.9,97.3 1365.4,102.3" fill="#bfe1fa" />
<polygon points="1404.5,96.5 1406.2,97.3 1406.2,113.9 1404.5,113.9" fill="#5f93c4" />
<polygon points="1386.1,100.9 1404.7,95.9 1404.7,113.9 1386.1,118.9" fill="#8cc2ec" /><polygon points="1386.1,100.9 1404.7,95.9 1404.7,97.3 1386.1,102.3" fill="#bfe1fa" />
<polygon points="1420.2,97.9 1421.9,98.7 1421.9,115.3 1420.2,115.3" fill="#5f93c4" />
<polygon points="1406.9,100.9 1420.4,97.3 1420.4,115.3 1406.9,118.9" fill="#90c5ee" /><polygon points="1406.9,100.9 1420.4,97.3 1420.4,98.7 1406.9,102.3" fill="#bfe1fa" />
<polygon points="1445.9,96.8 1447.6,97.6 1447.6,114.2 1445.9,114.2" fill="#5f93c4" />
<polygon points="1427.6,100.6 1446.1,96.2 1446.1,114.2 1427.6,118.7" fill="#94c8f0" /><polygon points="1427.6,100.6 1446.1,96.2 1446.1,97.6 1427.6,102" fill="#bfe1fa" />
<polygon points="1466.7,96.8 1468.4,97.6 1468.4,114.2 1466.7,114.2" fill="#5f93c4" />
<polygon points="1448.4,100.6 1466.9,96.2 1466.9,114.2 1448.4,118.7" fill="#90c5ee" /><polygon points="1448.4,100.6 1466.9,96.2 1466.9,97.6 1448.4,102" fill="#bfe1fa" />
<polygon points="1487.4,96.8 1489.1,97.6 1489.1,114.2 1487.4,114.2" fill="#5f93c4" />
<polygon points="1469.1,100.6 1487.6,96.2 1487.6,114.2 1469.1,118.7" fill="#8cc2ec" /><polygon points="1469.1,100.6 1487.6,96.2 1487.6,97.6 1469.1,102" fill="#bfe1fa" />
<polygon points="1508.2,96.8 1509.9,97.6 1509.9,114.2 1508.2,114.2" fill="#5f93c4" />
<polygon points="1489.8,100.6 1508.4,96.2 1508.4,114.2 1489.8,118.7" fill="#90c5ee" /><polygon points="1489.8,100.6 1508.4,96.2 1508.4,97.6 1489.8,102" fill="#bfe1fa" />
<polygon points="1523.6,98.1 1525.3,98.9 1525.3,115.5 1523.6,115.5" fill="#5f93c4" />
<polygon points="1510.6,100.6 1523.8,97.5 1523.8,115.5 1510.6,118.7" fill="#90c5ee" /><polygon points="1510.6,100.6 1523.8,97.5 1523.8,98.9 1510.6,102" fill="#bfe1fa" />
<polygon points="1549.6,97 1551.3,97.8 1551.3,114.4 1549.6,114.4" fill="#5f93c4" />
<polygon points="1531.3,100.4 1549.8,96.4 1549.8,114.4 1531.3,118.5" fill="#8cc2ec" /><polygon points="1531.3,100.4 1549.8,96.4 1549.8,97.8 1531.3,101.8" fill="#bfe1fa" />
<polygon points="1570.4,97 1572.1,97.8 1572.1,114.4 1570.4,114.4" fill="#5f93c4" />
<polygon points="1552.1,100.4 1570.6,96.4 1570.6,114.4 1552.1,118.5" fill="#89bfea" /><polygon points="1552.1,100.4 1570.6,96.4 1570.6,97.8 1552.1,101.8" fill="#bfe1fa" />
<polygon points="1591.1,97 1592.8,97.8 1592.8,114.4 1591.1,114.4" fill="#5f93c4" />
<polygon points="1572.8,100.4 1591.3,96.4 1591.3,114.4 1572.8,118.5" fill="#90c5ee" /><polygon points="1572.8,100.4 1591.3,96.4 1591.3,97.8 1572.8,101.8" fill="#bfe1fa" />
<polygon points="1611.9,97 1613.6,97.8 1613.6,114.4 1611.9,114.4" fill="#5f93c4" />
<polygon points="1593.5,100.4 1612.1,96.4 1612.1,114.4 1593.5,118.5" fill="#90c5ee" /><polygon points="1593.5,100.4 1612.1,96.4 1612.1,97.8 1593.5,101.8" fill="#bfe1fa" />
<polygon points="1630.1,97.5 1631.8,98.3 1631.8,115 1630.1,115" fill="#5f93c4" />
<polygon points="1614.3,100.4 1630.3,96.9 1630.3,115 1614.3,118.5" fill="#89bfea" /><polygon points="1614.3,100.4 1630.3,96.9 1630.3,98.3 1614.3,101.8" fill="#bfe1fa" />
<polygon points="1328.2,104.5 1329.9,105.3 1329.9,123.4 1328.2,123.4" fill="#5f93c4" />
<polygon points="1311.4,108.5 1328.4,103.9 1328.4,123.4 1311.4,128" fill="#90c5ee" /><polygon points="1311.4,108.5 1328.4,103.9 1328.4,105.4 1311.4,110" fill="#bfe1fa" />
<polygon points="1349.8,104.5 1351.5,105.3 1351.5,123.4 1349.8,123.4" fill="#5f93c4" />
<polygon points="1330.7,109.1 1350,103.9 1350,123.4 1330.7,128.6" fill="#8cc2ec" /><polygon points="1330.7,109.1 1350,103.9 1350,105.4 1330.7,110.6" fill="#bfe1fa" />
<polygon points="1371.3,104.5 1373,105.3 1373,123.4 1371.3,123.4" fill="#5f93c4" />
<polygon points="1352.3,109.1 1371.5,103.9 1371.5,123.4 1352.3,128.6" fill="#94c8f0" /><polygon points="1352.3,109.1 1371.5,103.9 1371.5,105.4 1352.3,110.6" fill="#bfe1fa" />
<polygon points="1392.9,104.5 1394.6,105.3 1394.6,123.4 1392.9,123.4" fill="#5f93c4" />
<polygon points="1373.9,109.1 1393.1,103.9 1393.1,123.4 1373.9,128.6" fill="#8cc2ec" /><polygon points="1373.9,109.1 1393.1,103.9 1393.1,105.4 1373.9,110.6" fill="#bfe1fa" />
<polygon points="1414.5,104.5 1416.2,105.3 1416.2,123.4 1414.5,123.4" fill="#5f93c4" />
<polygon points="1395.4,109.1 1414.7,103.9 1414.7,123.4 1395.4,128.6" fill="#90c5ee" /><polygon points="1395.4,109.1 1414.7,103.9 1414.7,105.4 1395.4,110.6" fill="#bfe1fa" />
<polygon points="1436.1,104.8 1437.8,105.6 1437.8,123.7 1436.1,123.7" fill="#5f93c4" />
<polygon points="1421.5,107.8 1436.3,104.2 1436.3,123.7 1421.5,127.3" fill="#89bfea" /><polygon points="1421.5,107.8 1436.3,104.2 1436.3,105.7 1421.5,109.2" fill="#bfe1fa" />
<polygon points="1457.6,104.8 1459.3,105.6 1459.3,123.7 1457.6,123.7" fill="#5f93c4" />
<polygon points="1438.6,108.8 1457.8,104.2 1457.8,123.7 1438.6,128.4" fill="#90c5ee" /><polygon points="1438.6,108.8 1457.8,104.2 1457.8,105.7 1438.6,110.3" fill="#bfe1fa" />
<polygon points="1479.2,104.8 1480.9,105.6 1480.9,123.7 1479.2,123.7" fill="#5f93c4" />
<polygon points="1460.1,108.8 1479.4,104.2 1479.4,123.7 1460.1,128.4" fill="#90c5ee" /><polygon points="1460.1,108.8 1479.4,104.2 1479.4,105.7 1460.1,110.3" fill="#bfe1fa" />
<polygon points="1500.8,104.8 1502.5,105.6 1502.5,123.7 1500.8,123.7" fill="#5f93c4" />
<polygon points="1481.7,108.8 1501,104.2 1501,123.7 1481.7,128.4" fill="#94c8f0" /><polygon points="1481.7,108.8 1501,104.2 1501,105.7 1481.7,110.3" fill="#bfe1fa" />
<polygon points="1522.3,104.8 1524,105.6 1524,123.7 1522.3,123.7" fill="#5f93c4" />
<polygon points="1503.3,108.8 1522.5,104.2 1522.5,123.7 1503.3,128.4" fill="#8cc2ec" /><polygon points="1503.3,108.8 1522.5,104.2 1522.5,105.7 1503.3,110.3" fill="#bfe1fa" />
<polygon points="1543.9,105 1545.6,105.8 1545.6,123.9 1543.9,123.9" fill="#5f93c4" />
<polygon points="1527.3,108.1 1544.1,104.4 1544.1,123.9 1527.3,127.6" fill="#94c8f0" /><polygon points="1527.3,108.1 1544.1,104.4 1544.1,105.9 1527.3,109.6" fill="#bfe1fa" />
<polygon points="1565.5,105 1567.2,105.8 1567.2,123.9 1565.5,123.9" fill="#5f93c4" />
<polygon points="1546.4,108.6 1565.7,104.4 1565.7,123.9 1546.4,128.2" fill="#89bfea" /><polygon points="1546.4,108.6 1565.7,104.4 1565.7,105.9 1546.4,110.1" fill="#bfe1fa" />
<polygon points="1587.1,105 1588.8,105.8 1588.8,123.9 1587.1,123.9" fill="#5f93c4" />
<polygon points="1568,108.6 1587.3,104.4 1587.3,123.9 1568,128.2" fill="#90c5ee" /><polygon points="1568,108.6 1587.3,104.4 1587.3,105.9 1568,110.1" fill="#bfe1fa" />
<polygon points="1608.6,105 1610.3,105.8 1610.3,123.9 1608.6,123.9" fill="#5f93c4" />
<polygon points="1589.6,108.6 1608.8,104.4 1608.8,123.9 1589.6,128.2" fill="#94c8f0" /><polygon points="1589.6,108.6 1608.8,104.4 1608.8,105.9 1589.6,110.1" fill="#bfe1fa" />
<polygon points="1630.2,105 1631.9,105.8 1631.9,123.9 1630.2,123.9" fill="#5f93c4" />
<polygon points="1611.1,108.6 1630.4,104.4 1630.4,123.9 1611.1,128.2" fill="#8cc2ec" /><polygon points="1611.1,108.6 1630.4,104.4 1630.4,105.9 1611.1,110.1" fill="#bfe1fa" />
<polygon points="1313.2,112.9 1314.9,113.7 1314.9,133.3 1313.2,133.3" fill="#5f93c4" />
<polygon points="1306.9,114 1313.4,112.3 1313.4,133.3 1306.9,135.1" fill="#8cc2ec" /><polygon points="1306.9,114 1313.4,112.3 1313.4,113.8 1306.9,115.5" fill="#bfe1fa" />
<polygon points="1335.6,112.9 1337.3,113.7 1337.3,133.3 1335.6,133.3" fill="#5f93c4" />
<polygon points="1315.8,117.7 1335.8,112.3 1335.8,133.3 1315.8,138.7" fill="#90c5ee" /><polygon points="1315.8,117.7 1335.8,112.3 1335.8,113.8 1315.8,119.2" fill="#bfe1fa" />
<polygon points="1358,112.9 1359.7,113.7 1359.7,133.3 1358,133.3" fill="#5f93c4" />
<polygon points="1338.2,117.7 1358.2,112.3 1358.2,133.3 1338.2,138.7" fill="#90c5ee" /><polygon points="1338.2,117.7 1358.2,112.3 1358.2,113.8 1338.2,119.2" fill="#bfe1fa" />
<polygon points="1380.5,112.9 1382.2,113.7 1382.2,133.3 1380.5,133.3" fill="#5f93c4" />
<polygon points="1360.6,117.7 1380.7,112.3 1380.7,133.3 1360.6,138.7" fill="#8cc2ec" /><polygon points="1360.6,117.7 1380.7,112.3 1380.7,113.8 1360.6,119.2" fill="#bfe1fa" />
<polygon points="1402.9,112.9 1404.6,113.7 1404.6,133.3 1402.9,133.3" fill="#5f93c4" />
<polygon points="1383.1,117.7 1403.1,112.3 1403.1,133.3 1383.1,138.7" fill="#8cc2ec" /><polygon points="1383.1,117.7 1403.1,112.3 1403.1,113.8 1383.1,119.2" fill="#bfe1fa" />
<polygon points="1417.7,114.9 1419.4,115.7 1419.4,135.4 1417.7,135.4" fill="#5f93c4" />
<polygon points="1405.5,117.7 1417.9,114.3 1417.9,135.4 1405.5,138.7" fill="#94c8f0" /><polygon points="1405.5,117.7 1417.9,114.3 1417.9,115.8 1405.5,119.2" fill="#bfe1fa" />
<polygon points="1447.8,113.2 1449.5,114 1449.5,133.6 1447.8,133.6" fill="#5f93c4" />
<polygon points="1427.9,117.4 1448,112.6 1448,133.6 1427.9,138.4" fill="#8cc2ec" /><polygon points="1427.9,117.4 1448,112.6 1448,114.1 1427.9,118.9" fill="#bfe1fa" />
<polygon points="1470.2,113.2 1471.9,114 1471.9,133.6 1470.2,133.6" fill="#5f93c4" />
<polygon points="1450.4,117.4 1470.4,112.6 1470.4,133.6 1450.4,138.4" fill="#90c5ee" /><polygon points="1450.4,117.4 1470.4,112.6 1470.4,114.1 1450.4,118.9" fill="#bfe1fa" />
<polygon points="1492.6,113.2 1494.3,114 1494.3,133.6 1492.6,133.6" fill="#5f93c4" />
<polygon points="1472.8,117.4 1492.8,112.6 1492.8,133.6 1472.8,138.4" fill="#89bfea" /><polygon points="1472.8,117.4 1492.8,112.6 1492.8,114.1 1472.8,118.9" fill="#bfe1fa" />
<polygon points="1515.1,113.2 1516.8,114 1516.8,133.6 1515.1,133.6" fill="#5f93c4" />
<polygon points="1495.2,117.4 1515.3,112.6 1515.3,133.6 1495.2,138.4" fill="#89bfea" /><polygon points="1495.2,117.4 1515.3,112.6 1515.3,114.1 1495.2,118.9" fill="#bfe1fa" />
<polygon points="1537.5,113.4 1539.2,114.2 1539.2,133.8 1537.5,133.8" fill="#5f93c4" />
<polygon points="1528.4,114.8 1537.7,112.8 1537.7,133.8 1528.4,135.9" fill="#90c5ee" /><polygon points="1528.4,114.8 1537.7,112.8 1537.7,114.3 1528.4,116.3" fill="#bfe1fa" />
<polygon points="1559.9,113.4 1561.6,114.2 1561.6,133.8 1559.9,133.8" fill="#5f93c4" />
<polygon points="1540.1,117.2 1560.1,112.8 1560.1,133.8 1540.1,138.2" fill="#94c8f0" /><polygon points="1540.1,117.2 1560.1,112.8 1560.1,114.3 1540.1,118.7" fill="#bfe1fa" />
<polygon points="1582.4,113.4 1584.1,114.2 1584.1,133.8 1582.4,133.8" fill="#5f93c4" />
<polygon points="1562.5,117.2 1582.6,112.8 1582.6,133.8 1562.5,138.2" fill="#8cc2ec" /><polygon points="1562.5,117.2 1582.6,112.8 1582.6,114.3 1562.5,118.7" fill="#bfe1fa" />
<polygon points="1604.8,113.4 1606.5,114.2 1606.5,133.8 1604.8,133.8" fill="#5f93c4" />
<polygon points="1585,117.2 1605,112.8 1605,133.8 1585,138.2" fill="#94c8f0" /><polygon points="1585,117.2 1605,112.8 1605,114.3 1585,118.7" fill="#bfe1fa" />
<polygon points="1627.2,113.4 1628.9,114.2 1628.9,133.8 1627.2,133.8" fill="#5f93c4" />
<polygon points="1607.4,117.2 1627.4,112.8 1627.4,133.8 1607.4,138.2" fill="#89bfea" /><polygon points="1607.4,117.2 1627.4,112.8 1627.4,114.3 1607.4,118.7" fill="#bfe1fa" />
<polygon points="1638.4,115.8 1640.1,116.6 1640.1,136.3 1638.4,136.3" fill="#5f93c4" />
<polygon points="1629.8,117.2 1638.6,115.2 1638.6,136.3 1629.8,138.2" fill="#90c5ee" /><polygon points="1629.8,117.2 1638.6,115.2 1638.6,116.8 1629.8,118.7" fill="#bfe1fa" />
<polygon points="1320.4,121.5 1322.1,122.3 1322.1,143.5 1320.4,143.5" fill="#5f93c4" />
<polygon points="1302.3,125.8 1320.6,120.9 1320.6,143.5 1302.3,148.5" fill="#89bfea" /><polygon points="1302.3,125.8 1320.6,120.9 1320.6,122.5 1302.3,127.4" fill="#bfe1fa" />
<polygon points="1343.8,121.5 1345.5,122.3 1345.5,143.5 1343.8,143.5" fill="#5f93c4" />
<polygon points="1323.1,126.5 1344,120.9 1344,143.5 1323.1,149.2" fill="#94c8f0" /><polygon points="1323.1,126.5 1344,120.9 1344,122.5 1323.1,128.1" fill="#bfe1fa" />
<polygon points="1367.1,121.5 1368.8,122.3 1368.8,143.5 1367.1,143.5" fill="#5f93c4" />
<polygon points="1346.5,126.5 1367.3,120.9 1367.3,143.5 1346.5,149.2" fill="#90c5ee" /><polygon points="1346.5,126.5 1367.3,120.9 1367.3,122.5 1346.5,128.1" fill="#bfe1fa" />
<polygon points="1390.4,121.5 1392.1,122.3 1392.1,143.5 1390.4,143.5" fill="#5f93c4" />
<polygon points="1369.8,126.5 1390.6,120.9 1390.6,143.5 1369.8,149.2" fill="#90c5ee" /><polygon points="1369.8,126.5 1390.6,120.9 1390.6,122.5 1369.8,128.1" fill="#bfe1fa" />
<polygon points="1413.7,121.5 1415.4,122.3 1415.4,143.5 1413.7,143.5" fill="#5f93c4" />
<polygon points="1393.1,126.5 1413.9,120.9 1413.9,143.5 1393.1,149.2" fill="#8cc2ec" /><polygon points="1393.1,126.5 1413.9,120.9 1413.9,122.5 1393.1,128.1" fill="#bfe1fa" />
<polygon points="1437.1,121.8 1438.8,122.6 1438.8,143.8 1437.1,143.8" fill="#5f93c4" />
<polygon points="1418.9,125.6 1437.3,121.2 1437.3,143.8 1418.9,148.2" fill="#90c5ee" /><polygon points="1418.9,125.6 1437.3,121.2 1437.3,122.8 1418.9,127.2" fill="#bfe1fa" />
<polygon points="1460.4,121.8 1462.1,122.6 1462.1,143.8 1460.4,143.8" fill="#5f93c4" />
<polygon points="1439.8,126.2 1460.6,121.2 1460.6,143.8 1439.8,148.8" fill="#90c5ee" /><polygon points="1439.8,126.2 1460.6,121.2 1460.6,122.8 1439.8,127.8" fill="#bfe1fa" />
<polygon points="1483.7,121.8 1485.4,122.6 1485.4,143.8 1483.7,143.8" fill="#5f93c4" />
<polygon points="1463.1,126.2 1483.9,121.2 1483.9,143.8 1463.1,148.8" fill="#90c5ee" /><polygon points="1463.1,126.2 1483.9,121.2 1483.9,122.8 1463.1,127.8" fill="#bfe1fa" />
<polygon points="1507,121.8 1508.7,122.6 1508.7,143.8 1507,143.8" fill="#5f93c4" />
<polygon points="1486.4,126.2 1507.2,121.2 1507.2,143.8 1486.4,148.8" fill="#90c5ee" /><polygon points="1486.4,126.2 1507.2,121.2 1507.2,122.8 1486.4,127.8" fill="#bfe1fa" />
<polygon points="1527,122.6 1528.7,123.4 1528.7,144.7 1527,144.7" fill="#5f93c4" />
<polygon points="1509.7,126.2 1527.2,122 1527.2,144.7 1509.7,148.8" fill="#89bfea" /><polygon points="1509.7,126.2 1527.2,122 1527.2,123.6 1509.7,127.8" fill="#bfe1fa" />
<polygon points="1553.7,122 1555.4,122.8 1555.4,144.1 1553.7,144.1" fill="#5f93c4" />
<polygon points="1533.1,126 1553.9,121.4 1553.9,144.1 1533.1,148.6" fill="#90c5ee" /><polygon points="1533.1,126 1553.9,121.4 1553.9,123 1533.1,127.6" fill="#bfe1fa" />
<polygon points="1577,122 1578.7,122.8 1578.7,144.1 1577,144.1" fill="#5f93c4" />
<polygon points="1556.4,126 1577.2,121.4 1577.2,144.1 1556.4,148.6" fill="#90c5ee" /><polygon points="1556.4,126 1577.2,121.4 1577.2,123 1556.4,127.6" fill="#bfe1fa" />
<polygon points="1600.4,122 1602.1,122.8 1602.1,144.1 1600.4,144.1" fill="#5f93c4" />
<polygon points="1579.7,126 1600.6,121.4 1600.6,144.1 1579.7,148.6" fill="#89bfea" /><polygon points="1579.7,126 1600.6,121.4 1600.6,123 1579.7,127.6" fill="#bfe1fa" />
<polygon points="1623.7,122 1625.4,122.8 1625.4,144.1 1623.7,144.1" fill="#5f93c4" />
<polygon points="1603.1,126 1623.9,121.4 1623.9,144.1 1603.1,148.6" fill="#94c8f0" /><polygon points="1603.1,126 1623.9,121.4 1623.9,123 1603.1,127.6" fill="#bfe1fa" />
<polygon points="1642.8,122.9 1644.5,123.7 1644.5,145 1642.8,145" fill="#5f93c4" />
<polygon points="1626.4,126 1643,122.3 1643,145 1626.4,148.6" fill="#8cc2ec" /><polygon points="1626.4,126 1643,122.3 1643,123.9 1626.4,127.6" fill="#bfe1fa" />
<polygon points="1304.2,130.4 1305.9,131.2 1305.9,154.1 1304.2,154.1" fill="#5f93c4" />
<polygon points="1297.5,131.6 1304.4,129.8 1304.4,154.1 1297.5,155.9" fill="#94c8f0" /><polygon points="1297.5,131.6 1304.4,129.8 1304.4,131.4 1297.5,133.3" fill="#bfe1fa" />
<polygon points="1328.5,130.4 1330.2,131.2 1330.2,154.1 1328.5,154.1" fill="#5f93c4" />
<polygon points="1307,135.6 1328.7,129.8 1328.7,154.1 1307,159.9" fill="#90c5ee" /><polygon points="1307,135.6 1328.7,129.8 1328.7,131.4 1307,137.3" fill="#bfe1fa" />
<polygon points="1352.7,130.4 1354.4,131.2 1354.4,154.1 1352.7,154.1" fill="#5f93c4" />
<polygon points="1331.3,135.6 1352.9,129.8 1352.9,154.1 1331.3,159.9" fill="#94c8f0" /><polygon points="1331.3,135.6 1352.9,129.8 1352.9,131.4 1331.3,137.3" fill="#bfe1fa" />
<polygon points="1377,130.4 1378.7,131.2 1378.7,154.1 1377,154.1" fill="#5f93c4" />
<polygon points="1355.5,135.6 1377.2,129.8 1377.2,154.1 1355.5,159.9" fill="#89bfea" /><polygon points="1355.5,135.6 1377.2,129.8 1377.2,131.4 1355.5,137.3" fill="#bfe1fa" />
<polygon points="1401.2,130.4 1402.9,131.2 1402.9,154.1 1401.2,154.1" fill="#5f93c4" />
<polygon points="1379.8,135.6 1401.4,129.8 1401.4,154.1 1379.8,159.9" fill="#89bfea" /><polygon points="1379.8,135.6 1401.4,129.8 1401.4,131.4 1379.8,137.3" fill="#bfe1fa" />
<polygon points="1415,133.2 1416.7,134 1416.7,156.9 1415,156.9" fill="#5f93c4" />
<polygon points="1404,135.6 1415.2,132.6 1415.2,156.9 1404,159.9" fill="#94c8f0" /><polygon points="1404,135.6 1415.2,132.6 1415.2,134.3 1404,137.3" fill="#bfe1fa" />
<polygon points="1449.7,130.7 1451.4,131.5 1451.4,154.4 1449.7,154.4" fill="#5f93c4" />
<polygon points="1428.3,135.3 1449.9,130.1 1449.9,154.4 1428.3,159.6" fill="#94c8f0" /><polygon points="1428.3,135.3 1449.9,130.1 1449.9,131.7 1428.3,136.9" fill="#bfe1fa" />
<polygon points="1474,130.7 1475.7,131.5 1475.7,154.4 1474,154.4" fill="#5f93c4" />
<polygon points="1452.5,135.3 1474.2,130.1 1474.2,154.4 1452.5,159.6" fill="#94c8f0" /><polygon points="1452.5,135.3 1474.2,130.1 1474.2,131.7 1452.5,136.9" fill="#bfe1fa" />
<polygon points="1498.2,130.7 1499.9,131.5 1499.9,154.4 1498.2,154.4" fill="#5f93c4" />
<polygon points="1476.8,135.3 1498.4,130.1 1498.4,154.4 1476.8,159.6" fill="#8cc2ec" /><polygon points="1476.8,135.3 1498.4,130.1 1498.4,131.7 1476.8,136.9" fill="#bfe1fa" />
<polygon points="1522.5,130.7 1524.2,131.5 1524.2,154.4 1522.5,154.4" fill="#5f93c4" />
<polygon points="1501,135.3 1522.7,130.1 1522.7,154.4 1501,159.6" fill="#94c8f0" /><polygon points="1501,135.3 1522.7,130.1 1522.7,131.7 1501,136.9" fill="#bfe1fa" />
<polygon points="1546.7,130.9 1548.4,131.7 1548.4,154.6 1546.7,154.6" fill="#5f93c4" />
<polygon points="1530.8,133.9 1546.9,130.3 1546.9,154.6 1530.8,158.2" fill="#89bfea" /><polygon points="1530.8,133.9 1546.9,130.3 1546.9,132 1530.8,135.5" fill="#bfe1fa" />
<polygon points="1571,130.9 1572.7,131.7 1572.7,154.6 1571,154.6" fill="#5f93c4" />
<polygon points="1549.5,135.1 1571.2,130.3 1571.2,154.6 1549.5,159.4" fill="#90c5ee" /><polygon points="1549.5,135.1 1571.2,130.3 1571.2,132 1549.5,136.7" fill="#bfe1fa" />
<polygon points="1595.2,130.9 1596.9,131.7 1596.9,154.6 1595.2,154.6" fill="#5f93c4" />
<polygon points="1573.8,135.1 1595.4,130.3 1595.4,154.6 1573.8,159.4" fill="#8cc2ec" /><polygon points="1573.8,135.1 1595.4,130.3 1595.4,132 1573.8,136.7" fill="#bfe1fa" />
<polygon points="1619.5,130.9 1621.2,131.7 1621.2,154.6 1619.5,154.6" fill="#5f93c4" />
<polygon points="1598,135.1 1619.7,130.3 1619.7,154.6 1598,159.4" fill="#90c5ee" /><polygon points="1598,135.1 1619.7,130.3 1619.7,132 1598,136.7" fill="#bfe1fa" />
<polygon points="1643.7,130.9 1645.4,131.7 1645.4,154.6 1643.7,154.6" fill="#5f93c4" />
<polygon points="1622.3,135.1 1643.9,130.3 1643.9,154.6 1622.3,159.4" fill="#89bfea" /><polygon points="1622.3,135.1 1643.9,130.3 1643.9,132 1622.3,136.7" fill="#bfe1fa" />
<polygon points="1316,139.6 1317.7,140.4 1317.7,165 1316,165" fill="#5f93c4" />
<polygon points="1296.5,144.3 1316.2,139 1316.2,165 1296.5,170.3" fill="#90c5ee" /><polygon points="1296.5,144.3 1316.2,139 1316.2,140.7 1296.5,146" fill="#bfe1fa" />
<polygon points="1341.2,139.6 1342.9,140.4 1342.9,165 1341.2,165" fill="#5f93c4" />
<polygon points="1318.9,145 1341.4,139 1341.4,165 1318.9,171" fill="#8cc2ec" /><polygon points="1318.9,145 1341.4,139 1341.4,140.7 1318.9,146.7" fill="#bfe1fa" />
<polygon points="1366.4,139.6 1368.1,140.4 1368.1,165 1366.4,165" fill="#5f93c4" />
<polygon points="1344.1,145 1366.6,139 1366.6,165 1344.1,171" fill="#90c5ee" /><polygon points="1344.1,145 1366.6,139 1366.6,140.7 1344.1,146.7" fill="#bfe1fa" />
<polygon points="1391.6,139.6 1393.3,140.4 1393.3,165 1391.6,165" fill="#5f93c4" />
<polygon points="1369.3,145 1391.8,139 1391.8,165 1369.3,171" fill="#94c8f0" /><polygon points="1369.3,145 1391.8,139 1391.8,140.7 1369.3,146.7" fill="#bfe1fa" />
<polygon points="1413.6,140.4 1415.3,141.2 1415.3,165.8 1413.6,165.8" fill="#5f93c4" />
<polygon points="1394.5,145 1413.8,139.8 1413.8,165.8 1394.5,171" fill="#89bfea" /><polygon points="1394.5,145 1413.8,139.8 1413.8,141.5 1394.5,146.7" fill="#bfe1fa" />
<polygon points="1442,139.9 1443.7,140.7 1443.7,165.3 1442,165.3" fill="#5f93c4" />
<polygon points="1419.7,144.7 1442.2,139.3 1442.2,165.3 1419.7,170.7" fill="#89bfea" /><polygon points="1419.7,144.7 1442.2,139.3 1442.2,141 1419.7,146.4" fill="#bfe1fa" />
<polygon points="1467.2,139.9 1468.9,140.7 1468.9,165.3 1467.2,165.3" fill="#5f93c4" />
<polygon points="1444.9,144.7 1467.4,139.3 1467.4,165.3 1444.9,170.7" fill="#90c5ee" /><polygon points="1444.9,144.7 1467.4,139.3 1467.4,141 1444.9,146.4" fill="#bfe1fa" />
<polygon points="1492.4,139.9 1494.1,140.7 1494.1,165.3 1492.4,165.3" fill="#5f93c4" />
<polygon points="1470.1,144.7 1492.6,139.3 1492.6,165.3 1470.1,170.7" fill="#89bfea" /><polygon points="1470.1,144.7 1492.6,139.3 1492.6,141 1470.1,146.4" fill="#bfe1fa" />
<polygon points="1517.6,139.9 1519.3,140.7 1519.3,165.3 1517.6,165.3" fill="#5f93c4" />
<polygon points="1495.3,144.7 1517.8,139.3 1517.8,165.3 1495.3,170.7" fill="#90c5ee" /><polygon points="1495.3,144.7 1517.8,139.3 1517.8,141 1495.3,146.4" fill="#bfe1fa" />
<polygon points="1542.8,140.1 1544.5,140.9 1544.5,165.5 1542.8,165.5" fill="#5f93c4" />
<polygon points="1532,141.9 1543,139.5 1543,165.5 1532,167.9" fill="#94c8f0" /><polygon points="1532,141.9 1543,139.5 1543,141.2 1532,143.6" fill="#bfe1fa" />
<polygon points="1568,140.1 1569.7,140.9 1569.7,165.5 1568,165.5" fill="#5f93c4" />
<polygon points="1545.7,144.5 1568.2,139.5 1568.2,165.5 1545.7,170.5" fill="#89bfea" /><polygon points="1545.7,144.5 1568.2,139.5 1568.2,141.2 1545.7,146.2" fill="#bfe1fa" />
<polygon points="1593.2,140.1 1594.9,140.9 1594.9,165.5 1593.2,165.5" fill="#5f93c4" />
<polygon points="1570.9,144.5 1593.4,139.5 1593.4,165.5 1570.9,170.5" fill="#94c8f0" /><polygon points="1570.9,144.5 1593.4,139.5 1593.4,141.2 1570.9,146.2" fill="#bfe1fa" />
<polygon points="1618.4,140.1 1620.1,140.9 1620.1,165.5 1618.4,165.5" fill="#5f93c4" />
<polygon points="1596.1,144.5 1618.6,139.5 1618.6,165.5 1596.1,170.5" fill="#89bfea" /><polygon points="1596.1,144.5 1618.6,139.5 1618.6,141.2 1596.1,146.2" fill="#bfe1fa" />
<polygon points="1643.6,140.1 1645.3,140.9 1645.3,165.5 1643.6,165.5" fill="#5f93c4" />
<polygon points="1621.3,144.5 1643.8,139.5 1643.8,165.5 1621.3,170.5" fill="#89bfea" /><polygon points="1621.3,144.5 1643.8,139.5 1643.8,141.2 1621.3,146.2" fill="#bfe1fa" />
<path d="M1428.5,58 L1412.5,176" stroke="#b9bdc8" stroke-width="2.6" fill="none" opacity="0.95"/>
<path d="M1520.8,75 L1531.5,166" stroke="#b0b8c6" stroke-width="2.4" fill="none" opacity="0.9"/>
<rect x="1301.5" y="160.8" width="10.5" height="7.2" fill="#8b8fa2" rx="3" transform="rotate(14 1306 164)"/>
<rect x="1310.6" y="163.2" width="2.6" height="6.4" fill="#d9c3a8" rx="1.2"/>
<rect x="1350.5" y="160.8" width="10.5" height="7.2" fill="#8b8fa2" rx="3" transform="rotate(14 1355 164)"/>
<rect x="1359.6" y="163.2" width="2.6" height="6.4" fill="#d9c3a8" rx="1.2"/>
<rect x="1400" y="160.8" width="10.5" height="7.2" fill="#8b8fa2" rx="3" transform="rotate(14 1404.5 164)"/>
<rect x="1409.1" y="163.2" width="2.6" height="6.4" fill="#d9c3a8" rx="1.2"/>
<rect x="1420.5" y="160.8" width="10.5" height="7.2" fill="#8b8fa2" rx="3" transform="rotate(14 1425 164)"/>
<rect x="1429.6" y="163.2" width="2.6" height="6.4" fill="#d9c3a8" rx="1.2"/>
<rect x="1469.5" y="160.8" width="10.5" height="7.2" fill="#8b8fa2" rx="3" transform="rotate(14 1474 164)"/>
<rect x="1478.6" y="163.2" width="2.6" height="6.4" fill="#d9c3a8" rx="1.2"/>
<rect x="1518.5" y="160.8" width="10.5" height="7.2" fill="#8b8fa2" rx="3" transform="rotate(14 1523 164)"/>
<rect x="1527.6" y="163.2" width="2.6" height="6.4" fill="#d9c3a8" rx="1.2"/>
<rect x="1538.5" y="160.8" width="10.5" height="7.2" fill="#8b8fa2" rx="3" transform="rotate(14 1543 164)"/>
<rect x="1547.6" y="163.2" width="2.6" height="6.4" fill="#d9c3a8" rx="1.2"/>
<rect x="1587.5" y="160.8" width="10.5" height="7.2" fill="#8b8fa2" rx="3" transform="rotate(14 1592 164)"/>
<rect x="1596.6" y="163.2" width="2.6" height="6.4" fill="#d9c3a8" rx="1.2"/>
<rect x="1636.5" y="160.8" width="10.5" height="7.2" fill="#8b8fa2" rx="3" transform="rotate(14 1641 164)"/>
<rect x="1645.6" y="163.2" width="2.6" height="6.4" fill="#d9c3a8" rx="1.2"/>
</g>
<path d="M1340.1,65.3C1338.4,66.4 1333.6,68.7 1329.9,71.6C1326.1,74.5 1320.9,78.6 1317.8,82.5C1314.7,86.3 1311.1,91.6 1311.1,94.5C1311.1,97.5 1314.5,100 1317.8,100C1321.1,100 1326.6,96.7 1331.1,94.5C1335.5,92.4 1340.4,89.3 1344.3,87.3C1348.3,85.2 1355.2,81.4 1354.6,82.2C1354,83 1344.9,88.3 1340.7,92.1C1336.6,96 1331.3,102 1329.9,105.4C1328.4,108.8 1329.9,111.7 1332.3,112.7C1334.7,113.7 1340.5,112.5 1344.3,111.4C1348.2,110.4 1352.3,107.9 1355.2,106.6C1358.1,105.3 1362.7,102.4 1361.9,103.6C1361.1,104.8 1353.2,110.7 1350.4,113.9C1347.6,117 1345,120.2 1345,122.3C1345,124.4 1348.1,126 1350.4,126.5C1352.7,127 1356.2,125.9 1358.8,125.3C1361.5,124.7 1365.7,122.2 1366.1,122.9C1366.5,123.6 1362.2,127.5 1361.3,129.6C1360.4,131.7 1359.6,134.1 1360.7,135.6C1361.7,137.1 1365.2,137.2 1367.3,138.6C1369.4,140 1372.3,143.2 1373.3,144.1" fill="none" stroke="#5aa2ff" stroke-width="17" stroke-linecap="round" opacity="0.8" filter="url(#glowB)"/><path d="M1340.1,65.3C1338.4,66.4 1333.6,68.7 1329.9,71.6C1326.1,74.5 1320.9,78.6 1317.8,82.5C1314.7,86.3 1311.1,91.6 1311.1,94.5" fill="none" stroke="#4a5cc2" stroke-width="5.2" stroke-linecap="round" stroke-linejoin="round"/><path d="M1311.1,94.5C1311.1,97.5 1314.5,100 1317.8,100C1321.1,100 1326.6,96.7 1331.1,94.5C1335.5,92.4 1340.4,89.3 1344.3,87.3" fill="none" stroke="#4a5cc2" stroke-width="4.9" stroke-linecap="round" stroke-linejoin="round"/><path d="M1344.3,87.3C1348.3,85.2 1355.2,81.4 1354.6,82.2C1354,83 1344.9,88.3 1340.7,92.1C1336.6,96 1331.3,102 1329.9,105.4" fill="none" stroke="#4a5cc2" stroke-width="4.7" stroke-linecap="round" stroke-linejoin="round"/><path d="M1329.9,105.4C1328.4,108.8 1329.9,111.7 1332.3,112.7C1334.7,113.7 1340.5,112.5 1344.3,111.4C1348.2,110.4 1352.3,107.9 1355.2,106.6" fill="none" stroke="#4a5cc2" stroke-width="4.4" stroke-linecap="round" stroke-linejoin="round"/><path d="M1355.2,106.6C1358.1,105.3 1362.7,102.4 1361.9,103.6C1361.1,104.8 1353.2,110.7 1350.4,113.9C1347.6,117 1345,120.2 1345,122.3" fill="none" stroke="#4a5cc2" stroke-width="4.1" stroke-linecap="round" stroke-linejoin="round"/><path d="M1345,122.3C1345,124.4 1348.1,126 1350.4,126.5C1352.7,127 1356.2,125.9 1358.8,125.3C1361.5,124.7 1365.7,122.2 1366.1,122.9" fill="none" stroke="#4a5cc2" stroke-width="3.8" stroke-linecap="round" stroke-linejoin="round"/><path d="M1366.1,122.9C1366.5,123.6 1362.2,127.5 1361.3,129.6C1360.4,131.7 1359.6,134.1 1360.7,135.6C1361.7,137.1 1365.2,137.2 1367.3,138.6" fill="none" stroke="#4a5cc2" stroke-width="3.6" stroke-linecap="round" stroke-linejoin="round"/><path d="M1367.3,138.6C1369.4,140 1372.3,143.2 1373.3,144.1" fill="none" stroke="#4a5cc2" stroke-width="3.3" stroke-linecap="round" stroke-linejoin="round"/><polygon points="1342.1,64.1 1336.8,73.5 1331.3,64.6" fill="#4a5cc2" />
<path d="M1358.2,21.1C1356.5,21.9 1351.3,23.7 1348,25.7C1344.6,27.7 1340.2,30.8 1338.3,32.9C1336.4,35.1 1335.7,37.3 1336.5,38.4C1337.3,39.5 1340,40 1343.1,39.6C1346.3,39.2 1351.3,37.2 1355.2,36C1359.1,34.8 1366.9,31.4 1366.7,32.3C1366.5,33.2 1357.4,38.9 1354,41.4C1350.6,43.9 1347,45.7 1346.2,47.4C1345.4,49.2 1347.3,51.3 1349.2,51.7C1351.1,52.1 1354.5,50.6 1357.6,49.9C1360.8,49.2 1367.7,46.6 1367.9,47.4C1368.1,48.2 1361.1,52.9 1358.8,54.7C1356.6,56.5 1354.6,57.2 1354.6,58.3C1354.6,59.4 1356.4,60.8 1358.8,61.3C1361.3,61.8 1368.3,60.6 1369.1,61.3C1369.9,62 1364.7,64 1363.7,65.6C1362.7,67.1 1362.1,68.7 1363.1,70.4C1364.1,72.1 1368.6,74.9 1369.7,75.8" fill="none" stroke="#f7a3cf" stroke-width="11" stroke-linecap="round" opacity="0.8" filter="url(#glowA)"/><path d="M1358.2,21.1C1356.5,21.9 1351.3,23.7 1348,25.7C1344.6,27.7 1340.2,30.8 1338.3,32.9C1336.4,35.1 1335.7,37.3 1336.5,38.4" fill="none" stroke="#d2639c" stroke-width="3.6" stroke-linecap="round" stroke-linejoin="round"/><path d="M1336.5,38.4C1337.3,39.5 1340,40 1343.1,39.6C1346.3,39.2 1351.3,37.2 1355.2,36C1359.1,34.8 1366.9,31.4 1366.7,32.3" fill="none" stroke="#d2639c" stroke-width="3.4" stroke-linecap="round" stroke-linejoin="round"/><path d="M1366.7,32.3C1366.5,33.2 1357.4,38.9 1354,41.4C1350.6,43.9 1347,45.7 1346.2,47.4C1345.4,49.2 1347.3,51.3 1349.2,51.7" fill="none" stroke="#d2639c" stroke-width="3.2" stroke-linecap="round" stroke-linejoin="round"/><path d="M1349.2,51.7C1351.1,52.1 1354.5,50.6 1357.6,49.9C1360.8,49.2 1367.7,46.6 1367.9,47.4C1368.1,48.2 1361.1,52.9 1358.8,54.7" fill="none" stroke="#d2639c" stroke-width="3" stroke-linecap="round" stroke-linejoin="round"/><path d="M1358.8,54.7C1356.6,56.5 1354.6,57.2 1354.6,58.3C1354.6,59.4 1356.4,60.8 1358.8,61.3C1361.3,61.8 1368.3,60.6 1369.1,61.3" fill="none" stroke="#d2639c" stroke-width="2.8" stroke-linecap="round" stroke-linejoin="round"/><path d="M1369.1,61.3C1369.9,62 1364.7,64 1363.7,65.6C1362.7,67.1 1362.1,68.7 1363.1,70.4C1364.1,72.1 1368.6,74.9 1369.7,75.8" fill="none" stroke="#d2639c" stroke-width="2.6" stroke-linecap="round" stroke-linejoin="round"/><polygon points="1359.8,20.4 1355,26.8 1351.9,19.7" fill="#d2639c" />
<path d="M1405.9,29.3C1407.8,30.3 1413,32.9 1416.8,35.4C1420.6,37.8 1426,41.4 1428.9,43.8C1431.8,46.2 1434.3,48.1 1434.3,49.9C1434.3,51.6 1431.8,53.9 1428.9,54.1C1426,54.3 1421,52.4 1416.8,51.1C1412.6,49.8 1407.1,47.2 1403.5,46.2C1399.9,45.2 1394.7,44.4 1395.1,45C1395.5,45.6 1402.1,47.6 1405.9,49.9C1409.8,52.1 1415.4,55.7 1418,58.3C1420.6,60.9 1422,63.7 1421.6,65.6C1421.2,67.4 1418.6,69.2 1415.6,69.2C1412.6,69.2 1407.3,66.5 1403.5,65.6C1399.8,64.6 1393.3,63.1 1393.3,63.7C1393.3,64.3 1400.6,66.9 1403.5,69.2C1406.4,71.5 1410.4,75.4 1410.8,77.6C1411.2,79.8 1408.4,81.9 1405.9,82.5C1403.5,83.1 1398.7,81.3 1396.3,81.3C1393.9,81.3 1391,81.5 1391.4,82.5C1391.9,83.5 1397.5,85.5 1398.7,87.3C1399.9,89.1 1399.7,91.7 1398.7,93.3C1397.7,94.9 1394.1,95.7 1392.7,97C1391.2,98.2 1390.6,100 1390.2,100.6" fill="none" stroke="#8fdc70" stroke-width="12" stroke-linecap="round" opacity="0.8" filter="url(#glowA)"/><path d="M1405.9,29.3C1407.8,30.3 1413,32.9 1416.8,35.4C1420.6,37.8 1426,41.4 1428.9,43.8C1431.8,46.2 1434.3,48.1 1434.3,49.9" fill="none" stroke="#86c96a" stroke-width="4.6" stroke-linecap="round" stroke-linejoin="round"/><path d="M1434.3,49.9C1434.3,51.6 1431.8,53.9 1428.9,54.1C1426,54.3 1421,52.4 1416.8,51.1C1412.6,49.8 1407.1,47.2 1403.5,46.2" fill="none" stroke="#86c96a" stroke-width="4.4" stroke-linecap="round" stroke-linejoin="round"/><path d="M1403.5,46.2C1399.9,45.2 1394.7,44.4 1395.1,45C1395.5,45.6 1402.1,47.6 1405.9,49.9C1409.8,52.1 1415.4,55.7 1418,58.3" fill="none" stroke="#86c96a" stroke-width="4.1" stroke-linecap="round" stroke-linejoin="round"/><path d="M1418,58.3C1420.6,60.9 1422,63.7 1421.6,65.6C1421.2,67.4 1418.6,69.2 1415.6,69.2C1412.6,69.2 1407.3,66.5 1403.5,65.6" fill="none" stroke="#86c96a" stroke-width="3.9" stroke-linecap="round" stroke-linejoin="round"/><path d="M1403.5,65.6C1399.8,64.6 1393.3,63.1 1393.3,63.7C1393.3,64.3 1400.6,66.9 1403.5,69.2C1406.4,71.5 1410.4,75.4 1410.8,77.6" fill="none" stroke="#86c96a" stroke-width="3.6" stroke-linecap="round" stroke-linejoin="round"/><path d="M1410.8,77.6C1411.2,79.8 1408.4,81.9 1405.9,82.5C1403.5,83.1 1398.7,81.3 1396.3,81.3C1393.9,81.3 1391,81.5 1391.4,82.5" fill="none" stroke="#86c96a" stroke-width="3.4" stroke-linecap="round" stroke-linejoin="round"/><path d="M1391.4,82.5C1391.9,83.5 1397.5,85.5 1398.7,87.3C1399.9,89.1 1399.7,91.7 1398.7,93.3C1397.7,94.9 1394.1,95.7 1392.7,97" fill="none" stroke="#86c96a" stroke-width="3.1" stroke-linecap="round" stroke-linejoin="round"/><path d="M1392.7,97C1391.2,98.2 1390.6,100 1390.2,100.6" fill="none" stroke="#86c96a" stroke-width="2.9" stroke-linecap="round" stroke-linejoin="round"/><polygon points="1404.2,28.4 1413.3,28.4 1409.1,36.1" fill="#86c96a" />
<path d="M1537.2,36C1535.4,37.3 1530.2,41.3 1526.3,43.8C1522.5,46.3 1517.3,48.8 1514.3,51.1C1511.3,53.3 1508.4,55.4 1508.2,57.1C1508,58.8 1510.2,61 1513.1,61.3C1515.9,61.6 1520.9,60.1 1525.1,58.9C1529.4,57.7 1534.8,55.2 1538.4,54.1C1542,53 1547.5,51.6 1546.9,52.3C1546.3,53 1538.8,55.9 1534.8,58.3C1530.8,60.7 1524.9,64.3 1522.7,66.8C1520.5,69.2 1520.7,71.2 1521.5,72.8C1522.3,74.4 1524.5,76.4 1527.6,76.4C1530.6,76.4 1536.2,73.6 1539.6,72.8C1543.1,72 1548.1,70.8 1548.1,71.6C1548.1,72.4 1542.2,75.6 1539.6,77.6C1537,79.6 1533.2,81.9 1532.4,83.7C1531.6,85.5 1532.8,87.7 1534.8,88.5C1536.8,89.3 1541.8,88.3 1544.5,88.5C1547.1,88.7 1550.5,88.7 1550.5,89.7C1550.5,90.7 1545.7,92.9 1544.5,94.5C1543.3,96.2 1542.5,97.8 1543.3,99.4C1544.1,101 1547.9,102.7 1549.3,104.2C1550.7,105.7 1551.3,107.7 1551.7,108.4" fill="none" stroke="#8fdc70" stroke-width="12" stroke-linecap="round" opacity="0.8" filter="url(#glowA)"/><path d="M1537.2,36C1535.4,37.3 1530.2,41.3 1526.3,43.8C1522.5,46.3 1517.3,48.8 1514.3,51.1C1511.3,53.3 1508.4,55.4 1508.2,57.1" fill="none" stroke="#86c96a" stroke-width="4.6" stroke-linecap="round" stroke-linejoin="round"/><path d="M1508.2,57.1C1508,58.8 1510.2,61 1513.1,61.3C1515.9,61.6 1520.9,60.1 1525.1,58.9C1529.4,57.7 1534.8,55.2 1538.4,54.1" fill="none" stroke="#86c96a" stroke-width="4.4" stroke-linecap="round" stroke-linejoin="round"/><path d="M1538.4,54.1C1542,53 1547.5,51.6 1546.9,52.3C1546.3,53 1538.8,55.9 1534.8,58.3C1530.8,60.7 1524.9,64.3 1522.7,66.8" fill="none" stroke="#86c96a" stroke-width="4.1" stroke-linecap="round" stroke-linejoin="round"/><path d="M1522.7,66.8C1520.5,69.2 1520.7,71.2 1521.5,72.8C1522.3,74.4 1524.5,76.4 1527.6,76.4C1530.6,76.4 1536.2,73.6 1539.6,72.8" fill="none" stroke="#86c96a" stroke-width="3.9" stroke-linecap="round" stroke-linejoin="round"/><path d="M1539.6,72.8C1543.1,72 1548.1,70.8 1548.1,71.6C1548.1,72.4 1542.2,75.6 1539.6,77.6C1537,79.6 1533.2,81.9 1532.4,83.7" fill="none" stroke="#86c96a" stroke-width="3.6" stroke-linecap="round" stroke-linejoin="round"/><path d="M1532.4,83.7C1531.6,85.5 1532.8,87.7 1534.8,88.5C1536.8,89.3 1541.8,88.3 1544.5,88.5C1547.1,88.7 1550.5,88.7 1550.5,89.7" fill="none" stroke="#86c96a" stroke-width="3.4" stroke-linecap="round" stroke-linejoin="round"/><path d="M1550.5,89.7C1550.5,90.7 1545.7,92.9 1544.5,94.5C1543.3,96.2 1542.5,97.8 1543.3,99.4C1544.1,101 1547.9,102.7 1549.3,104.2" fill="none" stroke="#86c96a" stroke-width="3.1" stroke-linecap="round" stroke-linejoin="round"/><path d="M1549.3,104.2C1550.7,105.7 1551.3,107.7 1551.7,108.4" fill="none" stroke="#86c96a" stroke-width="2.9" stroke-linecap="round" stroke-linejoin="round"/><polygon points="1538.8,34.8 1534.9,43 1529.8,35.9" fill="#86c96a" />
<path d="M1584.9,21.5C1586.6,22.2 1591.9,23.8 1595.2,25.7C1598.5,27.6 1602.8,30.8 1604.9,32.9C1606.9,35.1 1608.1,37.3 1607.3,38.4C1606.5,39.5 1603.2,40 1600,39.6C1596.8,39.2 1591.6,37 1587.9,36C1584.3,35 1578.3,33 1578.3,33.6C1578.3,34.1 1584.9,36.9 1587.9,39C1591,41.1 1595.2,44.2 1596.4,46.2C1597.6,48.2 1596.8,50.4 1595.2,51.1C1593.6,51.8 1590,50.9 1586.7,50.5C1583.5,50.1 1576.5,48.1 1575.9,48.6C1575.3,49.2 1581.1,51.9 1583.1,53.5C1585.1,55.1 1587.7,56.9 1587.9,58.3C1588.1,59.7 1586.1,61.3 1584.3,61.9C1582.5,62.5 1578.7,61.7 1577.1,61.9C1575.5,62.1 1574.5,62.3 1574.7,63.1C1574.9,63.9 1577.5,65.4 1578.3,66.8C1579.1,68.2 1580.1,70.1 1579.5,71.6C1578.9,73.1 1575.5,75.1 1574.7,75.8" fill="none" stroke="#f7a3cf" stroke-width="11" stroke-linecap="round" opacity="0.8" filter="url(#glowA)"/><path d="M1584.9,21.5C1586.6,22.2 1591.9,23.8 1595.2,25.7C1598.5,27.6 1602.8,30.8 1604.9,32.9C1606.9,35.1 1608.1,37.3 1607.3,38.4" fill="none" stroke="#d2639c" stroke-width="3.6" stroke-linecap="round" stroke-linejoin="round"/><path d="M1607.3,38.4C1606.5,39.5 1603.2,40 1600,39.6C1596.8,39.2 1591.6,37 1587.9,36C1584.3,35 1578.3,33 1578.3,33.6" fill="none" stroke="#d2639c" stroke-width="3.4" stroke-linecap="round" stroke-linejoin="round"/><path d="M1578.3,33.6C1578.3,34.1 1584.9,36.9 1587.9,39C1591,41.1 1595.2,44.2 1596.4,46.2C1597.6,48.2 1596.8,50.4 1595.2,51.1" fill="none" stroke="#d2639c" stroke-width="3.2" stroke-linecap="round" stroke-linejoin="round"/><path d="M1595.2,51.1C1593.6,51.8 1590,50.9 1586.7,50.5C1583.5,50.1 1576.5,48.1 1575.9,48.6C1575.3,49.2 1581.1,51.9 1583.1,53.5" fill="none" stroke="#d2639c" stroke-width="3" stroke-linecap="round" stroke-linejoin="round"/><path d="M1583.1,53.5C1585.1,55.1 1587.7,56.9 1587.9,58.3C1588.1,59.7 1586.1,61.3 1584.3,61.9C1582.5,62.5 1578.7,61.7 1577.1,61.9" fill="none" stroke="#d2639c" stroke-width="2.8" stroke-linecap="round" stroke-linejoin="round"/><path d="M1577.1,61.9C1575.5,62.1 1574.5,62.3 1574.7,63.1C1574.9,63.9 1577.5,65.4 1578.3,66.8C1579.1,68.2 1580.1,70.1 1579.5,71.6" fill="none" stroke="#d2639c" stroke-width="2.7" stroke-linecap="round" stroke-linejoin="round"/><path d="M1579.5,71.6C1578.9,73.1 1575.5,75.1 1574.7,75.8" fill="none" stroke="#d2639c" stroke-width="2.5" stroke-linecap="round" stroke-linejoin="round"/><polygon points="1583.3,20.8 1591.2,19.9 1588.3,27" fill="#d2639c" />
<path d="M1612.1,67.7C1613.9,69.4 1619.3,74 1623,77.6C1626.6,81.3 1631.1,86.1 1633.8,89.7C1636.6,93.3 1639.3,97.1 1639.3,99.4C1639.3,101.7 1636.8,103.8 1633.8,103.6C1630.9,103.4 1626.2,100.7 1621.8,98.2C1617.3,95.6 1611.5,91.1 1607.3,88.5C1603,85.9 1596.6,81.9 1596.4,82.5C1596.2,83.1 1602.6,88.5 1606.1,92.1C1609.5,95.7 1614.7,100.8 1616.9,104.2C1619.1,107.6 1619.9,110.6 1619.3,112.7C1618.7,114.7 1616.1,116.5 1613.3,116.3C1610.5,116.1 1606.5,113.5 1602.4,111.4C1598.4,109.4 1590.2,104 1589.1,104.2C1588.1,104.4 1594.2,109.6 1596.4,112.7C1598.6,115.7 1602.2,119.9 1602.4,122.3C1602.6,124.7 1600,126.7 1597.6,127.1C1595.2,127.6 1590.8,125.4 1587.9,124.7C1585.1,124 1581.1,122.1 1580.7,122.9C1580.3,123.7 1584.9,127.5 1585.5,129.6C1586.1,131.7 1585.7,134 1584.3,135.6C1582.9,137.2 1579.1,138 1577.1,139.2C1575.1,140.4 1573,142.2 1572.2,142.9" fill="none" stroke="#5aa2ff" stroke-width="17" stroke-linecap="round" opacity="0.8" filter="url(#glowB)"/><path d="M1612.1,67.7C1613.9,69.4 1619.3,74 1623,77.6C1626.6,81.3 1631.1,86.1 1633.8,89.7C1636.6,93.3 1639.3,97.1 1639.3,99.4" fill="none" stroke="#4a5cc2" stroke-width="5.2" stroke-linecap="round" stroke-linejoin="round"/><path d="M1639.3,99.4C1639.3,101.7 1636.8,103.8 1633.8,103.6C1630.9,103.4 1626.2,100.7 1621.8,98.2C1617.3,95.6 1611.5,91.1 1607.3,88.5" fill="none" stroke="#4a5cc2" stroke-width="4.9" stroke-linecap="round" stroke-linejoin="round"/><path d="M1607.3,88.5C1603,85.9 1596.6,81.9 1596.4,82.5C1596.2,83.1 1602.6,88.5 1606.1,92.1C1609.5,95.7 1614.7,100.8 1616.9,104.2" fill="none" stroke="#4a5cc2" stroke-width="4.7" stroke-linecap="round" stroke-linejoin="round"/><path d="M1616.9,104.2C1619.1,107.6 1619.9,110.6 1619.3,112.7C1618.7,114.7 1616.1,116.5 1613.3,116.3C1610.5,116.1 1606.5,113.5 1602.4,111.4" fill="none" stroke="#4a5cc2" stroke-width="4.4" stroke-linecap="round" stroke-linejoin="round"/><path d="M1602.4,111.4C1598.4,109.4 1590.2,104 1589.1,104.2C1588.1,104.4 1594.2,109.6 1596.4,112.7C1598.6,115.7 1602.2,119.9 1602.4,122.3" fill="none" stroke="#4a5cc2" stroke-width="4.1" stroke-linecap="round" stroke-linejoin="round"/><path d="M1602.4,122.3C1602.6,124.7 1600,126.7 1597.6,127.1C1595.2,127.6 1590.8,125.4 1587.9,124.7C1585.1,124 1581.1,122.1 1580.7,122.9" fill="none" stroke="#4a5cc2" stroke-width="3.8" stroke-linecap="round" stroke-linejoin="round"/><path d="M1580.7,122.9C1580.3,123.7 1584.9,127.5 1585.5,129.6C1586.1,131.7 1585.7,134 1584.3,135.6C1582.9,137.2 1579.1,138 1577.1,139.2" fill="none" stroke="#4a5cc2" stroke-width="3.6" stroke-linecap="round" stroke-linejoin="round"/><path d="M1577.1,139.2C1575.1,140.4 1573,142.2 1572.2,142.9" fill="none" stroke="#4a5cc2" stroke-width="3.3" stroke-linecap="round" stroke-linejoin="round"/><polygon points="1610.3,66.1 1620.9,68.7 1613.8,76.4" fill="#4a5cc2" />
<g stroke="#1c1c1c" stroke-width="2.7" fill="none" stroke-linecap="round" stroke-linejoin="miter" stroke-linecap="butt"><path d="M1431.6,110.8 L1511.6,85.2"/><path d="M1500.1,97 L1511.6,85.2 L1495.4,82.3"/><path d="M1443.1,99 L1431.6,110.8 L1447.8,113.7"/></g>
<path d="M303.7,139.8 L308,138.2 L312,136.4 L316,134.7 L320,133.1 L323.9,131.7 L327.7,130.3 L331.6,129.1 L335.4,127.9 L339.1,126.9 L342.9,126.1 L346.6,125.3 L350.2,124.7 L353.9,124.2 L357.5,123.8 L361,123.6 L364.6,123.4 L368.1,123.4 L371.6,123.6 L375.1,123.8 L378.5,124.2 L381.9,124.7 L385.3,125.3 L388.7,126 L392,126.8 L395.3,127.8 L398.6,128.9 L401.9,130.1 L405.1,131.5 L408.7,122.7 L405,121.5 L401.4,120.3 L397.7,119.3 L394.1,118.4 L390.4,117.7 L386.7,117.1 L383,116.6 L379.2,116.3 L375.5,116.1 L371.8,116.1 L368,116.2 L364.2,116.4 L360.5,116.8 L356.7,117.3 L352.9,118 L349.1,118.8 L345.3,119.7 L341.5,120.7 L337.7,121.9 L333.8,123.3 L330,124.7 L326.2,126.3 L322.4,128.1 L318.5,130 L314.7,132 L310.9,134.2 L307.1,136.6 L303.5,139.4 Z" fill="#adadad"/><path d="M402.2,111.7 L419.2,131.9 L392.1,136.5" fill="none" stroke="#adadad" stroke-width="9.4" stroke-linejoin="miter" stroke-miterlimit="6" stroke-linecap="round"/><polygon points="405.4,122.3 417.2,131.9 401.4,133.3" fill="#adadad" />
<path d="M675.1,135.2 L679.4,133.6 L683.4,131.8 L687.4,130.1 L691.4,128.5 L695.3,127.1 L699.1,125.7 L703,124.5 L706.8,123.3 L710.5,122.3 L714.3,121.5 L718,120.7 L721.6,120.1 L725.3,119.6 L728.9,119.2 L732.4,119 L736,118.8 L739.5,118.8 L743,119 L746.5,119.2 L749.9,119.6 L753.3,120.1 L756.7,120.7 L760.1,121.4 L763.4,122.2 L766.7,123.2 L770,124.3 L773.3,125.5 L776.5,126.9 L780.1,118.1 L776.4,116.9 L772.8,115.7 L769.1,114.7 L765.5,113.8 L761.8,113.1 L758.1,112.5 L754.4,112 L750.6,111.7 L746.9,111.5 L743.2,111.5 L739.4,111.6 L735.6,111.8 L731.9,112.2 L728.1,112.7 L724.3,113.4 L720.5,114.2 L716.7,115.1 L712.9,116.1 L709.1,117.3 L705.2,118.7 L701.4,120.1 L697.6,121.7 L693.8,123.5 L689.9,125.4 L686.1,127.4 L682.3,129.6 L678.5,132 L674.9,134.8 Z" fill="#adadad"/><path d="M773.6,107.1 L790.6,127.3 L763.5,131.9" fill="none" stroke="#adadad" stroke-width="9.4" stroke-linejoin="miter" stroke-miterlimit="6" stroke-linecap="round"/><polygon points="776.8,117.7 788.6,127.3 772.8,128.7" fill="#adadad" />
<path d="M1151.9,136.4 L1156.2,134.8 L1160.2,133 L1164.2,131.3 L1168.2,129.7 L1172.1,128.3 L1175.9,126.9 L1179.8,125.7 L1183.6,124.5 L1187.3,123.5 L1191.1,122.7 L1194.8,121.9 L1198.4,121.3 L1202.1,120.8 L1205.7,120.4 L1209.2,120.2 L1212.8,120 L1216.3,120 L1219.8,120.2 L1223.3,120.4 L1226.7,120.8 L1230.1,121.3 L1233.5,121.9 L1236.9,122.6 L1240.2,123.4 L1243.5,124.4 L1246.8,125.5 L1250.1,126.7 L1253.3,128.1 L1256.9,119.3 L1253.2,118.1 L1249.6,116.9 L1245.9,115.9 L1242.3,115 L1238.6,114.3 L1234.9,113.7 L1231.2,113.2 L1227.4,112.9 L1223.7,112.7 L1220,112.7 L1216.2,112.8 L1212.4,113 L1208.7,113.4 L1204.9,113.9 L1201.1,114.6 L1197.3,115.4 L1193.5,116.3 L1189.7,117.3 L1185.9,118.5 L1182,119.9 L1178.2,121.3 L1174.4,122.9 L1170.6,124.7 L1166.7,126.6 L1162.9,128.6 L1159.1,130.8 L1155.3,133.2 L1151.7,136 Z" fill="#adadad"/><path d="M1250.4,108.3 L1267.4,128.5 L1240.3,133.1" fill="none" stroke="#adadad" stroke-width="9.4" stroke-linejoin="miter" stroke-miterlimit="6" stroke-linecap="round"/><polygon points="1253.6,118.9 1265.4,128.5 1249.6,129.9" fill="#adadad" />
<text transform="translate(-2.6 51.6) scale(1 1)" font-size="58" >a</text>
<text transform="translate(81.3 51.5) scale(1 1)" font-size="27.9" >Brush direction</text>
<text transform="translate(0 253.8)" x="53.5" y="0" font-size="30.2">Aligned <tspan x="174">Cu(OH)</tspan><tspan x="280.3" dy="10.6" font-size="29">2</tspan> <tspan x="306.4" dy="-10.6" font-size="30.2">NWs</tspan></text>
<text transform="translate(556.3 255) scale(1 1)" font-size="30.2" text-anchor="middle" >2D aligned MOF</text>
<text transform="translate(726.6 51.5) scale(1 1)" font-size="27.9" text-anchor="middle" >Screen</text>
<text transform="translate(727.3 85.8) scale(1 1)" font-size="27.9" text-anchor="middle" >Printing</text>
<text transform="translate(986 253.8) scale(1 1)" font-size="30.2" text-anchor="middle" >2D patterned MOF</text>
<text transform="translate(1212 51.5) scale(1 1)" font-size="27.9" text-anchor="middle" >Twist</text>
<text transform="translate(1211 85.8) scale(1 1)" font-size="27.9" text-anchor="middle" >Stacking</text>
<text transform="translate(1474.7 251.3) scale(1 1)" font-size="30.2" text-anchor="middle" >Optical active MOF films</text>
</g>
<!-- panel_b -->
<g id="panel-b">
<text transform="translate(-0.5 326.2) scale(1 1)" font-size="58" >b</text>
<rect x="139.7" y="322" width="6.1" height="333" fill="url(#gV)" />
<polygon points="142.7,304.5 153.2,324.5 132.4,324.5" fill="#7cb95b" />
<rect x="140" y="648.6" width="336" height="6" fill="url(#gH)" />
<polygon points="492.5,651.6 472.5,641.5 472.5,661.8" fill="#7cb95b" />
<rect x="158" y="324" width="320" height="318" fill="#f7faf5" opacity="0.9" filter="url(#blur2)"/>
<g filter="url(#cellSh)">
<rect x="162.7" y="327.9" width="59.4" height="56" fill="#f3fbd2" />
<rect x="225.8" y="327.9" width="59.4" height="56" fill="#ddf8a8" />
<rect x="288.7" y="327.9" width="59.4" height="56" fill="#c6f986" />
<rect x="351.5" y="327.9" width="59.4" height="56" fill="#a5de69" />
<rect x="414.2" y="327.9" width="59.4" height="56" fill="#7db95c" />
<rect x="162.7" y="390.9" width="59.4" height="56" fill="#f3fbd2" />
<rect x="225.8" y="390.9" width="59.4" height="56" fill="#ddf8a8" />
<rect x="288.7" y="390.9" width="59.4" height="56" fill="#c6f986" />
<rect x="351.5" y="390.9" width="59.4" height="56" fill="#a5de69" />
<rect x="414.2" y="390.9" width="59.4" height="56" fill="#7db95c" />
<rect x="162.7" y="454" width="59.4" height="56" fill="#f3fbd2" />
<rect x="225.8" y="454" width="59.4" height="56" fill="#ddf8a8" />
<rect x="288.7" y="454" width="59.4" height="56" fill="#c6f986" />
<rect x="351.5" y="454" width="59.4" height="56" fill="#a5de69" />
<rect x="414.2" y="454" width="59.4" height="56" fill="#7db95c" />
<rect x="162.7" y="516.8" width="59.4" height="56" fill="#f3fbd2" />
<rect x="225.8" y="516.8" width="59.4" height="56" fill="#ddf8a8" />
<rect x="288.7" y="516.8" width="59.4" height="56" fill="#c6f986" />
<rect x="351.5" y="516.8" width="59.4" height="56" fill="#a5de69" />
<rect x="414.2" y="516.8" width="59.4" height="56" fill="#7db95c" />
<rect x="162.7" y="579.4" width="59.4" height="56" fill="#f3fbd2" />
<rect x="225.8" y="579.4" width="59.4" height="56" fill="#ddf8a8" />
<rect x="288.7" y="579.4" width="59.4" height="56" fill="#c6f986" />
<rect x="351.5" y="579.4" width="59.4" height="56" fill="#a5de69" />
<rect x="414.2" y="579.4" width="59.4" height="56" fill="#7db95c" />
</g>
<text transform="translate(191.4 372.8) scale(1 1.04)" font-size="29.5" text-anchor="middle" >1</text>
<text transform="translate(250.5 372.8) scale(1 1.04)" font-size="29.5" text-anchor="middle" >2</text>
<text transform="translate(317.4 372.8) scale(1 1.04)" font-size="29.5" text-anchor="middle" >3</text>
<text transform="translate(380.2 372.8) scale(1 1.04)" font-size="29.5" text-anchor="middle" >4</text>
<text transform="translate(446.6 372.8) scale(1 1.04)" font-size="29.5" text-anchor="middle" >5</text>
<text transform="translate(445.3 433.6) scale(1 1.04)" font-size="29.5" text-anchor="middle" >6</text>
<text transform="translate(447 495.8) scale(1 1.04)" font-size="29.5" text-anchor="middle" >7</text>
<text transform="translate(446 563.5) scale(1 1.04)" font-size="29.5" text-anchor="middle" >8</text>
<text transform="translate(446 621.5) scale(1 1.04)" font-size="29.5" text-anchor="middle" >9</text>
<text transform="translate(106.2 389) scale(1 1.04)" font-size="27" >+45°</text>
<text transform="translate(104.3 455) scale(1 1.04)" font-size="27" >+22.5°</text>
<text transform="translate(126 526.4) scale(1 1.04)" font-size="27" >0°</text>
<text transform="translate(116.5 586.7) scale(1 1.04)" font-size="27" >-22.5°</text>
<text transform="translate(118.3 653.6) scale(1 1.04)" font-size="27" >-45°</text>
<g stroke="#d31d8c" stroke-width="3.4" fill="none" stroke-linecap="round" stroke-linejoin="miter" ><path d="M92.1,367.2 L127.4,331.3"/><path d="M122.8,347.2 L127.4,331.3 L111.6,336.1"/><path d="M96.7,351.3 L92.1,367.2 L107.9,362.4"/></g>
<g stroke="#d31d8c" stroke-width="3.4" fill="none" stroke-linecap="round" stroke-linejoin="miter" ><path d="M89.3,423.8 L136.2,403.7"/><path d="M126,416.6 L136.2,403.7 L119.8,402.2"/><path d="M99.5,410.9 L89.3,423.8 L105.7,425.3"/></g>
<g stroke="#d31d8c" stroke-width="3.4" fill="none" stroke-linecap="round" stroke-linejoin="miter" ><path d="M88.7,478 L139.5,478"/><path d="M125,485.9 L139.5,478 L125,470.1"/><path d="M103.2,470.1 L88.7,478 L103.2,485.9"/></g>
<g stroke="#d31d8c" stroke-width="3.4" fill="none" stroke-linecap="round" stroke-linejoin="miter" ><path d="M91,526 L138.7,545.3"/><path d="M122.3,547.2 L138.7,545.3 L128.2,532.5"/><path d="M107.4,524.1 L91,526 L101.5,538.8"/></g>
<g stroke="#d31d8c" stroke-width="3.4" fill="none" stroke-linecap="round" stroke-linejoin="miter" ><path d="M91.2,584.4 L127,619.5"/><path d="M111.1,615 L127,619.5 L122.2,603.7"/><path d="M107.1,588.9 L91.2,584.4 L96,600.2"/></g>
<text transform="translate(73.6 478.8) rotate(-90)" font-size="30.3" text-anchor="middle" >MOF orientations</text>
<text transform="translate(185.6 694.8) scale(1 1)" font-size="30.1" >Dye concentration</text>
<rect x="587.2" y="615.8" width="43.6" height="39.8" fill="url(#barG1)" stroke="#000" stroke-width="1.6"/>
<rect x="672.3" y="546" width="43.1" height="109.6" fill="url(#barG1)" stroke="#000" stroke-width="1.6"/>
<rect x="757.1" y="475.3" width="43" height="180.3" fill="url(#barG1)" stroke="#000" stroke-width="1.6"/>
<rect x="841.6" y="405.2" width="43.3" height="250.4" fill="url(#barG1)" stroke="#000" stroke-width="1.6"/>
<rect x="926.6" y="351.6" width="43.3" height="304" fill="url(#barG1)" stroke="#000" stroke-width="1.6"/>
<g><clipPath id="pgc1"><rect x="572.3" y="328.7" width="109.8" height="109.1"/></clipPath><radialGradient id="pgg1"><stop offset="0" stop-color="#0fb672"/><stop offset="0.55" stop-color="#17b98c"/><stop offset="1" stop-color="#22c2c4"/></radialGradient><g clip-path="url(#pgc1)"><rect x="570.3" y="326.7" width="113.8" height="113.1" fill="#0b3ccb" /><rect x="621.7" y="326.7" width="62.6" height="113.1" fill="#0a34b4" opacity="0.55"/><g filter="url(#soft)"><rect x="576.2" y="332.6" width="18" height="18" fill="#1761e2" rx="1.6"/><rect x="597.5" y="332.6" width="19" height="18" fill="#1867e0" rx="1.6"/><rect x="619.4" y="332.6" width="18.5" height="18" fill="#1f93d2" rx="1.6"/><rect x="622.4" y="335.6" width="12.5" height="12" fill="#1f9ec4" rx="2" opacity="0.7"/><rect x="640.7" y="332.6" width="18.5" height="18" fill="url(#pgg1)" rx="1.6"/><rect x="661.5" y="332.6" width="18" height="18" fill="url(#pgg1)" rx="1.6"/><rect x="576.2" y="354.5" width="18" height="18" fill="#1761e2" rx="1.6"/><rect x="597.5" y="354.5" width="19" height="18" fill="#1867e0" rx="1.6"/><rect x="619.4" y="354.5" width="18.5" height="18" fill="#1f93d2" rx="1.6"/><rect x="622.4" y="357.5" width="12.5" height="12" fill="#1f9ec4" rx="2" opacity="0.7"/><rect x="640.7" y="354.5" width="18.5" height="18" fill="url(#pgg1)" rx="1.6"/><rect x="661.5" y="354.5" width="18" height="18" fill="url(#pgg1)" rx="1.6"/><rect x="576.2" y="375.3" width="18" height="18" fill="#1761e2" rx="1.6"/><rect x="597.5" y="375.3" width="19" height="18" fill="#1867e0" rx="1.6"/><rect x="619.4" y="375.3" width="18.5" height="18" fill="#1f93d2" rx="1.6"/><rect x="622.4" y="378.3" width="12.5" height="12" fill="#1f9ec4" rx="2" opacity="0.7"/><rect x="640.7" y="375.3" width="18.5" height="18" fill="url(#pgg1)" rx="1.6"/><rect x="661.5" y="375.3" width="18" height="18" fill="url(#pgg1)" rx="1.6"/><rect x="576.2" y="396.6" width="18" height="18" fill="#1761e2" rx="1.6"/><rect x="597.5" y="396.6" width="19" height="18" fill="#1867e0" rx="1.6"/><rect x="619.4" y="396.6" width="18.5" height="18" fill="#1f93d2" rx="1.6"/><rect x="622.4" y="399.6" width="12.5" height="12" fill="#1f9ec4" rx="2" opacity="0.7"/><rect x="640.7" y="396.6" width="18.5" height="18" fill="url(#pgg1)" rx="1.6"/><rect x="661.5" y="396.6" width="18" height="18" fill="url(#pgg1)" rx="1.6"/><rect x="576.2" y="417.9" width="18" height="17.4" fill="#1761e2" rx="1.6"/><rect x="597.5" y="417.9" width="19" height="17.4" fill="#1867e0" rx="1.6"/><rect x="619.4" y="417.9" width="18.5" height="17.4" fill="#1f93d2" rx="1.6"/><rect x="622.4" y="420.9" width="12.5" height="11.4" fill="#1f9ec4" rx="2" opacity="0.7"/><rect x="640.7" y="417.9" width="18.5" height="17.4" fill="url(#pgg1)" rx="1.6"/><rect x="661.5" y="417.9" width="18" height="17.4" fill="url(#pgg1)" rx="1.6"/></g></g></g>
<rect x="572.8" y="424.5" width="55.5" height="6.8" fill="#fff" />
<rect x="572.5" y="328.3" width="109.9" height="23.5" rx="1.5" fill="none" stroke="#d31d8c" stroke-width="6.5" stroke-dasharray="19.9 6.8" stroke-dashoffset="10.5"/>
<line x1="613.6" y1="603" x2="689" y2="530.8" stroke="#2171b5" stroke-width="2.4" /><line x1="699.2" y1="522.4" x2="773.2" y2="469.8" stroke="#2171b5" stroke-width="2.4" /><line x1="784" y1="462.3" x2="858" y2="411.6" stroke="#2171b5" stroke-width="2.4" /><line x1="868.4" y1="403.6" x2="943.4" y2="340.6" stroke="#2171b5" stroke-width="2.4" /><rect x="604.3" y="603.1" width="9" height="9" fill="#2171b5" /><rect x="689.3" y="521.7" width="9" height="9" fill="#2171b5" /><rect x="774.1" y="461.5" width="9" height="9" fill="#2171b5" /><rect x="858.9" y="403.4" width="9" height="9" fill="#2171b5" /><rect x="943.9" y="331.8" width="9" height="9" fill="#2171b5" />
<line x1="567" y1="321" x2="990.4" y2="321" stroke="#000" stroke-width="2.4" />
<line x1="566" y1="655.6" x2="991.4" y2="655.6" stroke="#000" stroke-width="2.8" />
<line x1="567" y1="319.8" x2="567" y2="657" stroke="#c00018" stroke-width="2.4" />
<line x1="990.4" y1="319.8" x2="990.4" y2="657" stroke="#1868e6" stroke-width="2.6" />
<line x1="560.5" y1="321" x2="567" y2="321" stroke="#c00018" stroke-width="2.2" />
<line x1="990.4" y1="321" x2="996.9" y2="321" stroke="#1868e6" stroke-width="2.2" />
<line x1="560.5" y1="655.6" x2="567" y2="655.6" stroke="#c00018" stroke-width="2.2" />
<line x1="990.4" y1="655.6" x2="996.9" y2="655.6" stroke="#1868e6" stroke-width="2.2" />
<line x1="563.5" y1="488" x2="567" y2="488" stroke="#c00018" stroke-width="2" />
<line x1="990.4" y1="488" x2="993.9" y2="488" stroke="#1868e6" stroke-width="2" />
<line x1="608.8" y1="655.6" x2="608.8" y2="659" stroke="#000" stroke-width="2" />
<line x1="693.8" y1="655.6" x2="693.8" y2="659" stroke="#000" stroke-width="2" />
<line x1="778.6" y1="655.6" x2="778.6" y2="659" stroke="#000" stroke-width="2" />
<line x1="863.4" y1="655.6" x2="863.4" y2="659" stroke="#000" stroke-width="2" />
<line x1="948.4" y1="655.6" x2="948.4" y2="659" stroke="#000" stroke-width="2" />
<text transform="translate(556.9 329.2) scale(1 1.04)" font-size="25.6" class="r" text-anchor="end" >4000</text>
<text transform="translate(556.9 663.4) scale(1 1.04)" font-size="25.6" class="r" text-anchor="end" >0</text>
<text transform="translate(1001 328.7) scale(1 1.04)" font-size="25.2" class="bl" >10000</text>
<text transform="translate(1001.3 663.4) scale(1 1.04)" font-size="25.6" class="bl" >0</text>
<text transform="translate(607.9 684.8) scale(1 1.04)" font-size="25.6" text-anchor="middle" >1</text>
<text transform="translate(692.9 684.8) scale(1 1.04)" font-size="25.6" text-anchor="middle" >2</text>
<text transform="translate(777.7 684.8) scale(1 1.04)" font-size="25.6" text-anchor="middle" >3</text>
<text transform="translate(862.5 684.8) scale(1 1.04)" font-size="25.6" text-anchor="middle" >4</text>
<text transform="translate(947.5 684.8) scale(1 1.04)" font-size="25.6" text-anchor="middle" >5</text>
<text transform="translate(778.6 708.6) scale(1 1)" font-size="25" text-anchor="middle" >Patch</text>
<text transform="translate(532 488) rotate(-90)" font-size="25.1" text-anchor="middle" class="r" >CPL intensity</text>
<text transform="translate(1045 499) rotate(-90)" font-size="25.1" text-anchor="middle" class="bl" >FL intensity</text>
<rect x="1178.1" y="335.9" width="43" height="152.6" fill="url(#barG2)" stroke="#000" stroke-width="1.6"/>
<rect x="1262.9" y="380.5" width="43.4" height="108" fill="url(#barG2)" stroke="#000" stroke-width="1.6"/>
<rect x="1433" y="488.5" width="42.9" height="105.7" fill="url(#barG2)" stroke="#000" stroke-width="1.6"/>
<rect x="1518.1" y="488.5" width="43.1" height="148.5" fill="url(#barG2)" stroke="#000" stroke-width="1.6"/>
<line x1="1348" y1="487.2" x2="1391" y2="487.2" stroke="#000" stroke-width="1.2" />
<g><clipPath id="pgc2"><rect x="1163.9" y="538.3" width="109.1" height="109.1"/></clipPath><radialGradient id="pgg2"><stop offset="0" stop-color="#0fb672"/><stop offset="0.55" stop-color="#17b98c"/><stop offset="1" stop-color="#22c2c4"/></radialGradient><g clip-path="url(#pgc2)"><rect x="1161.9" y="536.3" width="113.1" height="113.1" fill="#0b3ccb" /><rect x="1213" y="536.3" width="62.2" height="113.1" fill="#0a34b4" opacity="0.55"/><g filter="url(#soft)"><rect x="1167.8" y="542.2" width="17.9" height="18" fill="#1761e2" rx="1.6"/><rect x="1188.9" y="542.2" width="18.9" height="18" fill="#1867e0" rx="1.6"/><rect x="1210.7" y="542.2" width="18.4" height="18" fill="#1f93d2" rx="1.6"/><rect x="1213.7" y="545.2" width="12.4" height="12" fill="#1f9ec4" rx="2" opacity="0.7"/><rect x="1231.9" y="542.2" width="18.4" height="18" fill="url(#pgg2)" rx="1.6"/><rect x="1252.5" y="542.2" width="17.9" height="18" fill="url(#pgg2)" rx="1.6"/><rect x="1167.8" y="564.1" width="17.9" height="18" fill="#1761e2" rx="1.6"/><rect x="1188.9" y="564.1" width="18.9" height="18" fill="#1867e0" rx="1.6"/><rect x="1210.7" y="564.1" width="18.4" height="18" fill="#1f93d2" rx="1.6"/><rect x="1213.7" y="567.1" width="12.4" height="12" fill="#1f9ec4" rx="2" opacity="0.7"/><rect x="1231.9" y="564.1" width="18.4" height="18" fill="url(#pgg2)" rx="1.6"/><rect x="1252.5" y="564.1" width="17.9" height="18" fill="url(#pgg2)" rx="1.6"/><rect x="1167.8" y="584.9" width="17.9" height="18" fill="#1761e2" rx="1.6"/><rect x="1188.9" y="584.9" width="18.9" height="18" fill="#1867e0" rx="1.6"/><rect x="1210.7" y="584.9" width="18.4" height="18" fill="#1f93d2" rx="1.6"/><rect x="1213.7" y="587.9" width="12.4" height="12" fill="#1f9ec4" rx="2" opacity="0.7"/><rect x="1231.9" y="584.9" width="18.4" height="18" fill="url(#pgg2)" rx="1.6"/><rect x="1252.5" y="584.9" width="17.9" height="18" fill="url(#pgg2)" rx="1.6"/><rect x="1167.8" y="606.2" width="17.9" height="18" fill="#1761e2" rx="1.6"/><rect x="1188.9" y="606.2" width="18.9" height="18" fill="#1867e0" rx="1.6"/><rect x="1210.7" y="606.2" width="18.4" height="18" fill="#1f93d2" rx="1.6"/><rect x="1213.7" y="609.2" width="12.4" height="12" fill="#1f9ec4" rx="2" opacity="0.7"/><rect x="1231.9" y="606.2" width="18.4" height="18" fill="url(#pgg2)" rx="1.6"/><rect x="1252.5" y="606.2" width="17.9" height="18" fill="url(#pgg2)" rx="1.6"/><rect x="1167.8" y="627.5" width="17.9" height="17.4" fill="#1761e2" rx="1.6"/><rect x="1188.9" y="627.5" width="18.9" height="17.4" fill="#1867e0" rx="1.6"/><rect x="1210.7" y="627.5" width="18.4" height="17.4" fill="#1f93d2" rx="1.6"/><rect x="1213.7" y="630.5" width="12.4" height="11.4" fill="#1f9ec4" rx="2" opacity="0.7"/><rect x="1231.9" y="627.5" width="18.4" height="17.4" fill="url(#pgg2)" rx="1.6"/><rect x="1252.5" y="627.5" width="17.9" height="17.4" fill="url(#pgg2)" rx="1.6"/></g></g></g>
<rect x="1164" y="634" width="55" height="6.8" fill="#fff" />
<rect x="1249.8" y="538" width="22.9" height="109" rx="1.5" fill="none" stroke="#d31d8c" stroke-width="6.5" stroke-dasharray="19.7 6.68" stroke-dashoffset="22"/>
<line x1="1206.2" y1="388.2" x2="1278" y2="373.6" stroke="#2171b5" stroke-width="2.4" /><line x1="1290.9" y1="374" x2="1363.2" y2="393.6" stroke="#2171b5" stroke-width="2.4" /><line x1="1376.2" y1="394.9" x2="1447.8" y2="390.5" stroke="#2171b5" stroke-width="2.4" /><line x1="1461" y1="389.5" x2="1533" y2="383" stroke="#2171b5" stroke-width="2.4" /><rect x="1195.2" y="385" width="9" height="9" fill="#2171b5" /><rect x="1280" y="367.8" width="9" height="9" fill="#2171b5" /><rect x="1365.1" y="390.8" width="9" height="9" fill="#2171b5" /><rect x="1449.9" y="385.6" width="9" height="9" fill="#2171b5" /><rect x="1535.1" y="377.9" width="9" height="9" fill="#2171b5" />
<line x1="1157.6" y1="321" x2="1582.6" y2="321" stroke="#000" stroke-width="2.4" />
<line x1="1156.6" y1="656" x2="1583.6" y2="656" stroke="#000" stroke-width="2.8" />
<line x1="1157.6" y1="488.5" x2="1582.6" y2="488.5" stroke="#000" stroke-width="2.8" />
<line x1="1157.6" y1="319.8" x2="1157.6" y2="657.4" stroke="#c00018" stroke-width="2.4" />
<line x1="1582.6" y1="319.8" x2="1582.6" y2="657.4" stroke="#1868e6" stroke-width="2.6" />
<line x1="1151.1" y1="321" x2="1157.6" y2="321" stroke="#c00018" stroke-width="2.2" />
<line x1="1151.1" y1="488.5" x2="1157.6" y2="488.5" stroke="#c00018" stroke-width="2.2" />
<line x1="1151.1" y1="656" x2="1157.6" y2="656" stroke="#c00018" stroke-width="2.2" />
<line x1="1582.6" y1="321" x2="1589.1" y2="321" stroke="#1868e6" stroke-width="2.2" />
<line x1="1582.6" y1="656" x2="1589.1" y2="656" stroke="#1868e6" stroke-width="2.2" />
<line x1="1582.6" y1="488.5" x2="1586.1" y2="488.5" stroke="#1868e6" stroke-width="2" />
<line x1="1154.1" y1="404.5" x2="1157.6" y2="404.5" stroke="#c00018" stroke-width="2" />
<line x1="1154.1" y1="571.8" x2="1157.6" y2="571.8" stroke="#c00018" stroke-width="2" />
<line x1="1199.7" y1="656" x2="1199.7" y2="659.4" stroke="#000" stroke-width="2" />
<line x1="1284.5" y1="656" x2="1284.5" y2="659.4" stroke="#000" stroke-width="2" />
<line x1="1369.6" y1="656" x2="1369.6" y2="659.4" stroke="#000" stroke-width="2" />
<line x1="1454.4" y1="656" x2="1454.4" y2="659.4" stroke="#000" stroke-width="2" />
<line x1="1539.6" y1="656" x2="1539.6" y2="659.4" stroke="#000" stroke-width="2" />
<text transform="translate(1146 329.2) scale(1 1.04)" font-size="25.6" class="r" text-anchor="end" >4000</text>
<text transform="translate(1146 496) scale(1 1.04)" font-size="25.6" class="r" text-anchor="end" >0</text>
<text transform="translate(1146.8 663.6) scale(1 1.04)" font-size="25.6" class="r" text-anchor="end" >−4000</text>
<text transform="translate(1592.7 328.7) scale(1 1.04)" font-size="25.1" class="bl" >12000</text>
<text transform="translate(1592.3 663.6) scale(1 1.04)" font-size="25.6" class="bl" >0</text>
<text transform="translate(1197.7 684.8) scale(1 1.04)" font-size="25.6" text-anchor="middle" >5</text>
<text transform="translate(1282.5 684.8) scale(1 1.04)" font-size="25.6" text-anchor="middle" >6</text>
<text transform="translate(1367.6 684.8) scale(1 1.04)" font-size="25.6" text-anchor="middle" >7</text>
<text transform="translate(1452.4 684.8) scale(1 1.04)" font-size="25.6" text-anchor="middle" >8</text>
<text transform="translate(1537.6 684.8) scale(1 1.04)" font-size="25.6" text-anchor="middle" >9</text>
<text transform="translate(1369.5 708.6) scale(1 1)" font-size="25" text-anchor="middle" >Patch</text>
<text transform="translate(1114.5 478) rotate(-90)" font-size="25.1" text-anchor="middle" class="r" >CPL intensity</text>
<text transform="translate(1630.5 476) rotate(-90)" font-size="25.1" text-anchor="middle" class="bl" >FL intensity</text>
</g>
<!-- panel_c -->
<g id="panel-c">
<text transform="translate(9.9 750.5) scale(1 1)" font-size="58" >c</text>
<clipPath id="clipC"><rect x="124.7" y="728" width="451.1" height="362.8"/></clipPath>
<g clip-path="url(#clipC)">
<path d="M124.7,1077.9C125.5,1077.5 127.2,1077.5 129.4,1075.7C131.6,1073.9 134.8,1070.7 138,1067.1C141.3,1063.5 145.2,1059.2 148.8,1054.1C152.4,1049.1 156,1042.4 159.6,1036.9C163.2,1031.3 166.8,1026.1 170.4,1020.7C174,1015.3 177.6,1009.2 181.2,1004.5C184.8,999.8 188.7,995.4 192,992.7C195.2,990 197.7,989.1 200.6,988.3C203.5,987.6 206.3,987.8 209.2,988.3C212.1,988.9 214.6,990.3 217.9,991.6C221.1,992.8 225,994.7 228.6,995.9C232.2,997 235.8,997.8 239.4,998.5C243,999.2 246.6,999.5 250.2,1000.2C253.8,1000.9 257.8,1001.5 261,1002.8C264.2,1004.1 266.7,1005.1 269.6,1007.8C272.5,1010.4 275.4,1014.9 278.2,1018.5C281.1,1022.1 284,1026.5 286.9,1029.3C289.8,1032.2 292.6,1034.2 295.5,1035.8C298.4,1037.4 301.3,1037.8 304.1,1039C307,1040.3 309.9,1041.7 312.8,1043.3C315.6,1045 318.5,1047.3 321.4,1048.7C324.3,1050.2 327.1,1051.1 330,1052C332.9,1052.9 335.8,1053.5 338.6,1054.1C341.5,1054.8 345.3,1055.3 347.3,1055.9C349.3,1056.4 348.4,1056.4 350.8,1057.4C353.2,1058.3 358,1060.2 361.6,1061.7C365.2,1063.1 368.8,1064.6 372.4,1066C376,1067.4 379.5,1068.7 383.1,1070.3C386.7,1071.9 390.3,1074.1 393.9,1075.7C397.5,1077.3 401.5,1079.2 404.7,1080C407.9,1080.8 410.5,1080.5 413.3,1080.4C416.2,1080.4 419.1,1079.5 422,1079.6C424.8,1079.7 427.4,1080.3 430.6,1081.1C433.8,1081.9 437.8,1083.4 441.4,1084.3C445,1085.2 447.5,1085.9 452.2,1086.5C456.8,1087 463,1087.3 469.4,1087.6C475.9,1087.8 483.8,1088.1 491,1088C498.2,1087.9 507.2,1087 512.6,1086.9C518,1086.9 519.8,1087.3 523.3,1087.8C526.9,1088.2 528.7,1089.5 534.1,1089.7C539.5,1089.9 548.9,1089.6 555.7,1089.1C562.5,1088.5 571.9,1086.9 575.1,1086.5 L575.8,1090.8 L124.7,1090.8 Z" fill="#cfdff0"/>
<path d="M124.7,1077.9C125.5,1077.5 127.2,1077.5 129.4,1075.7C131.6,1073.9 134.8,1070.7 138,1067.1C141.3,1063.5 145.2,1059.2 148.8,1054.1C152.4,1049.1 156,1042.4 159.6,1036.9C163.2,1031.3 166.8,1026.1 170.4,1020.7C174,1015.3 177.6,1009.2 181.2,1004.5C184.8,999.8 188.7,995.4 192,992.7C195.2,990 197.7,989.1 200.6,988.3C203.5,987.6 206.3,987.8 209.2,988.3C212.1,988.9 214.6,990.3 217.9,991.6C221.1,992.8 225,994.7 228.6,995.9C232.2,997 235.8,997.8 239.4,998.5C243,999.2 246.6,999.5 250.2,1000.2C253.8,1000.9 257.8,1001.5 261,1002.8C264.2,1004.1 266.7,1005.1 269.6,1007.8C272.5,1010.4 275.4,1014.9 278.2,1018.5C281.1,1022.1 284,1026.5 286.9,1029.3C289.8,1032.2 292.6,1034.2 295.5,1035.8C298.4,1037.4 301.3,1037.8 304.1,1039C307,1040.3 309.9,1041.7 312.8,1043.3C315.6,1045 318.5,1047.3 321.4,1048.7C324.3,1050.2 327.1,1051.1 330,1052C332.9,1052.9 335.8,1053.5 338.6,1054.1C341.5,1054.8 345.3,1055.3 347.3,1055.9C349.3,1056.4 348.4,1056.4 350.8,1057.4C353.2,1058.3 358,1060.2 361.6,1061.7C365.2,1063.1 368.8,1064.6 372.4,1066C376,1067.4 379.5,1068.7 383.1,1070.3C386.7,1071.9 390.3,1074.1 393.9,1075.7C397.5,1077.3 401.5,1079.2 404.7,1080C407.9,1080.8 410.5,1080.5 413.3,1080.4C416.2,1080.4 419.1,1079.5 422,1079.6C424.8,1079.7 427.4,1080.3 430.6,1081.1C433.8,1081.9 437.8,1083.4 441.4,1084.3C445,1085.2 447.5,1085.9 452.2,1086.5C456.8,1087 463,1087.3 469.4,1087.6C475.9,1087.8 483.8,1088.1 491,1088C498.2,1087.9 507.2,1087 512.6,1086.9C518,1086.9 519.8,1087.3 523.3,1087.8C526.9,1088.2 528.7,1089.5 534.1,1089.7C539.5,1089.9 548.9,1089.6 555.7,1089.1C562.5,1088.5 571.9,1086.9 575.1,1086.5" fill="none" stroke="#1c1cf0" stroke-width="2.7" stroke-dasharray="8.4 7.6" stroke-linecap="round"/>
<path d="M131.1,1089.9C131.6,1087.9 132.6,1083.8 134.2,1077.9C135.7,1071.9 137,1064.2 140.2,1054.1C143.4,1044.1 149.2,1027.5 153.1,1017.5C157.1,1007.4 160.3,1001.3 163.9,993.7C167.5,986.2 171.1,979 174.7,972.2C178.3,965.3 181.9,958.5 185.5,952.8C189.1,947 193,941.4 196.3,937.7C199.5,933.9 201.9,931.9 204.9,930.1C208,928.3 211.4,927 214.6,926.9C217.9,926.7 220.9,927.4 224.3,929C227.7,930.6 231.5,933.3 235.1,936.6C238.7,939.8 242.3,944.3 245.9,948.4C249.5,952.6 253.1,957.1 256.7,961.4C260.3,965.7 263.9,970 267.5,974.3C271.1,978.6 274.7,983.3 278.2,987.3C281.8,991.2 285.4,994.8 289,998.1C292.6,1001.3 296.2,1004.2 299.8,1006.7C303.4,1009.2 307,1011 310.6,1013.1C314.2,1015.3 317.8,1017.8 321.4,1019.6C325,1021.4 328.6,1022.6 332.2,1023.9C335.8,1025.3 339.5,1026.6 343,1027.8C346.4,1029.1 349.1,1030 352.9,1031.5C356.8,1032.9 361.6,1034.9 365.9,1036.4C370.2,1038 373.8,1039.5 378.8,1040.8C383.9,1042 390.3,1042.9 396.1,1043.8C401.8,1044.6 407.6,1045.4 413.3,1045.9C419.1,1046.5 424.8,1046.9 430.6,1047.2C436.3,1047.5 442.1,1047.4 447.9,1047.7C453.6,1047.9 459.4,1048.5 465.1,1048.7C470.9,1049 476.6,1049.1 482.4,1049.4C488.1,1049.6 493.9,1049.8 499.6,1050.3C505.4,1050.7 511.1,1051.3 516.9,1052C522.6,1052.6 528.4,1053.4 534.1,1054.1C539.9,1054.9 546.4,1055.6 551.4,1056.3C556.4,1057 560.4,1057.8 564.3,1058.4C568.3,1059.1 573.3,1059.9 575.1,1060.2" fill="none" stroke="#0d4f9e" stroke-width="2.5"/>
<path d="M133.3,1089.9C133.7,1087.9 134.3,1083.8 135.9,1077.9C137.5,1071.9 139.9,1063.1 142.8,1054.1C145.7,1045.1 149.6,1033.3 153.1,1023.9C156.7,1014.6 160.3,1006.7 163.9,998.1C167.5,989.4 171.1,981.3 174.7,972.2C178.3,963 181.9,952.2 185.5,943C189.1,933.9 192.7,924.5 196.3,917.2C199.9,909.8 203.5,903.6 207.1,898.8C210.7,894 214.4,890.7 217.9,888.5C221.3,886.2 224,885.1 227.6,885.2C231.2,885.3 235.6,887 239.4,889.1C243.2,891.2 246.6,894.5 250.2,897.7C253.8,901 257.4,904.8 261,908.5C264.6,912.3 268.2,916.4 271.8,920.4C275.4,924.4 279,928.3 282.6,932.3C286.2,936.2 289.8,940 293.3,944.1C296.9,948.3 300.5,952.8 304.1,957.1C307.7,961.4 311.3,965.7 314.9,970C318.5,974.3 322.1,978.8 325.7,983C329.3,987.1 332.9,991 336.5,994.8C340.1,998.6 344.5,1002.9 347.3,1005.6C350,1008.3 349.8,1007.9 352.9,1011C356,1014 361.6,1020 365.9,1023.9C370.2,1027.9 373.8,1031.5 378.8,1034.7C383.9,1038 390.3,1040.3 396.1,1043.3C401.8,1046.4 407.6,1050.2 413.3,1053.1C419.1,1055.9 424.8,1058.3 430.6,1060.6C436.3,1062.9 442.1,1065.3 447.9,1067.1C453.6,1068.9 459.4,1070.1 465.1,1071.4C470.9,1072.6 476.6,1073.7 482.4,1074.6C488.1,1075.5 493.9,1076.1 499.6,1076.8C505.4,1077.4 511.1,1078 516.9,1078.5C522.6,1079 528.4,1079.6 534.1,1080C539.9,1080.4 544.6,1080.7 551.4,1081.1C558.2,1081.5 571.2,1082 575.1,1082.2" fill="none" stroke="#1a73e8" stroke-width="2.5"/>
<path d="M304.1,1089.9C305.6,1089.5 309.9,1089.2 312.8,1087.6C315.6,1085.9 318.5,1083.4 321.4,1080C324.3,1076.6 327.1,1072.5 330,1067.1C332.9,1061.7 335.9,1053.8 338.6,1047.7C341.4,1041.6 344.1,1036.5 346.5,1030.4C348.9,1024.3 350.8,1018.2 352.9,1011C355.1,1003.8 357.3,994.8 359.4,987.3C361.6,979.7 363.7,972.5 365.9,965.7C368,958.9 370.2,951.3 372.4,946.3C374.5,941.2 376.7,938 378.8,935.5C381,933 383.1,932 385.3,931.2C387.5,930.4 389.6,930.2 391.8,930.8C393.9,931.3 396.1,932.4 398.2,934.4C400.4,936.5 402.2,939.6 404.7,943C407.2,946.5 410.5,951 413.3,954.9C416.2,958.9 419.1,963.7 422,966.8C424.8,969.8 427.7,971.6 430.6,973.2C433.5,974.9 436,975.6 439.2,976.5C442.5,977.4 446.8,978.5 450,978.6C453.2,978.7 455.8,978 458.6,977.1C461.5,976.2 464.4,974.3 467.3,973.2C470.1,972.2 473.4,970.7 475.9,971.1C478.4,971.4 480.2,973.1 482.4,975.4C484.5,977.7 486.7,981.3 488.8,985.1C491,988.9 493.1,993.7 495.3,998.1C497.5,1002.4 499.6,1007.2 501.8,1011C503.9,1014.8 505.7,1018 508.2,1020.7C510.8,1023.4 514,1025.4 516.9,1027.2C519.8,1029 522.3,1030 525.5,1031.5C528.7,1032.9 533.1,1033.8 536.3,1035.8C539.5,1037.8 542,1040.7 544.9,1043.3C547.8,1046 550.7,1049.3 553.5,1052C556.4,1054.7 559.7,1057.5 562.2,1059.5C564.7,1061.5 566.5,1062.8 568.6,1063.8C570.8,1064.9 574,1065.6 575.1,1066 L575.8,1090.8 L304.1,1090.8 Z" fill="#c9ecd6" fill-opacity="0.8"/>
<path d="M304.1,1089.9C305.6,1089.5 309.9,1089.2 312.8,1087.6C315.6,1085.9 318.5,1083.4 321.4,1080C324.3,1076.6 327.1,1072.5 330,1067.1C332.9,1061.7 335.9,1053.8 338.6,1047.7C341.4,1041.6 344.1,1036.5 346.5,1030.4C348.9,1024.3 350.8,1018.2 352.9,1011C355.1,1003.8 357.3,994.8 359.4,987.3C361.6,979.7 363.7,972.5 365.9,965.7C368,958.9 370.2,951.3 372.4,946.3C374.5,941.2 376.7,938 378.8,935.5C381,933 383.1,932 385.3,931.2C387.5,930.4 389.6,930.2 391.8,930.8C393.9,931.3 396.1,932.4 398.2,934.4C400.4,936.5 402.2,939.6 404.7,943C407.2,946.5 410.5,951 413.3,954.9C416.2,958.9 419.1,963.7 422,966.8C424.8,969.8 427.7,971.6 430.6,973.2C433.5,974.9 436,975.6 439.2,976.5C442.5,977.4 446.8,978.5 450,978.6C453.2,978.7 455.8,978 458.6,977.1C461.5,976.2 464.4,974.3 467.3,973.2C470.1,972.2 473.4,970.7 475.9,971.1C478.4,971.4 480.2,973.1 482.4,975.4C484.5,977.7 486.7,981.3 488.8,985.1C491,988.9 493.1,993.7 495.3,998.1C497.5,1002.4 499.6,1007.2 501.8,1011C503.9,1014.8 505.7,1018 508.2,1020.7C510.8,1023.4 514,1025.4 516.9,1027.2C519.8,1029 522.3,1030 525.5,1031.5C528.7,1032.9 533.1,1033.8 536.3,1035.8C539.5,1037.8 542,1040.7 544.9,1043.3C547.8,1046 550.7,1049.3 553.5,1052C556.4,1054.7 559.7,1057.5 562.2,1059.5C564.7,1061.5 566.5,1062.8 568.6,1063.8C570.8,1064.9 574,1065.6 575.1,1066" fill="none" stroke="#7fe000" stroke-width="2.7" stroke-dasharray="8.4 7.6" stroke-linecap="round"/>
</g>
<linearGradient id="uvon" x1="0" y1="0" x2="1" y2="1"><stop offset="0" stop-color="#2c34c8"/><stop offset="0.35" stop-color="#292dc0"/><stop offset="1" stop-color="#2425ae"/></linearGradient>
<rect x="138.4" y="755.9" width="109.7" height="108.9" fill="url(#uvon)" />
<g opacity="0.9"><path d="M149.8,798.3C151.2,798.9 155.8,801.9 158.5,801.7C161.2,801.4 163.8,799 166,797C168.2,794.9 169.5,791.2 171.9,789.4C174.2,787.7 177.8,786.3 180.2,786.6C182.7,786.9 185.4,789.1 186.6,791.1C187.9,793.1 188.3,796.1 187.8,798.6C187.2,801.2 185.2,803.8 183.3,806.2C181.3,808.5 178.2,811 176.1,812.9C173.9,814.7 172.6,816.6 170.2,817.4C167.8,818.2 164.6,818 161.8,817.4C159,816.8 155.5,815.4 153.4,813.7C151.4,812 150.4,808.1 149.8,807 Z" fill="#4a22e6" opacity="0.6"/><path d="M149.8,798.3C151.2,798.9 155.8,801.9 158.5,801.7C161.2,801.4 163.8,799 166,797C168.2,794.9 169.5,791.2 171.9,789.4C174.2,787.7 177.8,786.3 180.2,786.6C182.7,786.9 185.4,789.1 186.6,791.1C187.9,793.1 188.3,796.1 187.8,798.6C187.2,801.2 185.2,803.8 183.3,806.2C181.3,808.5 178.2,811 176.1,812.9C173.9,814.7 172.6,816.6 170.2,817.4C167.8,818.2 164.6,818 161.8,817.4C159,816.8 155.5,815.4 153.4,813.7C151.4,812 150.4,808.1 149.8,807 Z" fill="none" stroke="#7a3cff" stroke-width="1.6" stroke-dasharray="1.2 1.3" stroke-linecap="round"/><path d="M167.2,778.9C168,778.8 170.7,777.6 171.9,778.2C173,778.9 174.1,781.1 174.2,782.7C174.4,784.4 173.6,787.2 172.7,788.3C171.8,789.3 169.8,789.6 168.9,788.9C167.9,788.3 167.2,785.2 166.8,784.4 Z" fill="#4a22e6" opacity="0.85"/><path d="M167.8,815.4C168.7,815.4 172.5,813.2 173.2,815.4C173.9,817.6 172.3,824.7 171.9,828.8C171.4,832.8 170.9,837.9 170.5,839.7C170.1,841.5 169.8,841.5 169.5,839.7C169.2,837.9 169,830.6 168.9,828.8 Z" fill="#4a22e6" opacity="0.9"/><ellipse cx="164.3" cy="802" rx="5.2" ry="4.2" fill="none" stroke="#7a3cff" stroke-width="1.3" stroke-dasharray="1.1 1" transform="rotate(-20 164.3 802)"/><path d="M173.9,792.8C174.9,792.4 178.5,790.1 180.2,790.3C182,790.4 183.9,792.1 184.4,793.6C184.9,795.2 184.2,797.8 183.3,799.5C182.3,801.2 179.3,803 178.6,803.7" fill="none" stroke="#7a3cff" stroke-width="1.2" stroke-dasharray="1 1.2"/></g>
<g opacity="0.9" fill="none" stroke-linecap="round"><path d="M208.7,792.8C210.4,792 215.4,788.8 218.8,788.3C222.1,787.7 226,787.7 228.8,789.4C231.6,791.2 234,794.9 235.5,798.6C237,802.4 237.8,807.6 238,812C238.2,816.5 238.1,821.9 236.8,825.4C235.6,829 233.2,832 230.5,833.5C227.8,834.9 223.8,834.6 220.4,834.1C217.1,833.6 213.2,831.8 210.4,830.5C207.6,829.1 205.4,828.5 203.7,826.3C202,824 200.4,820.6 200,817.1C199.6,813.6 200.6,808.5 201.2,805.3C201.8,802.1 202.4,799.9 203.7,797.8C204.9,795.7 207.9,793.6 208.7,792.8" stroke="#3a2ad8" stroke-width="4.6" opacity="0.8"/><path d="M208.7,792.8C210.4,792 215.4,788.8 218.8,788.3C222.1,787.7 226,787.7 228.8,789.4C231.6,791.2 234,794.9 235.5,798.6C237,802.4 237.8,807.6 238,812C238.2,816.5 238.1,821.9 236.8,825.4C235.6,829 233.2,832 230.5,833.5C227.8,834.9 223.8,834.6 220.4,834.1C217.1,833.6 213.2,831.8 210.4,830.5C207.6,829.1 205.4,828.5 203.7,826.3C202,824 200.4,820.6 200,817.1C199.6,813.6 200.6,808.5 201.2,805.3C201.8,802.1 202.4,799.9 203.7,797.8C204.9,795.7 207.9,793.6 208.7,792.8" stroke="#6a44ff" stroke-width="2.9" stroke-dasharray="0.5 2.3"/><path d="M217.1,798.6C218.6,799 224.1,798.7 226.3,800.7C228.5,802.6 229.9,806.8 230.2,810.4C230.4,813.9 229.6,819.4 228,822.1C226.4,824.8 222.9,826.8 220.4,826.8C217.9,826.8 214.6,824.5 212.9,822.1C211.2,819.6 210.2,815.1 210.1,812C209.9,809 210.9,805.9 212.1,803.7C213.2,801.4 216.3,799.5 217.1,798.6" stroke="#3a2ad8" stroke-width="3.7" opacity="0.75"/><path d="M217.1,798.6C218.6,799 224.1,798.7 226.3,800.7C228.5,802.6 229.9,806.8 230.2,810.4C230.4,813.9 229.6,819.4 228,822.1C226.4,824.8 222.9,826.8 220.4,826.8C217.9,826.8 214.6,824.5 212.9,822.1C211.2,819.6 210.2,815.1 210.1,812C209.9,809 210.9,805.9 212.1,803.7C213.2,801.4 216.3,799.5 217.1,798.6" stroke="#6a44ff" stroke-width="2.3" stroke-dasharray="0.5 2.1"/><circle cx="219.6" cy="808.7" r="1.6" stroke="#6a44ff" stroke-width="0.9"/><circle cx="223.8" cy="815.4" r="1.6" stroke="#6a44ff" stroke-width="0.9"/><circle cx="217.1" cy="817.1" r="1.6" stroke="#6a44ff" stroke-width="0.9"/><circle cx="221.3" cy="803.7" r="1.6" stroke="#6a44ff" stroke-width="0.9"/></g>
<text transform="translate(155.2 780.6) scale(1 1)" font-size="21.5" class="w" text-anchor="middle" >i</text>
<text transform="translate(204.6 782.6) scale(1 1)" font-size="21.5" class="w" text-anchor="middle" >ii</text>
<rect x="184.9" y="849.4" width="56" height="7.5" fill="#fff" />
<rect x="289.1" y="755.9" width="108.9" height="108.9" fill="#010102" />
<clipPath id="cpOff"><rect x="289.1" y="755.9" width="108.9" height="108.9"/></clipPath><g clip-path="url(#cpOff)"><ellipse cx="368.5" cy="810" rx="33" ry="36" fill="#0a3a12" opacity="0.4" filter="url(#blur5)"/></g>
<g opacity="0.9"><path d="M297.1,798.3C298.6,798.9 303.1,801.9 305.8,801.7C308.6,801.4 311.2,799 313.4,797C315.6,794.9 316.9,791.2 319.2,789.4C321.6,787.7 325.2,786.3 327.6,786.6C330.1,786.9 332.7,789.1 334,791.1C335.2,793.1 335.7,796.1 335.2,798.6C334.6,801.2 332.6,803.8 330.6,806.2C328.7,808.5 325.6,811 323.4,812.9C321.3,814.7 319.9,816.6 317.6,817.4C315.2,818.2 312,818 309.2,817.4C306.4,816.8 302.8,815.4 300.8,813.7C298.8,812 297.8,808.1 297.1,807 Z" fill="#14348c" opacity="0.6"/><path d="M297.1,798.3C298.6,798.9 303.1,801.9 305.8,801.7C308.6,801.4 311.2,799 313.4,797C315.6,794.9 316.9,791.2 319.2,789.4C321.6,787.7 325.2,786.3 327.6,786.6C330.1,786.9 332.7,789.1 334,791.1C335.2,793.1 335.7,796.1 335.2,798.6C334.6,801.2 332.6,803.8 330.6,806.2C328.7,808.5 325.6,811 323.4,812.9C321.3,814.7 319.9,816.6 317.6,817.4C315.2,818.2 312,818 309.2,817.4C306.4,816.8 302.8,815.4 300.8,813.7C298.8,812 297.8,808.1 297.1,807 Z" fill="none" stroke="#2a5cd2" stroke-width="1.6" stroke-dasharray="1.2 1.3" stroke-linecap="round"/><path d="M314.6,778.9C315.3,778.8 318.1,777.6 319.2,778.2C320.4,778.9 321.5,781.1 321.6,782.7C321.7,784.4 321,787.2 320.1,788.3C319.2,789.3 317.2,789.6 316.2,788.9C315.3,788.3 314.6,785.2 314.2,784.4 Z" fill="#14348c" opacity="0.85"/><path d="M315.2,815.4C316.1,815.4 319.9,813.2 320.6,815.4C321.3,817.6 319.7,824.7 319.2,828.8C318.8,832.8 318.3,837.9 317.9,839.7C317.5,841.5 317.2,841.5 316.9,839.7C316.6,837.9 316.3,830.6 316.2,828.8 Z" fill="#14348c" opacity="0.9"/><ellipse cx="311.7" cy="802" rx="5.2" ry="4.2" fill="none" stroke="#2a5cd2" stroke-width="1.3" stroke-dasharray="1.1 1" transform="rotate(-20 311.7 802)"/><path d="M321.3,792.8C322.3,792.4 325.9,790.1 327.6,790.3C329.4,790.4 331.3,792.1 331.8,793.6C332.3,795.2 331.6,797.8 330.6,799.5C329.7,801.2 326.7,803 325.9,803.7" fill="none" stroke="#2a5cd2" stroke-width="1.2" stroke-dasharray="1 1.2"/></g>
<g opacity="1" fill="none" stroke-linecap="round"><path d="M356.9,792.8C358.6,792 363.6,788.8 367,788.3C370.3,787.7 374.2,787.7 377,789.4C379.8,791.2 382.2,794.9 383.7,798.6C385.3,802.4 386,807.6 386.2,812C386.5,816.5 386.3,821.9 385.1,825.4C383.8,829 381.4,832 378.7,833.5C376,834.9 372,834.6 368.7,834.1C365.3,833.6 361.4,831.8 358.6,830.5C355.8,829.1 353.6,828.5 351.9,826.3C350.2,824 348.6,820.6 348.2,817.1C347.8,813.6 348.8,808.5 349.4,805.3C350,802.1 350.6,799.9 351.9,797.8C353.2,795.7 356.1,793.6 356.9,792.8" stroke="#1c8c22" stroke-width="5" opacity="0.8"/><path d="M356.9,792.8C358.6,792 363.6,788.8 367,788.3C370.3,787.7 374.2,787.7 377,789.4C379.8,791.2 382.2,794.9 383.7,798.6C385.3,802.4 386,807.6 386.2,812C386.5,816.5 386.3,821.9 385.1,825.4C383.8,829 381.4,832 378.7,833.5C376,834.9 372,834.6 368.7,834.1C365.3,833.6 361.4,831.8 358.6,830.5C355.8,829.1 353.6,828.5 351.9,826.3C350.2,824 348.6,820.6 348.2,817.1C347.8,813.6 348.8,808.5 349.4,805.3C350,802.1 350.6,799.9 351.9,797.8C353.2,795.7 356.1,793.6 356.9,792.8" stroke="#3aee3a" stroke-width="3.1" stroke-dasharray="0.5 2.3"/><path d="M365.3,798.6C366.8,799 372.3,798.7 374.5,800.7C376.7,802.6 378.1,806.8 378.4,810.4C378.6,813.9 377.8,819.4 376.2,822.1C374.6,824.8 371.2,826.8 368.7,826.8C366.1,826.8 362.8,824.5 361.1,822.1C359.4,819.6 358.4,815.1 358.3,812C358.1,809 359.1,805.9 360.3,803.7C361.5,801.4 364.5,799.5 365.3,798.6" stroke="#1c8c22" stroke-width="4" opacity="0.75"/><path d="M365.3,798.6C366.8,799 372.3,798.7 374.5,800.7C376.7,802.6 378.1,806.8 378.4,810.4C378.6,813.9 377.8,819.4 376.2,822.1C374.6,824.8 371.2,826.8 368.7,826.8C366.1,826.8 362.8,824.5 361.1,822.1C359.4,819.6 358.4,815.1 358.3,812C358.1,809 359.1,805.9 360.3,803.7C361.5,801.4 364.5,799.5 365.3,798.6" stroke="#3aee3a" stroke-width="2.5" stroke-dasharray="0.5 2.1"/><circle cx="367.8" cy="808.7" r="1.6" stroke="#3aee3a" stroke-width="0.9"/><circle cx="372" cy="815.4" r="1.6" stroke="#3aee3a" stroke-width="0.9"/><circle cx="365.3" cy="817.1" r="1.6" stroke="#3aee3a" stroke-width="0.9"/><circle cx="369.5" cy="803.7" r="1.6" stroke="#3aee3a" stroke-width="0.9"/></g>
<text transform="translate(313.9 780.6) scale(1 1)" font-size="21.5" class="w" text-anchor="middle" >iii</text>
<text transform="translate(360.3 780.6) scale(1 1)" font-size="21.5" class="w" text-anchor="middle" >iv</text>
<rect x="336.8" y="849.4" width="55.8" height="7.5" fill="#fff" />
<text transform="translate(193.2 752.6) scale(1 1)" font-size="21.8" text-anchor="middle" >UV on</text>
<text transform="translate(343.5 751.8) scale(1 1)" font-size="22.2" text-anchor="middle" >UV off</text>
<line x1="254.8" y1="808.7" x2="275.7" y2="808.7" stroke="#000" stroke-width="2.7" /><polygon points="285.8,808.7 273.2,815.3 273.2,802.1" fill="#000" /><polygon points="244.7,808.7 257.3,802.1 257.3,815.3" fill="#000" />
<line x1="497.8" y1="747" x2="540.4" y2="747" stroke="#1a73e8" stroke-width="2.5" />
<line x1="497.8" y1="770.9" x2="540.4" y2="770.9" stroke="#0d4f9e" stroke-width="2.5" />
<rect x="498.2" y="784.4" width="42" height="21.4" fill="#cfdff0" />
<rect x="497.7" y="784.3" width="42.9" height="21.5" fill="none" stroke="#1a1aff" stroke-width="2.4" stroke-dasharray="9.6 14.2" stroke-linecap="round"/>
<rect x="498.2" y="808.6" width="42" height="21" fill="#d5efdf" />
<rect x="497.7" y="808.6" width="42.9" height="20.8" fill="none" stroke="#7fe000" stroke-width="2.4" stroke-dasharray="9.6 14.2" stroke-linecap="round"/>
<text transform="translate(545.4 753.7) scale(1 1)" font-size="19.5" >i</text>
<text transform="translate(545.4 777.7) scale(1 1)" font-size="19.5" >ii</text>
<text transform="translate(545.4 800.8) scale(1 1)" font-size="19.5" >iii</text>
<text transform="translate(545.4 824.7) scale(1 1)" font-size="19.5" >iv</text>
<rect x="124.7" y="728" width="451.1" height="362.8" fill="none" stroke="#000" stroke-width="2.6"/>
<line x1="117.7" y1="799.7" x2="124.7" y2="799.7" stroke="#000" stroke-width="2.4" />
<line x1="117.7" y1="945.5" x2="124.7" y2="945.5" stroke="#000" stroke-width="2.4" />
<line x1="117.7" y1="1090.8" x2="124.7" y2="1090.8" stroke="#000" stroke-width="2.4" />
<line x1="121.1" y1="873.2" x2="124.7" y2="873.2" stroke="#000" stroke-width="2" />
<line x1="121.1" y1="1017.8" x2="124.7" y2="1017.8" stroke="#000" stroke-width="2" />
<line x1="124.7" y1="1090.8" x2="124.7" y2="1097.8" stroke="#000" stroke-width="2.4" />
<line x1="349.6" y1="1090.8" x2="349.6" y2="1097.8" stroke="#000" stroke-width="2.4" />
<line x1="575.8" y1="1090.8" x2="575.8" y2="1097.8" stroke="#000" stroke-width="2.4" />
<line x1="237.3" y1="1090.8" x2="237.3" y2="1094.4" stroke="#000" stroke-width="2" />
<line x1="462.5" y1="1090.8" x2="462.5" y2="1094.4" stroke="#000" stroke-width="2" />
<text transform="translate(112.6 807.8) scale(1 1.04)" font-size="25.7" text-anchor="end" >200</text>
<text transform="translate(112.6 952.8) scale(1 1.04)" font-size="25.7" text-anchor="end" >100</text>
<text transform="translate(112.6 1098.8) scale(1 1.04)" font-size="25.7" text-anchor="end" >0</text>
<text transform="translate(123.5 1121.9) scale(1 1.04)" font-size="25.7" text-anchor="middle" >400</text>
<text transform="translate(349.9 1121.9) scale(1 1.04)" font-size="25.7" text-anchor="middle" >500</text>
<text transform="translate(574.8 1121.9) scale(1 1.04)" font-size="25.7" text-anchor="middle" >600</text>
<text transform="translate(343 1152.9) scale(1 1)" font-size="26.1" text-anchor="middle" >Wavelength (nm)</text>
<text transform="translate(60 908.5) rotate(-90)" font-size="26.1" text-anchor="middle" >CPL (mdeg)</text>
</g>
<!-- panel_d -->
<g id="panel-d">
<text transform="translate(601.4 765.4) scale(1 1)" font-size="58" >d</text>
<clipPath id="cp1"><rect x="664.1" y="744.1" width="147.9" height="147.7"/></clipPath><g clip-path="url(#cp1)"><linearGradient id="p1g" x1="0" y1="0" x2="0" y2="1"><stop offset="0" stop-color="#06104a"/><stop offset="0.3" stop-color="#050e42"/><stop offset="0.6" stop-color="#07134e"/><stop offset="1" stop-color="#091a68"/></linearGradient><rect x="664.1" y="744.1" width="147.9" height="147.7" fill="url(#p1g)" /><ellipse cx="664" cy="880" rx="30" ry="60" fill="#0c2a98" opacity="0.4" filter="url(#blur8)"/><polygon points="734.8,743.8 812,743.8 812,749.2 797.5,746.7 769,745.3" fill="#1838de" filter="url(#blur1)"/><polygon points="787.5,743.8 798.9,743.8 797.5,747.8 790.3,748.1" fill="#071040" /><path d="M662.8,789.1C664.4,789.5 669.6,789.8 672.1,791.3C674.6,792.7 676.6,794.9 677.8,797.7C679,800.4 679.5,804.6 679.2,807.6C679,810.7 677.6,813.6 676.4,816.2C675.2,818.8 673.5,820.9 672.1,823.3C670.7,825.7 669.4,828.5 667.8,830.4C666.3,832.3 663.7,834 662.8,834.7 Z" fill="#1652e6" filter="url(#blur1)"/><path d="M813.1,782.7C811.9,783.6 807.9,785.5 806,787.7C804.1,790 802.4,793.2 801.7,796.3C801,799.3 801.2,803.1 801.7,806.2C802.2,809.3 803.4,812.4 804.6,814.8C805.8,817.1 807.4,819.2 808.8,820.5C810.3,821.8 812.4,822.3 813.1,822.6 Z" fill="#1a5cec" filter="url(#blur1)"/><path d="M813.1,863.2C812.4,864.4 809.8,867.7 808.8,870.3C807.9,872.9 807.3,876 807.4,878.9C807.5,881.7 808.6,885.3 809.6,887.4C810.5,889.6 812.5,891 813.1,891.7 Z" fill="#1444d8" filter="url(#blur1)"/><polygon points="674.9,791.4 803.1,790 801.7,813.1 677.8,814.8" fill="#1656d8" /><filter id="gr11" x="0" y="0" width="100%" height="100%" color-interpolation-filters="sRGB"><feTurbulence type="fractalNoise" baseFrequency="0.8" numOctaves="2" seed="11" result="n"/><feColorMatrix in="n" type="matrix" values="0 0 0 0 0.25  0 0 0 0 0.75  0 0 0 0 1  0 0 0 2.6 -1.15"/><feComposite operator="in" in2="SourceGraphic"/></filter><polygon points="674.9,791.4 803.1,790 801.7,813.1 677.8,814.8" fill="#fff" filter="url(#gr11)" opacity="0.55"/><polygon points="674.9,791.4 803.1,790 803.1,792 674.9,793.4" fill="#2f8cf4" opacity="0.75"/><polygon points="677.8,811.9 801.7,810.2 801.7,813.1 677.8,814.8" fill="#36a4f8" opacity="0.85"/><text class="serif" x="679" y="812.6" font-size="31" textLength="120.5" lengthAdjust="spacingAndGlyphs" opacity="0.9" filter="url(#tsoft)"><tspan fill="#56c0f2">MOF</tspan><tspan fill="#38e4d2">CPL</tspan></text><circle cx="731" cy="826.8" r="0.9" fill="#2c6cf0" opacity="0.6"/><circle cx="739.2" cy="830.9" r="0.5" fill="#2c6cf0" opacity="0.7"/><circle cx="757.3" cy="861.2" r="0.4" fill="#2c6cf0" opacity="0.6"/><circle cx="677.5" cy="863.7" r="0.7" fill="#2c6cf0" opacity="0.4"/><circle cx="809.4" cy="886.6" r="0.7" fill="#2c6cf0" opacity="0.7"/><circle cx="687.4" cy="746.3" r="0.7" fill="#2c6cf0" opacity="0.4"/><circle cx="692.2" cy="779.8" r="0.4" fill="#2c6cf0" opacity="0.6"/><circle cx="729.3" cy="868.5" r="0.7" fill="#2c6cf0" opacity="0.7"/><circle cx="738" cy="841.9" r="0.6" fill="#2c6cf0" opacity="0.5"/><circle cx="811.7" cy="891.2" r="0.8" fill="#2c6cf0" opacity="0.8"/><circle cx="710.7" cy="778" r="0.5" fill="#2c6cf0" opacity="0.4"/><circle cx="777.4" cy="803.2" r="0.8" fill="#2c6cf0" opacity="0.6"/><circle cx="805.8" cy="869.2" r="0.4" fill="#2c6cf0" opacity="0.5"/><circle cx="798.7" cy="813.5" r="0.9" fill="#2c6cf0" opacity="0.6"/><circle cx="674.9" cy="837.1" r="0.8" fill="#2c6cf0" opacity="0.5"/><circle cx="677" cy="793.2" r="0.9" fill="#2c6cf0" opacity="0.8"/><circle cx="681.6" cy="780.5" r="0.5" fill="#2c6cf0" opacity="0.4"/><circle cx="782" cy="770.3" r="0.7" fill="#2c6cf0" opacity="0.6"/><circle cx="692.3" cy="852.2" r="0.5" fill="#2c6cf0" opacity="0.7"/><circle cx="681.3" cy="806.2" r="0.5" fill="#2c6cf0" opacity="0.5"/><circle cx="807.7" cy="862.8" r="0.6" fill="#2c6cf0" opacity="0.8"/><circle cx="695.3" cy="802.3" r="0.8" fill="#2c6cf0" opacity="0.7"/></g><rect x="727.2" y="874.2" width="74.3" height="7.1" fill="#fff" />
<clipPath id="cp2"><rect x="916" y="744.1" width="148.1" height="148.1"/></clipPath><g clip-path="url(#cp2)"><linearGradient id="p2g" x1="0" y1="0" x2="0" y2="1"><stop offset="0" stop-color="#0a1580"/><stop offset="0.3" stop-color="#070f5e"/><stop offset="0.7" stop-color="#050b4e"/><stop offset="1" stop-color="#040a46"/></linearGradient><rect x="916" y="744.1" width="148.1" height="148.1" fill="url(#p2g)" /><path d="M913.5,767.1C915.2,767.9 920.2,769.5 923.5,772C926.8,774.5 930.4,778.2 933.5,782C936.6,785.8 939.9,790.8 942,794.8C944.2,798.9 945.6,802 946.3,806.2C947,810.5 947.3,816.2 946.3,820.5C945.4,824.7 939.7,829.7 940.6,831.9C941.6,834 948,832.8 952,833.3C956,833.8 963.2,833.1 964.8,834.7C966.5,836.4 964.8,841.1 962,843.3C959.1,845.4 952.5,847.5 947.7,847.5C943,847.5 937.8,843.6 933.5,843.3C929.2,842.9 925.4,844.7 922.1,845.4C918.8,846.1 915,847.2 913.5,847.5 Z" fill="#2458f2" filter="url(#blur2)"/><ellipse cx="926.4" cy="803.4" rx="11" ry="20" fill="#3a6cff" opacity="0.6" filter="url(#blur3)"/><path d="M1066,775.6C1064.3,776.9 1059.3,780.2 1056,783.4C1052.7,786.6 1048.6,791 1046,794.8C1043.4,798.6 1040.6,802 1040.3,806.2C1040.1,810.5 1043.7,816 1044.6,820.5C1045.6,825 1047.5,830.9 1046,833.3C1044.6,835.7 1039.6,834.4 1036.1,834.7C1032.5,835.1 1025.8,834.2 1024.7,835.4C1023.5,836.6 1026.1,840.5 1028.9,841.8C1031.8,843.1 1037.7,842.5 1041.8,843.3C1045.8,844 1049.1,844.3 1053.1,846.1C1057.2,847.9 1063.8,852.6 1066,853.9 Z" fill="#2458f2" filter="url(#blur2)"/><ellipse cx="1057.4" cy="809.1" rx="9" ry="20" fill="#3a6cff" opacity="0.6" filter="url(#blur3)"/><path d="M940.6,801.7C944.2,800.1 953.7,794.2 962,792.3C970.3,790.4 981,790.1 990.5,790.3C1000,790.4 1008.5,790.7 1019,793.1C1029.4,795.5 1047.5,802.6 1053.1,804.5 L1047.5,837.8C1042.7,836.9 1028.5,833.4 1019,832.2C1009.5,830.9 1000,830.5 990.5,830.2C981,829.8 971,829.3 962,830.2C953,831 940.6,834.2 936.3,835 Z" fill="#1c66e4"/><filter id="gr22" x="0" y="0" width="100%" height="100%" color-interpolation-filters="sRGB"><feTurbulence type="fractalNoise" baseFrequency="0.8" numOctaves="2" seed="22" result="n"/><feColorMatrix in="n" type="matrix" values="0 0 0 0 0.25  0 0 0 0 0.75  0 0 0 0 1  0 0 0 2.6 -1.15"/><feComposite operator="in" in2="SourceGraphic"/></filter><path d="M940.6,801.7C944.2,800.1 953.7,794.2 962,792.3C970.3,790.4 981,790.1 990.5,790.3C1000,790.4 1008.5,790.7 1019,793.1C1029.4,795.5 1047.5,802.6 1053.1,804.5 L1047.5,837.8C1042.7,836.9 1028.5,833.4 1019,832.2C1009.5,830.9 1000,830.5 990.5,830.2C981,829.8 971,829.3 962,830.2C953,831 940.6,834.2 936.3,835 Z" fill="#fff" filter="url(#gr22)" opacity="0.5"/><path d="M940.6,801.7C944.2,800.1 953.7,794.2 962,792.3C970.3,790.4 981,790.1 990.5,790.3C1000,790.4 1008.5,790.7 1019,793.1C1029.4,795.5 1047.5,802.6 1053.1,804.5" fill="none" stroke="#3aa4fa" stroke-width="2.2" opacity="0.9"/><path d="M1047.5,837.8C1042.7,836.9 1028.5,833.4 1019,832.2C1009.5,830.9 1000,830.5 990.5,830.2C981,829.8 971,829.3 962,830.2C953,831 940.6,834.2 936.3,835" fill="none" stroke="#38b6fc" stroke-width="2.2" opacity="0.95"/><path id="arch2" d="M945.6,830.2C948.3,829.7 954.5,827.9 962,827.3C969.5,826.7 981,826.3 990.5,826.5C1000,826.6 1009.7,827.3 1019,828.4C1028.2,829.6 1041.5,832.7 1046,833.6" fill="none"/><text class="serif" font-size="42" opacity="0.62"><textPath href="#arch2" textLength="101" lengthAdjust="spacingAndGlyphs"><tspan fill="#58b8f8">MOF</tspan><tspan fill="#4fd6a8">CPL</tspan></textPath></text></g><rect x="978" y="874" width="74.6" height="6.9" fill="#fff" />
<clipPath id="cp3"><rect x="916" y="946.1" width="148.1" height="148.1"/></clipPath><g clip-path="url(#cp3)"><linearGradient id="p3g" x1="0" y1="0" x2="0" y2="1"><stop offset="0" stop-color="#040b3c"/><stop offset="0.5" stop-color="#050e46"/><stop offset="1" stop-color="#061250"/></linearGradient><rect x="916" y="946.1" width="148.1" height="148.1" fill="url(#p3g)" /><path d="M913.5,999.7C915.2,1000.4 920.2,1001.8 923.5,1004C926.8,1006.1 931,1009.4 933.5,1012.5C936,1015.6 937.9,1018.4 938.5,1022.5C939.1,1026.5 938.1,1032 937.1,1036.7C936,1041.5 934.3,1046.2 932.1,1051C929.8,1055.7 926.6,1061.4 923.5,1065.2C920.4,1069 915.2,1072.3 913.5,1073.8 Z" fill="#092c88" filter="url(#blur2)"/><path d="M1066,1028.2C1063.8,1028.6 1056.6,1029.4 1053.1,1031C1049.7,1032.7 1046.5,1035.3 1045.3,1038.1C1044.1,1041 1044.7,1045.5 1046,1048.1C1047.3,1050.7 1049.8,1052.4 1053.1,1053.8C1056.5,1055.2 1063.8,1056.2 1066,1056.7 Z" fill="#1248d8" filter="url(#blur2)"/><path d="M937.1,1031C939.3,1029.8 945.2,1026.6 950.6,1023.9C955.9,1021.2 962.5,1017.1 969.1,1014.6C975.8,1012.1 982.2,1010.2 990.5,1008.9C998.8,1007.7 1009.5,1007 1019,1007.1C1028.5,1007.2 1039.6,1008.5 1047.5,1009.4C1055.3,1010.2 1062.9,1011.7 1066,1012.2 L1066,1027C1062.9,1027.6 1055.3,1029.1 1047.5,1030.3C1039.6,1031.5 1028.5,1033.7 1019,1034.2C1009.5,1034.6 998.8,1033.7 990.5,1032.7C982.2,1031.7 975.5,1030.1 969.1,1028.2C962.7,1026.3 957.1,1022.9 952,1021.3C946.9,1019.7 940.7,1019 938.5,1018.5 Z" fill="#1468e0"/><filter id="gr33" x="0" y="0" width="100%" height="100%" color-interpolation-filters="sRGB"><feTurbulence type="fractalNoise" baseFrequency="0.8" numOctaves="2" seed="33" result="n"/><feColorMatrix in="n" type="matrix" values="0 0 0 0 0.25  0 0 0 0 0.75  0 0 0 0 1  0 0 0 2.6 -1.15"/><feComposite operator="in" in2="SourceGraphic"/></filter><path d="M937.1,1031C939.3,1029.8 945.2,1026.6 950.6,1023.9C955.9,1021.2 962.5,1017.1 969.1,1014.6C975.8,1012.1 982.2,1010.2 990.5,1008.9C998.8,1007.7 1009.5,1007 1019,1007.1C1028.5,1007.2 1039.6,1008.5 1047.5,1009.4C1055.3,1010.2 1062.9,1011.7 1066,1012.2 L1066,1027C1062.9,1027.6 1055.3,1029.1 1047.5,1030.3C1039.6,1031.5 1028.5,1033.7 1019,1034.2C1009.5,1034.6 998.8,1033.7 990.5,1032.7C982.2,1031.7 975.5,1030.1 969.1,1028.2C962.7,1026.3 957.1,1022.9 952,1021.3C946.9,1019.7 940.7,1019 938.5,1018.5 Z" fill="#fff" filter="url(#gr33)" opacity="0.45"/><path d="M937.1,1031C939.3,1029.8 945.2,1026.6 950.6,1023.9C955.9,1021.2 962.5,1017.1 969.1,1014.6C975.8,1012.1 982.2,1010.2 990.5,1008.9C998.8,1007.7 1009.5,1007 1019,1007.1C1028.5,1007.2 1039.6,1008.5 1047.5,1009.4C1055.3,1010.2 1062.9,1011.7 1066,1012.2" fill="none" stroke="#30b4ff" stroke-width="3.4"/><path d="M1066,1027C1062.9,1027.6 1055.3,1029.1 1047.5,1030.3C1039.6,1031.5 1028.5,1033.7 1019,1034.2C1009.5,1034.6 998.8,1033.7 990.5,1032.7C982.2,1031.7 975.5,1030.1 969.1,1028.2C962.7,1026.3 957.1,1022.9 952,1021.3C946.9,1019.7 940.7,1019 938.5,1018.5" fill="none" stroke="#2aa6fa" stroke-width="2.6"/><path d="M938,1032.2C939.7,1031.1 944.7,1027.8 947.7,1026C950.8,1024.3 954.9,1022.5 956.3,1021.8" fill="none" stroke="#38c0ff" stroke-width="3" stroke-linecap="round"/><text class="serif" x="961" y="1031.5" font-size="29" textLength="102" lengthAdjust="spacingAndGlyphs" transform="rotate(-1.5 961 1031)" opacity="0.7"><tspan fill="#0e34a8">OF</tspan><tspan fill="#1444b4">C</tspan><tspan fill="#4ad2d8">PL</tspan></text><circle cx="917.8" cy="962.7" r="0.6" fill="#2ea0c8" opacity="0.7"/><circle cx="936.5" cy="962.8" r="0.5" fill="#2ea0c8" opacity="0.8"/><circle cx="937.8" cy="1055.8" r="0.7" fill="#2ea0c8" opacity="0.5"/><circle cx="995.3" cy="1012.4" r="0.6" fill="#2ea0c8" opacity="0.9"/><circle cx="929.8" cy="949.1" r="0.9" fill="#2ea0c8" opacity="0.6"/><circle cx="945.4" cy="995" r="0.6" fill="#2ea0c8" opacity="0.9"/><circle cx="947.2" cy="978.2" r="0.7" fill="#2ea0c8" opacity="0.7"/><circle cx="1057.2" cy="1070.3" r="0.6" fill="#2ea0c8" opacity="0.5"/><circle cx="1039.9" cy="1092.6" r="0.4" fill="#2ea0c8" opacity="0.8"/><circle cx="1044.6" cy="1042.5" r="0.5" fill="#2ea0c8" opacity="0.8"/><circle cx="1024.1" cy="974.8" r="0.7" fill="#2ea0c8" opacity="0.5"/><circle cx="922.1" cy="995.9" r="0.6" fill="#2ea0c8" opacity="0.6"/></g><rect x="978" y="1078.5" width="74.6" height="6.7" fill="#fff" />
<clipPath id="cp4"><rect x="659.1" y="948" width="147.9" height="149.1"/></clipPath><g clip-path="url(#cp4)"><linearGradient id="p4g" x1="0" y1="0" x2="0" y2="1"><stop offset="0" stop-color="#0b1690"/><stop offset="0.3" stop-color="#09127a"/><stop offset="0.6" stop-color="#08106c"/><stop offset="1" stop-color="#0a1680"/></linearGradient><rect x="659.1" y="948" width="147.9" height="149.1" fill="url(#p4g)" /><polygon points="746.9,948.1 807,948.1 807,955.5 786.8,952" fill="#1a34d8" filter="url(#blur1)"/><polygon points="786.8,948.1 799.6,948.1 798.1,952.7 791,953" fill="#081050" /><path d="M657.8,985.4C658.9,986.9 662.3,990.9 664.2,994C666.1,997.1 668,1000.2 669.2,1004C670.4,1007.8 670.7,1012.7 671.4,1016.8C672.1,1020.8 673.5,1025.1 673.5,1028.2C673.5,1031.3 673.1,1033.9 671.4,1035.3C669.6,1036.7 665.1,1037 662.8,1036.7C660.6,1036.5 658.7,1034.3 657.8,1033.9 Z" fill="#2254f0" filter="url(#blur1)"/><path d="M786,1036.7C787.8,1036.5 793,1035.6 796.7,1035.3C800.4,1034.9 806.2,1031.7 808.1,1034.6C810,1037.4 810,1049.3 808.1,1052.4C806.2,1055.5 799.9,1053.8 796.7,1053.1C793.5,1052.4 790.2,1048.9 788.9,1048.1 Z" fill="#1a3cd4" filter="url(#blur1)"/><polygon points="668.5,1004 807,1013.9 807,1039.8 669.9,1028.5" fill="#184fd6" /><filter id="gr44" x="0" y="0" width="100%" height="100%" color-interpolation-filters="sRGB"><feTurbulence type="fractalNoise" baseFrequency="0.8" numOctaves="2" seed="44" result="n"/><feColorMatrix in="n" type="matrix" values="0 0 0 0 0.25  0 0 0 0 0.75  0 0 0 0 1  0 0 0 2.6 -1.15"/><feComposite operator="in" in2="SourceGraphic"/></filter><polygon points="668.5,1004 807,1013.9 807,1039.8 669.9,1028.5" fill="#fff" filter="url(#gr44)" opacity="0.5"/><polygon points="668.5,1004 807,1013.9 807,1015.8 668.5,1005.8" fill="#2c84f2" opacity="0.75"/><polygon points="669.9,1026.3 807,1037.7 807,1039.8 669.9,1028.5" fill="#3096f6" opacity="0.85"/><text class="serif" x="671.2" y="1028.2" font-size="31.5" textLength="130.5" lengthAdjust="spacingAndGlyphs" opacity="0.9" filter="url(#tsoft)" transform="rotate(4.3 671.2 1028.2)"><tspan fill="#5cbaf2">MOF</tspan><tspan fill="#3cbc80">CPL</tspan></text><circle cx="715.5" cy="982.4" r="0.5" fill="#2c6cf0" opacity="0.9"/><circle cx="744.6" cy="1050.9" r="0.7" fill="#2c6cf0" opacity="0.6"/><circle cx="767.3" cy="1033.9" r="0.8" fill="#2c6cf0" opacity="0.7"/><circle cx="783.2" cy="1013.5" r="0.5" fill="#2c6cf0" opacity="0.5"/><circle cx="766.1" cy="973" r="0.7" fill="#2c6cf0" opacity="0.7"/><circle cx="667.9" cy="1064.9" r="0.4" fill="#2c6cf0" opacity="0.8"/><circle cx="783.5" cy="980.2" r="0.8" fill="#2c6cf0" opacity="0.8"/><circle cx="677.6" cy="1047.9" r="0.5" fill="#2c6cf0" opacity="0.9"/><circle cx="761" cy="1094.1" r="0.4" fill="#2c6cf0" opacity="0.6"/><circle cx="750.8" cy="1038.7" r="0.5" fill="#2c6cf0" opacity="0.8"/><circle cx="784.3" cy="992.9" r="0.5" fill="#2c6cf0" opacity="0.7"/><circle cx="719.3" cy="1046.9" r="0.6" fill="#2c6cf0" opacity="0.6"/><circle cx="662.3" cy="968.1" r="0.6" fill="#2c6cf0" opacity="0.8"/><circle cx="722.1" cy="1059" r="0.7" fill="#2c6cf0" opacity="0.8"/><circle cx="756" cy="996" r="0.5" fill="#2c6cf0" opacity="0.4"/><circle cx="665" cy="1076.6" r="0.8" fill="#2c6cf0" opacity="0.8"/><circle cx="675.3" cy="1046.5" r="0.5" fill="#2c6cf0" opacity="0.8"/><circle cx="756" cy="1059.8" r="0.7" fill="#2c6cf0" opacity="0.6"/><circle cx="784.6" cy="1091.4" r="0.5" fill="#2c6cf0" opacity="0.6"/><circle cx="767.6" cy="1049.4" r="0.6" fill="#2c6cf0" opacity="0.6"/><circle cx="802.2" cy="989.1" r="0.5" fill="#2c6cf0" opacity="0.7"/><circle cx="700.1" cy="1081.8" r="0.6" fill="#2c6cf0" opacity="0.9"/></g><rect x="727.2" y="1078.1" width="74.3" height="7.1" fill="#fff" />
<polygon points="0,-7.8 32,-6.8 32,-14.8 47,0 32,14.8 32,6.8 0,7.8" fill="#d8d8d8" transform="translate(836 826.7)"/>
<polygon points="0,-8.2 32.5,-7.2 32.5,-15.5 48.5,0 32.5,15.5 32.5,7.2 0,8.2" fill="#d8d8d8" transform="translate(955.7 896.1) rotate(90)"/>
<polygon points="0,-8.2 33,-7.2 33,-15.2 49,0 33,15.2 33,7.2 0,8.2" fill="#d8d8d8" transform="translate(882.5 1012.5) rotate(180)"/>
<text transform="translate(813.9 801.2) scale(1 1)" font-size="25.9" fill="#c00000">Bending</text>
<text transform="translate(979.2 927.2) scale(1 1)" font-size="26" fill="#c00000">Twisting</text>
<text transform="translate(805 1050.8) scale(1 1)" font-size="26" fill="#c00000">Restoring</text>
<text transform="translate(683 935.4)" font-size="30">UV <tspan font-size="26.6" dx="-1">light</tspan></text>
<clipPath id="clipD"><rect x="1199.3" y="729.2" width="451" height="362.9"/></clipPath>
<rect x="1394" y="914" width="56" height="96" fill="#ececea" opacity="0.5" filter="url(#blur5)"/><linearGradient id="filmG" x1="0" y1="0" x2="1" y2="1"><stop offset="0" stop-color="#a8a8a8"/><stop offset="0.5" stop-color="#c4c4c4"/><stop offset="1" stop-color="#d6d6d6"/></linearGradient><path d="M1285.7,975.3 L1289.5,967.1 L1299.1,958.5 L1312.5,952.7 L1381.4,928.8 L1392.9,927.1 L1406.3,929.4 L1421.6,939.3 L1435,952.7 L1445.5,967.1 L1366.1,1006.3 L1358.4,987.2 L1348.9,970 L1337.4,958.5 L1324,953.7 L1312.5,955.6 L1299.1,964.2 L1289.5,975.7 Z" fill="url(#filmG)"/><polygon points="1289.5,975.7 1299.1,965.2 1312.5,960.4 1324,964.2 1297.2,974.7" fill="#8e8e8e" /><path d="M1285.7,975.3C1286.3,973.9 1287.3,969.9 1289.5,967.1C1291.8,964.3 1295.3,960.9 1299.1,958.5C1302.9,956.1 1308,953.8 1312.5,952.7C1317,951.6 1321.4,950.8 1325.9,951.8C1330.4,952.7 1335.1,955.3 1339.3,958.5C1343.4,961.7 1347.4,966.1 1350.8,970.9C1354.1,975.7 1356.8,981.3 1359.4,987.2C1361.9,993.1 1365,1003.1 1366.1,1006.3 L1363.2,1004.4C1362.1,1001.9 1359.1,994.2 1356.5,989.1C1354,984 1351.1,978.2 1347.9,973.8C1344.7,969.3 1341.2,965.2 1337.4,962.3C1333.5,959.4 1329.1,957.4 1324.9,956.6C1320.8,955.8 1316.5,956.4 1312.5,957.5C1308.5,958.6 1304.4,960.9 1301,963.3C1297.7,965.6 1294.5,969.7 1292.4,971.9C1290.3,974 1289.2,975.4 1288.6,976.1 Z" fill="#9a9a9a"/><linearGradient id="filmGr" x1="0" y1="0" x2="1" y2="0.6"><stop offset="0" stop-color="#a6cc8c"/><stop offset="0.5" stop-color="#9ac582"/><stop offset="1" stop-color="#8fbd78"/></linearGradient><path d="M1312.5,952.7 L1381.4,928.8 L1392.9,927.1 L1406.3,929.4 L1421.6,939.3 L1433.1,953.7 L1369.9,984.3 L1362.2,971.9 L1350.8,960.4 L1337.4,953.7 L1324,951.2 Z" fill="url(#filmGr)"/><polygon points="1369.9,984.3 1433.1,953.7 1445.5,967.1 1366.1,1006.3" fill="#cdcdcd" /><polygon points="1433.1,953.7 1445.5,967.1 1442.6,968.4 1430.8,955" fill="#dadada" /><line x1="1293.6" y1="982.5" x2="1353.1" y2="1002.7" stroke="#000" stroke-width="3.6" /><polygon points="1364.5,1006.6 1347.9,1008.9 1352.7,994.7" fill="#000" /><polygon points="1282.2,978.6 1298.8,976.3 1294,990.5" fill="#000" /><text transform="translate(1315 1026.5) scale(1 1.04)" font-size="26" >D</text>
<g clip-path="url(#clipD)" fill="none" stroke-linejoin="round" stroke-width="2.6">
<polyline points="1199.6,1051.1 1201.3,1050.6 1203,1048.8 1204.7,1044.8 1206.4,1042.4 1208.1,1039.8 1209.8,1038 1211.5,1036.5 1213.2,1031.8 1214.9,1027.9 1216.6,1027.7 1218.3,1025 1220,1024 1221.7,1019.8 1223.4,1018.2 1225.1,1017.5 1226.8,1014.4 1228.5,1014.5 1230.2,1013.5 1231.9,1008.8 1233.6,1005.2 1235.3,1004.4 1237,1004.5 1238.7,1001.4 1240.4,996.8 1242.1,993.6 1243.8,988.8 1245.5,985.3 1247.2,982.7 1248.9,980 1250.6,975.9 1252.3,972.2 1254,968.5 1255.7,965.9 1257.4,962.3 1259.1,957.8 1260.8,956.8 1262.5,953.7 1264.2,950.8 1265.9,945.9 1267.6,944.8 1269.3,942.1 1271,936.3 1272.7,932.4 1274.4,930.2 1276.1,927.4 1277.8,925.2 1279.5,919.9 1281.2,916.7 1282.9,912.5 1284.6,906.9 1286.3,903.1 1288,900.3 1289.7,896.8 1291.4,893.2 1293.1,890.6 1294.8,886 1296.5,883.2 1298.2,882.7 1299.9,879.9 1301.6,876.3 1303.3,874.7 1305,873.4 1306.7,871.5 1308.4,868.2 1310.1,865.1 1311.8,861 1313.5,857.8 1315.2,853.2 1316.9,848.3 1318.6,844 1320.3,838 1322,832.8 1323.7,830.6 1325.4,828.5 1327.1,824.4 1328.8,819.6 1330.5,814.4 1332.2,811.1 1333.9,810.4 1335.6,810.5 1337.3,809.6 1339,810.2 1340.7,808.1 1342.4,807.9 1344.1,809.4 1345.8,808.6 1347.5,807.7 1349.2,806.4 1350.9,805.5 1352.6,805.8 1354.3,801.8 1356,801.9 1357.7,801.5 1359.4,800.8 1361.1,799.3 1362.8,799.5 1364.5,798.7 1366.2,798.4 1367.9,797.8 1369.6,796.1 1371.3,798.3 1373,798.5 1374.7,797.2 1376.4,797.7 1378.1,798.6 1379.8,799.2 1381.5,799.9 1383.2,801.5 1384.9,803.2 1386.6,802 1388.3,800.1 1390,796.7 1391.7,794.9 1393.4,793.5 1395.1,794.7 1396.8,796.4 1398.5,797.1 1400.2,797.4 1401.9,797.5 1403.6,795.5 1405.3,796.9 1407,798 1408.7,796.9 1410.4,796.6 1412.1,796.9 1413.8,800.4 1415.5,800.9 1417.2,801.4 1418.9,804.9 1420.6,806.6 1422.3,807.4 1424,809.1 1425.7,812.3 1427.4,813.6 1429.1,815 1430.8,817.1 1432.5,817.5 1434.2,817.4 1435.9,818.1 1437.6,816.6 1439.3,817 1441,817.4 1442.7,816.6 1444.4,815.9 1446.1,818.4 1447.8,818.3 1449.5,817 1451.2,819 1452.9,822.5 1454.6,822.3 1456.3,823.2 1458,825.2 1459.7,829.4 1461.4,830.4 1463.1,833.8 1464.8,836.5 1466.5,838.3 1468.2,838.9 1469.9,843 1471.6,845.4 1473.3,846.5 1475,846.9 1476.7,849.4 1478.4,850.4 1480.1,852.3 1481.8,853.1 1483.5,855.4 1485.2,855.2 1486.9,856.7 1488.6,860.7 1490.3,863.3 1492,863.2 1493.7,865.9 1495.4,866.1 1497.1,869.3 1498.8,871.2 1500.5,871.7 1502.2,872.2 1503.9,872.2 1505.6,876.3 1507.3,876.2 1509,879.8 1510.7,883.1 1512.4,884.2 1514.1,884.1 1515.8,887.4 1517.5,890.8 1519.2,892.5 1520.9,893.6 1522.6,894.7 1524.3,896.1 1526,897.2 1527.7,900.5 1529.4,902.3 1531.1,903.4 1532.8,904.5 1534.5,908.2 1536.2,909.4 1537.9,911.3 1539.6,912.2 1541.3,915.5 1543,917.9 1544.7,916.6 1546.4,917.1 1548.1,918.5 1549.8,922.4 1551.5,924.4 1553.2,924.4 1554.9,924.5 1556.6,927.2 1558.3,930.2 1560,932.9 1561.7,932.9 1563.4,935.7 1565.1,937.3 1566.8,938.2 1568.5,941.3 1570.2,941 1571.9,943.4 1573.6,943.1 1575.3,944 1577,947.9 1578.7,948.1 1580.4,950.9 1582.1,952.6 1583.8,955.1 1585.5,955.4 1587.2,956.1 1588.9,957 1590.6,960.4 1592.3,961.9 1594,964.8 1595.7,966.6 1597.4,965.2 1599.1,966.6 1600.8,966.2 1602.5,966.2 1604.2,966.9 1605.9,970.8 1607.6,973.2 1609.3,975.3 1611,975 1612.7,976.5 1614.4,978.5 1616.1,978.6 1617.8,979.9 1619.5,979.8 1621.2,979.8 1622.9,981 1624.6,984.6 1626.3,985.8 1628,988.4 1629.7,988.6 1631.4,988.6 1633.1,991 1634.8,993.1 1636.5,991.8 1638.2,994.2 1639.9,993.9 1641.6,994.4 1643.3,998.3 1645,997.7 1646.7,998.8 1648.4,1002.9 1650.1,1003.5" stroke="#e8000f"/>
<polyline points="1199.6,1060.1 1201.3,1058.6 1203,1053.2 1204.7,1049.3 1206.4,1048.8 1208.1,1047.1 1209.8,1044.8 1211.5,1041 1213.2,1039 1214.9,1036.7 1216.6,1034.3 1218.3,1030.2 1220,1028 1221.7,1025.7 1223.4,1024.7 1225.1,1024.1 1226.8,1022.6 1228.5,1019.2 1230.2,1015.9 1231.9,1012.4 1233.6,1008.6 1235.3,1005.4 1237,1004.3 1238.7,1002 1240.4,999.4 1242.1,998.6 1243.8,995.4 1245.5,992.5 1247.2,988.3 1248.9,983.9 1250.6,981.3 1252.3,977.9 1254,976.1 1255.7,975.6 1257.4,972.8 1259.1,968 1260.8,966.6 1262.5,964 1264.2,961 1265.9,958.5 1267.6,955.2 1269.3,952.1 1271,947.4 1272.7,945.7 1274.4,943.3 1276.1,937.5 1277.8,935.2 1279.5,932.7 1281.2,929.2 1282.9,926.3 1284.6,923.4 1286.3,922.1 1288,918.6 1289.7,916.8 1291.4,912.7 1293.1,911.2 1294.8,909.3 1296.5,905.3 1298.2,902.2 1299.9,900.4 1301.6,897.3 1303.3,893.4 1305,888.9 1306.7,885.4 1308.4,883.6 1310.1,879.2 1311.8,878.3 1313.5,874 1315.2,872.7 1316.9,868.4 1318.6,867.8 1320.3,865.8 1322,863.1 1323.7,860.8 1325.4,859.2 1327.1,857.2 1328.8,854.2 1330.5,853.1 1332.2,854.9 1333.9,857.1 1335.6,854.6 1337.3,850.1 1339,849.4 1340.7,847.5 1342.4,846.2 1344.1,841.6 1345.8,840.1 1347.5,835.6 1349.2,834.4 1350.9,831.1 1352.6,828.1 1354.3,830.3 1356,830.3 1357.7,831.7 1359.4,831.8 1361.1,828.9 1362.8,826.5 1364.5,827 1366.2,824.9 1367.9,824.2 1369.6,820.5 1371.3,819.1 1373,816.9 1374.7,818.2 1376.4,816.6 1378.1,818.9 1379.8,816.6 1381.5,817.9 1383.2,815.8 1384.9,815.4 1386.6,817.3 1388.3,815.7 1390,814.9 1391.7,816.4 1393.4,816.1 1395.1,814.6 1396.8,817.3 1398.5,815.6 1400.2,814.2 1401.9,814.6 1403.6,815.8 1405.3,816.9 1407,815.1 1408.7,814.9 1410.4,813.6 1412.1,814.5 1413.8,818.7 1415.5,823.3 1417.2,827 1418.9,827.5 1420.6,828.5 1422.3,828.6 1424,828.1 1425.7,827 1427.4,828.4 1429.1,828 1430.8,827.2 1432.5,828.3 1434.2,830.8 1435.9,829.5 1437.6,830.9 1439.3,831.1 1441,832 1442.7,831.3 1444.4,834.3 1446.1,833.5 1447.8,834.7 1449.5,835.8 1451.2,836.1 1452.9,839.2 1454.6,840.2 1456.3,841.3 1458,842.7 1459.7,844.9 1461.4,846.2 1463.1,849.4 1464.8,851.3 1466.5,854.7 1468.2,857 1469.9,859 1471.6,857.8 1473.3,858.6 1475,858.8 1476.7,860.8 1478.4,862.7 1480.1,865 1481.8,866.6 1483.5,866.3 1485.2,867.4 1486.9,869 1488.6,868.5 1490.3,869 1492,871.3 1493.7,872 1495.4,875.4 1497.1,876.3 1498.8,877.3 1500.5,878.9 1502.2,880.9 1503.9,882.7 1505.6,885.8 1507.3,888 1509,889.5 1510.7,892.5 1512.4,893.3 1514.1,897.2 1515.8,900.5 1517.5,902.2 1519.2,902.8 1520.9,904.4 1522.6,906.3 1524.3,906.2 1526,908.4 1527.7,910.8 1529.4,911.7 1531.1,912.7 1532.8,916.7 1534.5,918.2 1536.2,920.4 1537.9,924 1539.6,925.6 1541.3,926.1 1543,929.9 1544.7,930.5 1546.4,930.3 1548.1,933.6 1549.8,934 1551.5,935.8 1553.2,939.7 1554.9,942.1 1556.6,941.3 1558.3,943.1 1560,944.5 1561.7,946.2 1563.4,946.7 1565.1,949 1566.8,949 1568.5,950.3 1570.2,952.1 1571.9,955.7 1573.6,955.1 1575.3,957.9 1577,957.6 1578.7,959.3 1580.4,960.1 1582.1,961.2 1583.8,963.4 1585.5,963.7 1587.2,963.3 1588.9,963.5 1590.6,963.9 1592.3,967.6 1594,969.2 1595.7,972 1597.4,973.4 1599.1,972.3 1600.8,974.8 1602.5,977.3 1604.2,979.2 1605.9,980.1 1607.6,980.7 1609.3,982.1 1611,984.9 1612.7,985.1 1614.4,986.8 1616.1,987.9 1617.8,990.7 1619.5,992.1 1621.2,993.8 1622.9,994.9 1624.6,993.9 1626.3,993.5 1628,994.8 1629.7,995 1631.4,996.3 1633.1,998.4 1634.8,1001 1636.5,1002 1638.2,1004 1639.9,1003.1 1641.6,1004.2 1643.3,1007.8 1645,1007.3 1646.7,1008.6 1648.4,1008.6 1650.1,1009.4" stroke="#1766e8"/>
<polyline points="1199.6,1059.4 1201.3,1057.7 1203,1055.1 1204.7,1053.5 1206.4,1051.7 1208.1,1047.5 1209.8,1044 1211.5,1044.1 1213.2,1041 1214.9,1038.1 1216.6,1038.4 1218.3,1035.5 1220,1034.2 1221.7,1031.1 1223.4,1028.9 1225.1,1024.8 1226.8,1023.3 1228.5,1022.2 1230.2,1019.3 1231.9,1017.4 1233.6,1015.1 1235.3,1010.4 1237,1009.4 1238.7,1007.1 1240.4,1003.1 1242.1,998.7 1243.8,998.1 1245.5,994.9 1247.2,992.9 1248.9,991 1250.6,988.1 1252.3,985.9 1254,981.5 1255.7,979.3 1257.4,975.4 1259.1,973.7 1260.8,971.2 1262.5,965.4 1264.2,961 1265.9,957.6 1267.6,957.1 1269.3,953.5 1271,950.8 1272.7,946.8 1274.4,943.9 1276.1,940.5 1277.8,937.1 1279.5,934.6 1281.2,931.6 1282.9,929.7 1284.6,926.3 1286.3,923.9 1288,920.8 1289.7,918.1 1291.4,913.9 1293.1,908.2 1294.8,906.2 1296.5,903.9 1298.2,901.2 1299.9,897.8 1301.6,895.4 1303.3,891.1 1305,890 1306.7,887.3 1308.4,883.7 1310.1,879.8 1311.8,879.6 1313.5,878.9 1315.2,874 1316.9,873 1318.6,870.3 1320.3,867.2 1322,865.2 1323.7,865.2 1325.4,864.8 1327.1,860.7 1328.8,859.9 1330.5,856.5 1332.2,856.4 1333.9,854.1 1335.6,854.2 1337.3,853.8 1339,850.5 1340.7,849.5 1342.4,845.3 1344.1,841.1 1345.8,840.4 1347.5,839 1349.2,839 1350.9,840 1352.6,841.4 1354.3,840.5 1356,839.8 1357.7,842.4 1359.4,841.3 1361.1,843 1362.8,843.4 1364.5,841.5 1366.2,840.6 1367.9,840.1 1369.6,840.2 1371.3,839.8 1373,839.3 1374.7,838.6 1376.4,839.1 1378.1,837.3 1379.8,835.6 1381.5,835.4 1383.2,833.1 1384.9,831.7 1386.6,832.7 1388.3,830.9 1390,829.4 1391.7,825.9 1393.4,825 1395.1,824.5 1396.8,821.5 1398.5,821.6 1400.2,823.9 1401.9,824.3 1403.6,827.7 1405.3,829.9 1407,833 1408.7,834.4 1410.4,834.4 1412.1,834.2 1413.8,831 1415.5,829 1417.2,829.8 1418.9,831 1420.6,828.6 1422.3,827.4 1424,826.9 1425.7,825.1 1427.4,823.8 1429.1,822.4 1430.8,821.9 1432.5,824.1 1434.2,824.8 1435.9,826.1 1437.6,829 1439.3,828.3 1441,830.7 1442.7,833.3 1444.4,833.8 1446.1,834.4 1447.8,837.6 1449.5,837.9 1451.2,838.6 1452.9,840.5 1454.6,843.3 1456.3,843.2 1458,845 1459.7,846.9 1461.4,850.7 1463.1,852.1 1464.8,855.3 1466.5,855.3 1468.2,856.8 1469.9,859.7 1471.6,863 1473.3,864 1475,864.5 1476.7,865.2 1478.4,867.8 1480.1,868.7 1481.8,872.4 1483.5,875.2 1485.2,875.1 1486.9,876.1 1488.6,879.5 1490.3,881.5 1492,883.9 1493.7,884.3 1495.4,884.5 1497.1,886.2 1498.8,890 1500.5,891 1502.2,892.8 1503.9,895 1505.6,897.1 1507.3,899.1 1509,903.1 1510.7,903.3 1512.4,903.8 1514.1,908.5 1515.8,911.7 1517.5,914.4 1519.2,914.4 1520.9,917 1522.6,919.1 1524.3,918.3 1526,920.5 1527.7,922.7 1529.4,924 1531.1,924.8 1532.8,925.1 1534.5,926.1 1536.2,927 1537.9,927.5 1539.6,930.5 1541.3,931.6 1543,935 1544.7,934.6 1546.4,938.3 1548.1,940.2 1549.8,942.9 1551.5,944.9 1553.2,946.7 1554.9,947.2 1556.6,945.6 1558.3,947.9 1560,947.4 1561.7,948.1 1563.4,950.3 1565.1,951.5 1566.8,952.2 1568.5,955 1570.2,955.8 1571.9,955.6 1573.6,955.7 1575.3,958.5 1577,959.2 1578.7,961.3 1580.4,961.3 1582.1,961.3 1583.8,963.1 1585.5,965.7 1587.2,965.2 1588.9,967.8 1590.6,970.3 1592.3,971.8 1594,973.2 1595.7,971.5 1597.4,973.8 1599.1,976.6 1600.8,975.8 1602.5,976.8 1604.2,978.1 1605.9,980.4 1607.6,982 1609.3,983.8 1611,986.6 1612.7,985.9 1614.4,986.4 1616.1,987.5 1617.8,988.7 1619.5,989.7 1621.2,994.4 1622.9,997.1 1624.6,996.2 1626.3,998 1628,998.8 1629.7,999.9 1631.4,1001.3 1633.1,1003.7 1634.8,1005.4 1636.5,1005.8 1638.2,1005.8 1639.9,1006.8 1641.6,1007 1643.3,1009.2 1645,1011.5 1646.7,1011.9 1648.4,1011.5 1650.1,1012.1" stroke="#80b9ea"/>
<polyline points="1199.6,1060.2 1201.3,1057.3 1203,1056 1204.7,1053.5 1206.4,1051 1208.1,1050 1209.8,1050.7 1211.5,1049.7 1213.2,1048.2 1214.9,1044.5 1216.6,1042.9 1218.3,1040.1 1220,1037 1221.7,1034 1223.4,1031.7 1225.1,1032.1 1226.8,1030.9 1228.5,1029.1 1230.2,1027 1231.9,1022.6 1233.6,1019.5 1235.3,1018 1237,1016.5 1238.7,1015.1 1240.4,1013 1242.1,1007.5 1243.8,1005.3 1245.5,1003.1 1247.2,1000.1 1248.9,995.9 1250.6,993.5 1252.3,989.5 1254,989.3 1255.7,987.7 1257.4,984.4 1259.1,980.2 1260.8,978.8 1262.5,975.4 1264.2,973.3 1265.9,970.6 1267.6,966.5 1269.3,962.5 1271,959.6 1272.7,956 1274.4,951.6 1276.1,948.4 1277.8,947.1 1279.5,942.4 1281.2,938.7 1282.9,937.6 1284.6,934.5 1286.3,932.5 1288,929.9 1289.7,926.8 1291.4,926.3 1293.1,921.8 1294.8,918.9 1296.5,915.3 1298.2,913.9 1299.9,910.9 1301.6,908.5 1303.3,907.7 1305,904.6 1306.7,902.8 1308.4,902.1 1310.1,897.9 1311.8,895.5 1313.5,894.4 1315.2,895.3 1316.9,894.8 1318.6,893.4 1320.3,893.4 1322,893 1323.7,893.9 1325.4,893 1327.1,895.1 1328.8,897.1 1330.5,897.3 1332.2,895.1 1333.9,893.9 1335.6,888.7 1337.3,886 1339,886.2 1340.7,884.7 1342.4,881.7 1344.1,881.2 1345.8,878.9 1347.5,877.5 1349.2,873.9 1350.9,870.7 1352.6,869.1 1354.3,866.2 1356,864.7 1357.7,865.2 1359.4,862.2 1361.1,858.6 1362.8,856.3 1364.5,854.8 1366.2,855.8 1367.9,854 1369.6,852.2 1371.3,849.8 1373,851.2 1374.7,849.5 1376.4,847.2 1378.1,844.9 1379.8,843.1 1381.5,842 1383.2,842.8 1384.9,840.8 1386.6,840.1 1388.3,841.6 1390,841.6 1391.7,844.6 1393.4,843 1395.1,843.9 1396.8,845.4 1398.5,845.8 1400.2,848.7 1401.9,848.9 1403.6,848.6 1405.3,849.6 1407,849.3 1408.7,851 1410.4,852.1 1412.1,855.7 1413.8,858.1 1415.5,858.8 1417.2,858 1418.9,859 1420.6,860.1 1422.3,861.2 1424,862.5 1425.7,866.3 1427.4,866.2 1429.1,866.3 1430.8,870 1432.5,871.1 1434.2,873.8 1435.9,873.5 1437.6,875.7 1439.3,876.5 1441,877.8 1442.7,878.9 1444.4,879 1446.1,877.9 1447.8,878.3 1449.5,881.4 1451.2,883.7 1452.9,885.6 1454.6,884.8 1456.3,886 1458,887.7 1459.7,888.5 1461.4,890.1 1463.1,890.3 1464.8,891.3 1466.5,892.5 1468.2,892 1469.9,894.3 1471.6,896.1 1473.3,894 1475,896.5 1476.7,898.2 1478.4,898.3 1480.1,896.3 1481.8,898.8 1483.5,897.5 1485.2,900.3 1486.9,901 1488.6,899.8 1490.3,900.9 1492,904 1493.7,906.4 1495.4,909.2 1497.1,912.2 1498.8,912.1 1500.5,912 1502.2,916.3 1503.9,916.1 1505.6,920 1507.3,920.2 1509,923.4 1510.7,925.5 1512.4,927.7 1514.1,928.3 1515.8,930.5 1517.5,929.7 1519.2,931.7 1520.9,932.1 1522.6,935 1524.3,936.8 1526,937.3 1527.7,938.3 1529.4,937.6 1531.1,937.9 1532.8,940.8 1534.5,942.6 1536.2,945.6 1537.9,946.9 1539.6,946.5 1541.3,947.7 1543,950.5 1544.7,951.7 1546.4,951.1 1548.1,954.6 1549.8,957.4 1551.5,956.9 1553.2,959.1 1554.9,960.4 1556.6,963.5 1558.3,964.1 1560,965 1561.7,967.1 1563.4,970.9 1565.1,970.5 1566.8,971.1 1568.5,973.5 1570.2,976.3 1571.9,976.8 1573.6,977.3 1575.3,979.6 1577,981 1578.7,979.6 1580.4,982.3 1582.1,981.7 1583.8,982.2 1585.5,985 1587.2,985.4 1588.9,987.5 1590.6,986.7 1592.3,989.5 1594,988.8 1595.7,988.7 1597.4,990.5 1599.1,991.3 1600.8,993 1602.5,995.8 1604.2,997 1605.9,995.5 1607.6,996.2 1609.3,997.8 1611,998.8 1612.7,1000.6 1614.4,1001.2 1616.1,1000.3 1617.8,1000.8 1619.5,1003.8 1621.2,1003.9 1622.9,1005.9 1624.6,1008.3 1626.3,1008.6 1628,1009.7 1629.7,1010.6 1631.4,1010.6 1633.1,1013.5 1634.8,1013.9 1636.5,1016.5 1638.2,1016.1 1639.9,1018.7 1641.6,1020.3 1643.3,1021.2 1645,1021.5 1646.7,1021.2 1648.4,1024 1650.1,1024.5" stroke="#a9cbfa"/>
</g>
<line x1="1503.2" y1="752.1" x2="1545.3" y2="752.1" stroke="#e8000f" stroke-width="2.6" />
<line x1="1503.2" y1="776.2" x2="1545.3" y2="776.2" stroke="#1766e8" stroke-width="2.6" />
<line x1="1503.2" y1="799.9" x2="1545.3" y2="799.9" stroke="#80b9ea" stroke-width="2.6" />
<line x1="1503.2" y1="824" x2="1545.3" y2="824" stroke="#a9cbfa" stroke-width="2.6" />
<text transform="translate(1556.6 758.8) scale(1 1)" font-size="18.5" >Flat</text>
<text transform="translate(1556.6 782.8) scale(1 1)" font-size="18.5" >D=10mm</text>
<text transform="translate(1556.6 806.5) scale(1 1)" font-size="18.5" >D=20mm</text>
<text transform="translate(1556.6 830.2) scale(1 1)" font-size="18.5" >D=30mm</text>
<rect x="1199.3" y="729.2" width="451" height="362.9" fill="none" stroke="#000" stroke-width="2.5"/>
<line x1="1192.3" y1="729.2" x2="1199.3" y2="729.2" stroke="#000" stroke-width="2.4" />
<line x1="1192.3" y1="850.3" x2="1199.3" y2="850.3" stroke="#000" stroke-width="2.4" />
<line x1="1192.3" y1="971.6" x2="1199.3" y2="971.6" stroke="#000" stroke-width="2.4" />
<line x1="1192.3" y1="1092.1" x2="1199.3" y2="1092.1" stroke="#000" stroke-width="2.4" />
<line x1="1195.7" y1="789.6" x2="1199.3" y2="789.6" stroke="#000" stroke-width="2" />
<line x1="1195.7" y1="910.6" x2="1199.3" y2="910.6" stroke="#000" stroke-width="2" />
<line x1="1195.7" y1="1032.2" x2="1199.3" y2="1032.2" stroke="#000" stroke-width="2" />
<line x1="1251.9" y1="1092.1" x2="1251.9" y2="1099.1" stroke="#000" stroke-width="2.4" />
<line x1="1384.8" y1="1092.1" x2="1384.8" y2="1099.1" stroke="#000" stroke-width="2.4" />
<line x1="1517.6" y1="1092.1" x2="1517.6" y2="1099.1" stroke="#000" stroke-width="2.4" />
<line x1="1650.3" y1="1092.1" x2="1650.3" y2="1099.1" stroke="#000" stroke-width="2.4" />
<line x1="1318.4" y1="1092.1" x2="1318.4" y2="1095.7" stroke="#000" stroke-width="2" />
<line x1="1451.2" y1="1092.1" x2="1451.2" y2="1095.7" stroke="#000" stroke-width="2" />
<line x1="1584" y1="1092.1" x2="1584" y2="1095.7" stroke="#000" stroke-width="2" />
<text transform="translate(1188 738) scale(1 1.04)" font-size="25.7" text-anchor="end" >1500</text>
<text transform="translate(1188 859) scale(1 1.04)" font-size="25.7" text-anchor="end" >1000</text>
<text transform="translate(1188 980.3) scale(1 1.04)" font-size="25.7" text-anchor="end" >500</text>
<text transform="translate(1188 1100.8) scale(1 1.04)" font-size="25.7" text-anchor="end" >0</text>
<text transform="translate(1252.4 1123.2) scale(1 1.04)" font-size="26.2" text-anchor="middle" >500</text>
<text transform="translate(1385.4 1123.2) scale(1 1.04)" font-size="26.2" text-anchor="middle" >550</text>
<text transform="translate(1518 1123.2) scale(1 1.04)" font-size="26.2" text-anchor="middle" >600</text>
<text transform="translate(1651.4 1123.2) scale(1 1.04)" font-size="26.2" text-anchor="middle" >650</text>
<text transform="translate(1427.6 1153) scale(1 1)" font-size="26.1" text-anchor="middle" >Wavelength (nm)</text>
<text transform="translate(1117.7 911.4) rotate(-90)" font-size="26.1" text-anchor="middle" >CPL (mdeg)</text>
</g>
</svg>
</body>
</html>
